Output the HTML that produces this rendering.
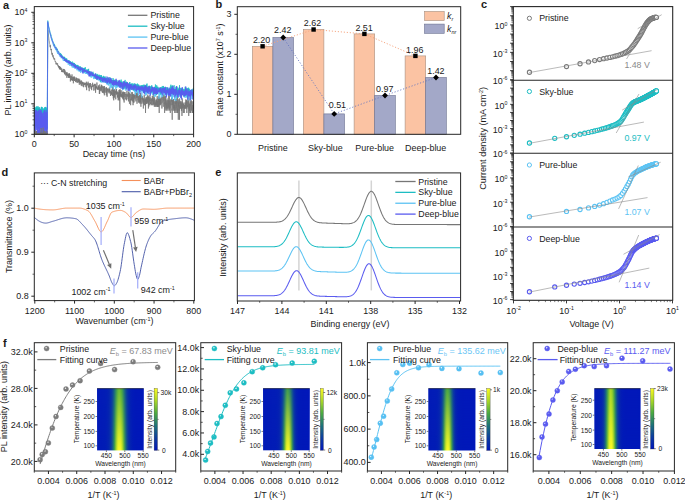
<!DOCTYPE html>
<html><head><meta charset="utf-8"><style>html,body{margin:0;padding:0;background:#fff;width:685px;height:500px;overflow:hidden}svg{display:block}</style></head>
<body><svg width="685" height="500" viewBox="0 0 685 500" font-family='"Liberation Sans", sans-serif'><defs><linearGradient id="hm0_b" gradientUnits="userSpaceOnUse" x1="97.10" y1="0" x2="143.70" y2="0"><stop offset="0.0000" stop-color="#011ab7"/><stop offset="0.0250" stop-color="#011bb7"/><stop offset="0.0500" stop-color="#021bb7"/><stop offset="0.0750" stop-color="#021bb7"/><stop offset="0.1000" stop-color="#021bb6"/><stop offset="0.1250" stop-color="#021cb6"/><stop offset="0.1500" stop-color="#021cb6"/><stop offset="0.1750" stop-color="#021db5"/><stop offset="0.2000" stop-color="#031fb4"/><stop offset="0.2250" stop-color="#0422b2"/><stop offset="0.2500" stop-color="#0527ae"/><stop offset="0.2750" stop-color="#0830a8"/><stop offset="0.3000" stop-color="#0c3d9f"/><stop offset="0.3250" stop-color="#15588c"/><stop offset="0.3500" stop-color="#257b70"/><stop offset="0.3750" stop-color="#46a447"/><stop offset="0.4000" stop-color="#8cc930"/><stop offset="0.4250" stop-color="#cbe526"/><stop offset="0.4500" stop-color="#f7f823"/><stop offset="0.4750" stop-color="#fafa23"/><stop offset="0.5000" stop-color="#fafa23"/><stop offset="0.5250" stop-color="#dded25"/><stop offset="0.5500" stop-color="#abd828"/><stop offset="0.5750" stop-color="#63b63b"/><stop offset="0.6000" stop-color="#348d5e"/><stop offset="0.6250" stop-color="#1a6681"/><stop offset="0.6500" stop-color="#104798"/><stop offset="0.6750" stop-color="#0933a6"/><stop offset="0.7000" stop-color="#0628ae"/><stop offset="0.7250" stop-color="#0321b3"/><stop offset="0.7500" stop-color="#021db5"/><stop offset="0.7750" stop-color="#011ab7"/><stop offset="0.8000" stop-color="#0119b8"/><stop offset="0.8250" stop-color="#0119b8"/><stop offset="0.8500" stop-color="#0118b8"/><stop offset="0.8750" stop-color="#0118b9"/><stop offset="0.9000" stop-color="#0118b9"/><stop offset="0.9250" stop-color="#0118b9"/><stop offset="0.9500" stop-color="#0118b9"/><stop offset="0.9750" stop-color="#0118b9"/><stop offset="1.0000" stop-color="#0118b9"/></linearGradient><linearGradient id="hm0_t" gradientUnits="userSpaceOnUse" x1="97.10" y1="0" x2="143.70" y2="0"><stop offset="0.0000" stop-color="#011ab7"/><stop offset="0.0250" stop-color="#011bb7"/><stop offset="0.0500" stop-color="#021bb7"/><stop offset="0.0750" stop-color="#021bb7"/><stop offset="0.1000" stop-color="#021bb6"/><stop offset="0.1250" stop-color="#021cb6"/><stop offset="0.1500" stop-color="#021cb6"/><stop offset="0.1750" stop-color="#021db5"/><stop offset="0.2000" stop-color="#021eb5"/><stop offset="0.2250" stop-color="#0320b3"/><stop offset="0.2500" stop-color="#0423b1"/><stop offset="0.2750" stop-color="#0629ad"/><stop offset="0.3000" stop-color="#0831a8"/><stop offset="0.3250" stop-color="#0c3da0"/><stop offset="0.3500" stop-color="#135290"/><stop offset="0.3750" stop-color="#1c6c7d"/><stop offset="0.4000" stop-color="#2e8764"/><stop offset="0.4250" stop-color="#43a04b"/><stop offset="0.4500" stop-color="#5bb13d"/><stop offset="0.4750" stop-color="#6bb939"/><stop offset="0.5000" stop-color="#59b13d"/><stop offset="0.5250" stop-color="#47a546"/><stop offset="0.5500" stop-color="#36905b"/><stop offset="0.5750" stop-color="#207675"/><stop offset="0.6000" stop-color="#165b89"/><stop offset="0.6250" stop-color="#0e439b"/><stop offset="0.6500" stop-color="#0933a6"/><stop offset="0.6750" stop-color="#0629ad"/><stop offset="0.7000" stop-color="#0422b2"/><stop offset="0.7250" stop-color="#021eb5"/><stop offset="0.7500" stop-color="#021bb7"/><stop offset="0.7750" stop-color="#011ab8"/><stop offset="0.8000" stop-color="#0119b8"/><stop offset="0.8250" stop-color="#0118b8"/><stop offset="0.8500" stop-color="#0118b8"/><stop offset="0.8750" stop-color="#0118b9"/><stop offset="0.9000" stop-color="#0118b9"/><stop offset="0.9250" stop-color="#0118b9"/><stop offset="0.9500" stop-color="#0118b9"/><stop offset="0.9750" stop-color="#0118b9"/><stop offset="1.0000" stop-color="#0118b9"/></linearGradient><linearGradient id="hm0_v" x1="0" y1="0" x2="0" y2="1"><stop offset="0" stop-color="#fff"/><stop offset="1" stop-color="#000"/></linearGradient><mask id="hm0_m" maskUnits="userSpaceOnUse" x="96.10" y="387.40" width="48.60" height="64.00"><rect x="97.10" y="388.40" width="46.60" height="62.00" fill="url(#hm0_v)"/></mask><linearGradient id="cb0" x1="0" y1="0" x2="0" y2="1"><stop offset="0.000" stop-color="#fafa23"/><stop offset="0.050" stop-color="#e6f124"/><stop offset="0.100" stop-color="#d2e826"/><stop offset="0.150" stop-color="#bee027"/><stop offset="0.200" stop-color="#aad728"/><stop offset="0.250" stop-color="#92cc2e"/><stop offset="0.300" stop-color="#7ac035"/><stop offset="0.350" stop-color="#63b53b"/><stop offset="0.400" stop-color="#4baa41"/><stop offset="0.450" stop-color="#409c4f"/><stop offset="0.500" stop-color="#348e5c"/><stop offset="0.550" stop-color="#29816a"/><stop offset="0.600" stop-color="#1e7378"/><stop offset="0.650" stop-color="#196582"/><stop offset="0.700" stop-color="#15588c"/><stop offset="0.750" stop-color="#104a96"/><stop offset="0.800" stop-color="#0c3ca0"/><stop offset="0.850" stop-color="#0932a6"/><stop offset="0.900" stop-color="#0629ad"/><stop offset="0.950" stop-color="#0320b4"/><stop offset="1.000" stop-color="#0016ba"/></linearGradient><radialGradient id="sg0" cx="0.4" cy="0.35" r="0.65"><stop offset="0" stop-color="#ffffff" stop-opacity="0.85"/><stop offset="0.35" stop-color="#7c7c7c" stop-opacity="1"/><stop offset="1" stop-color="#7c7c7c"/></radialGradient><linearGradient id="hm1_b" gradientUnits="userSpaceOnUse" x1="263.10" y1="0" x2="309.70" y2="0"><stop offset="0.0000" stop-color="#011ab7"/><stop offset="0.0250" stop-color="#011ab7"/><stop offset="0.0500" stop-color="#011ab7"/><stop offset="0.0750" stop-color="#011bb7"/><stop offset="0.1000" stop-color="#021bb7"/><stop offset="0.1250" stop-color="#021bb7"/><stop offset="0.1500" stop-color="#021bb6"/><stop offset="0.1750" stop-color="#021bb6"/><stop offset="0.2000" stop-color="#021cb6"/><stop offset="0.2250" stop-color="#021cb6"/><stop offset="0.2500" stop-color="#021cb6"/><stop offset="0.2750" stop-color="#021db5"/><stop offset="0.3000" stop-color="#031eb4"/><stop offset="0.3250" stop-color="#0421b2"/><stop offset="0.3500" stop-color="#0627ae"/><stop offset="0.3750" stop-color="#0933a6"/><stop offset="0.4000" stop-color="#114a96"/><stop offset="0.4250" stop-color="#1e7279"/><stop offset="0.4500" stop-color="#46a447"/><stop offset="0.4750" stop-color="#9ed12b"/><stop offset="0.5000" stop-color="#e3f024"/><stop offset="0.5250" stop-color="#fafa23"/><stop offset="0.5500" stop-color="#fafa23"/><stop offset="0.5750" stop-color="#d3e925"/><stop offset="0.6000" stop-color="#89c831"/><stop offset="0.6250" stop-color="#3d9853"/><stop offset="0.6500" stop-color="#1a6781"/><stop offset="0.6750" stop-color="#0d419d"/><stop offset="0.7000" stop-color="#072daa"/><stop offset="0.7250" stop-color="#0423b1"/><stop offset="0.7500" stop-color="#021db5"/><stop offset="0.7750" stop-color="#011ab7"/><stop offset="0.8000" stop-color="#0119b8"/><stop offset="0.8250" stop-color="#0119b8"/><stop offset="0.8500" stop-color="#0118b8"/><stop offset="0.8750" stop-color="#0118b8"/><stop offset="0.9000" stop-color="#0118b9"/><stop offset="0.9250" stop-color="#0118b9"/><stop offset="0.9500" stop-color="#0118b9"/><stop offset="0.9750" stop-color="#0118b9"/><stop offset="1.0000" stop-color="#0118b9"/></linearGradient><linearGradient id="hm1_t" gradientUnits="userSpaceOnUse" x1="263.10" y1="0" x2="309.70" y2="0"><stop offset="0.0000" stop-color="#011ab7"/><stop offset="0.0250" stop-color="#011ab7"/><stop offset="0.0500" stop-color="#011ab7"/><stop offset="0.0750" stop-color="#011bb7"/><stop offset="0.1000" stop-color="#021bb7"/><stop offset="0.1250" stop-color="#021bb7"/><stop offset="0.1500" stop-color="#021bb6"/><stop offset="0.1750" stop-color="#021bb6"/><stop offset="0.2000" stop-color="#021cb6"/><stop offset="0.2250" stop-color="#021cb6"/><stop offset="0.2500" stop-color="#021cb6"/><stop offset="0.2750" stop-color="#021db5"/><stop offset="0.3000" stop-color="#021db5"/><stop offset="0.3250" stop-color="#031fb4"/><stop offset="0.3500" stop-color="#0422b2"/><stop offset="0.3750" stop-color="#0628ae"/><stop offset="0.4000" stop-color="#0932a7"/><stop offset="0.4250" stop-color="#0e419c"/><stop offset="0.4500" stop-color="#165b8a"/><stop offset="0.4750" stop-color="#207675"/><stop offset="0.5000" stop-color="#338d5e"/><stop offset="0.5250" stop-color="#3e9a51"/><stop offset="0.5500" stop-color="#379259"/><stop offset="0.5750" stop-color="#2c8467"/><stop offset="0.6000" stop-color="#1c6c7d"/><stop offset="0.6250" stop-color="#135191"/><stop offset="0.6500" stop-color="#0b39a2"/><stop offset="0.6750" stop-color="#072cab"/><stop offset="0.7000" stop-color="#0423b1"/><stop offset="0.7250" stop-color="#021eb5"/><stop offset="0.7500" stop-color="#021bb7"/><stop offset="0.7750" stop-color="#0119b8"/><stop offset="0.8000" stop-color="#0119b8"/><stop offset="0.8250" stop-color="#0119b8"/><stop offset="0.8500" stop-color="#0118b8"/><stop offset="0.8750" stop-color="#0118b8"/><stop offset="0.9000" stop-color="#0118b9"/><stop offset="0.9250" stop-color="#0118b9"/><stop offset="0.9500" stop-color="#0118b9"/><stop offset="0.9750" stop-color="#0118b9"/><stop offset="1.0000" stop-color="#0118b9"/></linearGradient><linearGradient id="hm1_v" x1="0" y1="0" x2="0" y2="1"><stop offset="0" stop-color="#fff"/><stop offset="1" stop-color="#000"/></linearGradient><mask id="hm1_m" maskUnits="userSpaceOnUse" x="262.10" y="387.40" width="48.60" height="63.90"><rect x="263.10" y="388.40" width="46.60" height="61.90" fill="url(#hm1_v)"/></mask><linearGradient id="cb1" x1="0" y1="0" x2="0" y2="1"><stop offset="0.000" stop-color="#fafa23"/><stop offset="0.050" stop-color="#e6f124"/><stop offset="0.100" stop-color="#d2e826"/><stop offset="0.150" stop-color="#bee027"/><stop offset="0.200" stop-color="#aad728"/><stop offset="0.250" stop-color="#92cc2e"/><stop offset="0.300" stop-color="#7ac035"/><stop offset="0.350" stop-color="#63b53b"/><stop offset="0.400" stop-color="#4baa41"/><stop offset="0.450" stop-color="#409c4f"/><stop offset="0.500" stop-color="#348e5c"/><stop offset="0.550" stop-color="#29816a"/><stop offset="0.600" stop-color="#1e7378"/><stop offset="0.650" stop-color="#196582"/><stop offset="0.700" stop-color="#15588c"/><stop offset="0.750" stop-color="#104a96"/><stop offset="0.800" stop-color="#0c3ca0"/><stop offset="0.850" stop-color="#0932a6"/><stop offset="0.900" stop-color="#0629ad"/><stop offset="0.950" stop-color="#0320b4"/><stop offset="1.000" stop-color="#0016ba"/></linearGradient><radialGradient id="sg1" cx="0.4" cy="0.35" r="0.65"><stop offset="0" stop-color="#ffffff" stop-opacity="0.85"/><stop offset="0.35" stop-color="#1dbdc3" stop-opacity="1"/><stop offset="1" stop-color="#1dbdc3"/></radialGradient><linearGradient id="hm2_b" gradientUnits="userSpaceOnUse" x1="428.40" y1="0" x2="475.40" y2="0"><stop offset="0.0000" stop-color="#021bb7"/><stop offset="0.0250" stop-color="#021bb6"/><stop offset="0.0500" stop-color="#021bb6"/><stop offset="0.0750" stop-color="#021cb6"/><stop offset="0.1000" stop-color="#021cb6"/><stop offset="0.1250" stop-color="#021cb6"/><stop offset="0.1500" stop-color="#021db5"/><stop offset="0.1750" stop-color="#031eb4"/><stop offset="0.2000" stop-color="#0321b3"/><stop offset="0.2250" stop-color="#0526af"/><stop offset="0.2500" stop-color="#0931a7"/><stop offset="0.2750" stop-color="#0f4798"/><stop offset="0.3000" stop-color="#1c6e7c"/><stop offset="0.3250" stop-color="#43a04b"/><stop offset="0.3500" stop-color="#97ce2d"/><stop offset="0.3750" stop-color="#dfee25"/><stop offset="0.4000" stop-color="#fafa23"/><stop offset="0.4250" stop-color="#fafa23"/><stop offset="0.4500" stop-color="#d5ea25"/><stop offset="0.4750" stop-color="#8cc930"/><stop offset="0.5000" stop-color="#3e9a51"/><stop offset="0.5250" stop-color="#1a6880"/><stop offset="0.5500" stop-color="#0e419d"/><stop offset="0.5750" stop-color="#072daa"/><stop offset="0.6000" stop-color="#0422b2"/><stop offset="0.6250" stop-color="#021db5"/><stop offset="0.6500" stop-color="#011ab7"/><stop offset="0.6750" stop-color="#0119b8"/><stop offset="0.7000" stop-color="#0119b8"/><stop offset="0.7250" stop-color="#0118b8"/><stop offset="0.7500" stop-color="#0118b8"/><stop offset="0.7750" stop-color="#0118b9"/><stop offset="0.8000" stop-color="#0118b9"/><stop offset="0.8250" stop-color="#0118b9"/><stop offset="0.8500" stop-color="#0118b9"/><stop offset="0.8750" stop-color="#0118b9"/><stop offset="0.9000" stop-color="#0118b9"/><stop offset="0.9250" stop-color="#0118b9"/><stop offset="0.9500" stop-color="#0118b9"/><stop offset="0.9750" stop-color="#0018b9"/><stop offset="1.0000" stop-color="#0018b9"/></linearGradient><linearGradient id="hm2_t" gradientUnits="userSpaceOnUse" x1="428.40" y1="0" x2="475.40" y2="0"><stop offset="0.0000" stop-color="#021bb7"/><stop offset="0.0250" stop-color="#021bb6"/><stop offset="0.0500" stop-color="#021bb6"/><stop offset="0.0750" stop-color="#021cb6"/><stop offset="0.1000" stop-color="#021cb6"/><stop offset="0.1250" stop-color="#021cb6"/><stop offset="0.1500" stop-color="#021db5"/><stop offset="0.1750" stop-color="#021db5"/><stop offset="0.2000" stop-color="#031fb4"/><stop offset="0.2250" stop-color="#0422b2"/><stop offset="0.2500" stop-color="#0628ad"/><stop offset="0.2750" stop-color="#0932a7"/><stop offset="0.3000" stop-color="#0f449a"/><stop offset="0.3250" stop-color="#185f86"/><stop offset="0.3500" stop-color="#277e6d"/><stop offset="0.3750" stop-color="#3c9853"/><stop offset="0.4000" stop-color="#49a843"/><stop offset="0.4250" stop-color="#43a04b"/><stop offset="0.4500" stop-color="#36915a"/><stop offset="0.4750" stop-color="#217774"/><stop offset="0.5000" stop-color="#15598b"/><stop offset="0.5250" stop-color="#0c3d9f"/><stop offset="0.5500" stop-color="#082eaa"/><stop offset="0.5750" stop-color="#0424b0"/><stop offset="0.6000" stop-color="#031eb4"/><stop offset="0.6250" stop-color="#021bb7"/><stop offset="0.6500" stop-color="#0119b8"/><stop offset="0.6750" stop-color="#0119b8"/><stop offset="0.7000" stop-color="#0119b8"/><stop offset="0.7250" stop-color="#0118b8"/><stop offset="0.7500" stop-color="#0118b8"/><stop offset="0.7750" stop-color="#0118b9"/><stop offset="0.8000" stop-color="#0118b9"/><stop offset="0.8250" stop-color="#0118b9"/><stop offset="0.8500" stop-color="#0118b9"/><stop offset="0.8750" stop-color="#0118b9"/><stop offset="0.9000" stop-color="#0118b9"/><stop offset="0.9250" stop-color="#0118b9"/><stop offset="0.9500" stop-color="#0118b9"/><stop offset="0.9750" stop-color="#0018b9"/><stop offset="1.0000" stop-color="#0018b9"/></linearGradient><linearGradient id="hm2_v" x1="0" y1="0" x2="0" y2="1"><stop offset="0" stop-color="#fff"/><stop offset="1" stop-color="#000"/></linearGradient><mask id="hm2_m" maskUnits="userSpaceOnUse" x="427.40" y="387.40" width="49.00" height="64.10"><rect x="428.40" y="388.40" width="47.00" height="62.10" fill="url(#hm2_v)"/></mask><linearGradient id="cb2" x1="0" y1="0" x2="0" y2="1"><stop offset="0.000" stop-color="#fafa23"/><stop offset="0.050" stop-color="#e6f124"/><stop offset="0.100" stop-color="#d2e826"/><stop offset="0.150" stop-color="#bee027"/><stop offset="0.200" stop-color="#aad728"/><stop offset="0.250" stop-color="#92cc2e"/><stop offset="0.300" stop-color="#7ac035"/><stop offset="0.350" stop-color="#63b53b"/><stop offset="0.400" stop-color="#4baa41"/><stop offset="0.450" stop-color="#409c4f"/><stop offset="0.500" stop-color="#348e5c"/><stop offset="0.550" stop-color="#29816a"/><stop offset="0.600" stop-color="#1e7378"/><stop offset="0.650" stop-color="#196582"/><stop offset="0.700" stop-color="#15588c"/><stop offset="0.750" stop-color="#104a96"/><stop offset="0.800" stop-color="#0c3ca0"/><stop offset="0.850" stop-color="#0932a6"/><stop offset="0.900" stop-color="#0629ad"/><stop offset="0.950" stop-color="#0320b4"/><stop offset="1.000" stop-color="#0016ba"/></linearGradient><radialGradient id="sg2" cx="0.4" cy="0.35" r="0.65"><stop offset="0" stop-color="#ffffff" stop-opacity="0.85"/><stop offset="0.35" stop-color="#56bff2" stop-opacity="1"/><stop offset="1" stop-color="#56bff2"/></radialGradient><linearGradient id="hm3_b" gradientUnits="userSpaceOnUse" x1="594.40" y1="0" x2="640.50" y2="0"><stop offset="0.0000" stop-color="#021bb6"/><stop offset="0.0250" stop-color="#021cb6"/><stop offset="0.0500" stop-color="#021cb6"/><stop offset="0.0750" stop-color="#021db5"/><stop offset="0.1000" stop-color="#031eb4"/><stop offset="0.1250" stop-color="#0321b3"/><stop offset="0.1500" stop-color="#0526af"/><stop offset="0.1750" stop-color="#082fa9"/><stop offset="0.2000" stop-color="#0d3e9f"/><stop offset="0.2250" stop-color="#175d88"/><stop offset="0.2500" stop-color="#2e8764"/><stop offset="0.2750" stop-color="#61b53b"/><stop offset="0.3000" stop-color="#b3db27"/><stop offset="0.3250" stop-color="#ecf424"/><stop offset="0.3500" stop-color="#fafa23"/><stop offset="0.3750" stop-color="#fafa23"/><stop offset="0.4000" stop-color="#d7eb25"/><stop offset="0.4250" stop-color="#98cf2d"/><stop offset="0.4500" stop-color="#48a645"/><stop offset="0.4750" stop-color="#217774"/><stop offset="0.5000" stop-color="#124f92"/><stop offset="0.5250" stop-color="#0a35a5"/><stop offset="0.5500" stop-color="#0628ae"/><stop offset="0.5750" stop-color="#0320b3"/><stop offset="0.6000" stop-color="#021cb6"/><stop offset="0.6250" stop-color="#011ab7"/><stop offset="0.6500" stop-color="#0119b8"/><stop offset="0.6750" stop-color="#0119b8"/><stop offset="0.7000" stop-color="#0118b8"/><stop offset="0.7250" stop-color="#0118b9"/><stop offset="0.7500" stop-color="#0118b9"/><stop offset="0.7750" stop-color="#0118b9"/><stop offset="0.8000" stop-color="#0118b9"/><stop offset="0.8250" stop-color="#0118b9"/><stop offset="0.8500" stop-color="#0118b9"/><stop offset="0.8750" stop-color="#0118b9"/><stop offset="0.9000" stop-color="#0118b9"/><stop offset="0.9250" stop-color="#0118b9"/><stop offset="0.9500" stop-color="#0018b9"/><stop offset="0.9750" stop-color="#0017b9"/><stop offset="1.0000" stop-color="#0017b9"/></linearGradient><linearGradient id="hm3_t" gradientUnits="userSpaceOnUse" x1="594.40" y1="0" x2="640.50" y2="0"><stop offset="0.0000" stop-color="#021bb6"/><stop offset="0.0250" stop-color="#021cb6"/><stop offset="0.0500" stop-color="#021cb6"/><stop offset="0.0750" stop-color="#021db5"/><stop offset="0.1000" stop-color="#021eb5"/><stop offset="0.1250" stop-color="#0320b3"/><stop offset="0.1500" stop-color="#0423b1"/><stop offset="0.1750" stop-color="#062aac"/><stop offset="0.2000" stop-color="#0a35a5"/><stop offset="0.2250" stop-color="#114a96"/><stop offset="0.2500" stop-color="#1b697f"/><stop offset="0.2750" stop-color="#348d5e"/><stop offset="0.3000" stop-color="#58b03d"/><stop offset="0.3250" stop-color="#8bc930"/><stop offset="0.3500" stop-color="#a7d629"/><stop offset="0.3750" stop-color="#96ce2d"/><stop offset="0.4000" stop-color="#76be36"/><stop offset="0.4250" stop-color="#46a447"/><stop offset="0.4500" stop-color="#287f6c"/><stop offset="0.4750" stop-color="#165c89"/><stop offset="0.5000" stop-color="#0d3e9f"/><stop offset="0.5250" stop-color="#082ea9"/><stop offset="0.5500" stop-color="#0524b0"/><stop offset="0.5750" stop-color="#031eb4"/><stop offset="0.6000" stop-color="#021bb6"/><stop offset="0.6250" stop-color="#011ab8"/><stop offset="0.6500" stop-color="#0119b8"/><stop offset="0.6750" stop-color="#0118b8"/><stop offset="0.7000" stop-color="#0118b8"/><stop offset="0.7250" stop-color="#0118b9"/><stop offset="0.7500" stop-color="#0118b9"/><stop offset="0.7750" stop-color="#0118b9"/><stop offset="0.8000" stop-color="#0118b9"/><stop offset="0.8250" stop-color="#0118b9"/><stop offset="0.8500" stop-color="#0118b9"/><stop offset="0.8750" stop-color="#0118b9"/><stop offset="0.9000" stop-color="#0118b9"/><stop offset="0.9250" stop-color="#0118b9"/><stop offset="0.9500" stop-color="#0018b9"/><stop offset="0.9750" stop-color="#0017b9"/><stop offset="1.0000" stop-color="#0017b9"/></linearGradient><linearGradient id="hm3_v" x1="0" y1="0" x2="0" y2="1"><stop offset="0" stop-color="#fff"/><stop offset="1" stop-color="#000"/></linearGradient><mask id="hm3_m" maskUnits="userSpaceOnUse" x="593.40" y="387.40" width="48.10" height="62.60"><rect x="594.40" y="388.40" width="46.10" height="60.60" fill="url(#hm3_v)"/></mask><linearGradient id="cb3" x1="0" y1="0" x2="0" y2="1"><stop offset="0.000" stop-color="#fafa23"/><stop offset="0.050" stop-color="#e6f124"/><stop offset="0.100" stop-color="#d2e826"/><stop offset="0.150" stop-color="#bee027"/><stop offset="0.200" stop-color="#aad728"/><stop offset="0.250" stop-color="#92cc2e"/><stop offset="0.300" stop-color="#7ac035"/><stop offset="0.350" stop-color="#63b53b"/><stop offset="0.400" stop-color="#4baa41"/><stop offset="0.450" stop-color="#409c4f"/><stop offset="0.500" stop-color="#348e5c"/><stop offset="0.550" stop-color="#29816a"/><stop offset="0.600" stop-color="#1e7378"/><stop offset="0.650" stop-color="#196582"/><stop offset="0.700" stop-color="#15588c"/><stop offset="0.750" stop-color="#104a96"/><stop offset="0.800" stop-color="#0c3ca0"/><stop offset="0.850" stop-color="#0932a6"/><stop offset="0.900" stop-color="#0629ad"/><stop offset="0.950" stop-color="#0320b4"/><stop offset="1.000" stop-color="#0016ba"/></linearGradient><radialGradient id="sg3" cx="0.4" cy="0.35" r="0.65"><stop offset="0" stop-color="#ffffff" stop-opacity="0.85"/><stop offset="0.35" stop-color="#5a5bef" stop-opacity="1"/><stop offset="1" stop-color="#5a5bef"/></radialGradient></defs><rect width="685" height="500" fill="#fff"/><text x="2.90" y="8.60" font-size="11" text-anchor="start" fill="#1a1a1a" font-weight="bold">a</text>
<path d="M34.34,134.29 L34.41,133.73 L34.48,133.30 L34.55,134.30 L34.63,134.29 L34.70,130.64 L34.77,134.30 L34.84,134.29 L34.91,130.40 L34.98,133.20 L35.06,134.07 L35.13,133.69 L35.20,132.97 L35.27,134.20 L35.34,134.29 L35.42,132.06 L35.49,132.92 L35.56,133.68 L35.63,131.81 L35.70,133.54 L35.77,129.98 L35.85,134.26 L35.92,133.52 L35.99,133.78 L36.06,134.10 L36.13,133.35 L36.20,134.24 L36.28,131.94 L36.35,131.31 L36.42,134.29 L36.49,133.83 L36.56,134.20 L36.63,134.30 L36.71,131.01 L36.78,133.94 L36.85,134.29 L36.92,132.90 L36.99,134.26 L37.06,130.95 L37.14,134.25 L37.21,134.30 L37.28,134.26 L37.35,134.11 L37.42,133.83 L37.49,130.90 L37.57,132.75 L37.64,134.12 L37.71,134.30 L37.78,134.28 L37.85,129.77 L37.92,133.86 L38.00,132.79 L38.07,134.30 L38.14,134.30 L38.21,131.53 L38.28,133.37 L38.35,134.17 L38.43,134.15 L38.50,134.30 L38.57,134.28 L38.64,134.30 L38.71,131.60 L38.78,133.84 L38.86,134.29 L38.93,132.45 L39.00,134.27 L39.07,134.30 L39.14,133.32 L39.21,131.01 L39.29,134.30 L39.36,131.91 L39.43,134.27 L39.50,134.30 L39.57,134.30 L39.64,134.18 L39.72,132.54 L39.79,133.75 L39.86,131.46 L39.93,134.25 L40.00,134.16 L40.07,134.22 L40.15,130.02 L40.22,130.49 L40.29,134.12 L40.36,133.92 L40.43,134.16 L40.50,132.40 L40.58,134.30 L40.65,134.30 L40.72,134.00 L40.79,134.23 L40.86,131.54 L40.93,132.43 L41.01,133.56 L41.08,132.98 L41.15,132.78 L41.22,132.12 L41.29,130.65 L41.36,134.28 L41.44,133.18 L41.51,134.29 L41.58,133.90 L41.65,132.08 L41.72,131.02 L41.80,132.30 L41.87,134.30 L41.94,134.09 L42.01,134.28 L42.08,129.74 L42.15,134.29 L42.23,134.23 L42.30,134.09 L42.37,134.30 L42.44,131.28 L42.51,133.12 L42.58,134.28 L42.66,133.73 L42.73,134.30 L42.80,133.26 L42.87,134.24 L42.94,134.30 L43.01,134.29 L43.09,133.52 L43.16,133.12 L43.23,134.14 L43.30,133.08 L43.37,134.10 L43.44,134.29 L43.52,134.16 L43.59,134.02 L43.66,130.82 L43.73,134.29 L43.80,134.30 L43.87,133.49 L43.95,130.21 L44.02,130.88 L44.09,132.73 L44.16,134.30 L44.23,131.90 L44.30,132.84 L44.38,134.29 L44.45,133.84 L44.52,134.30 L44.59,131.94 L44.66,132.60 L44.73,131.92 L44.81,132.29 L44.88,134.21 L44.95,132.05 L45.02,134.23 L45.09,134.29 L45.16,134.03 L45.24,133.74 L45.31,134.19 L45.38,133.28 L45.45,133.30 L45.52,134.24 L45.59,133.20 L45.67,134.09 L45.74,132.49 L45.81,134.19 L45.88,131.97 L45.95,133.97 L46.02,133.53 L46.10,132.90 L46.17,133.66 L46.24,134.22 L46.31,130.00 L46.38,134.30 L46.45,134.14 L46.53,133.54 L46.60,134.30 L46.67,134.28 L46.74,131.96 L46.81,132.10 L46.88,133.12 L46.96,130.94 L47.03,132.33 L47.10,134.18 L47.17,133.07 L47.24,134.12 L47.31,132.37 L47.36,112.95 L47.50,89.19 L47.63,65.42 L47.77,41.66 L47.90,29.87 L48.04,30.90 L48.18,32.47 L48.31,33.77 L48.45,35.26 L48.58,36.47 L48.72,37.41 L48.85,38.63 L48.99,40.13 L49.12,40.62 L49.26,41.20 L49.39,42.23 L49.53,43.45 L49.66,43.75 L49.80,44.33 L49.94,44.97 L50.07,46.13 L50.21,47.15 L50.34,45.20 L50.48,48.10 L50.61,48.45 L50.75,48.47 L50.88,49.48 L51.02,49.17 L51.15,50.29 L51.29,48.98 L51.42,51.85 L51.56,51.64 L51.70,53.50 L51.83,52.80 L51.97,52.86 L52.10,55.10 L52.24,54.17 L52.37,53.20 L52.51,54.26 L52.64,55.93 L52.78,56.67 L52.91,55.97 L53.05,55.17 L53.19,56.19 L53.32,57.65 L53.46,56.74 L53.59,57.09 L53.73,57.93 L53.86,58.97 L54.00,58.49 L54.13,59.61 L54.27,59.29 L54.40,59.15 L54.54,58.49 L54.67,58.44 L54.81,60.24 L54.95,60.69 L55.08,61.38 L55.22,61.06 L55.35,61.43 L55.49,61.11 L55.62,61.70 L55.76,62.27 L55.89,62.04 L56.03,64.32 L56.16,63.10 L56.30,62.86 L56.43,63.60 L56.57,63.28 L56.71,63.99 L56.84,64.25 L56.98,63.99 L57.11,64.80 L57.25,64.73 L57.38,63.47 L57.52,63.10 L57.65,63.66 L57.79,65.66 L57.92,65.74 L58.06,65.01 L58.20,65.44 L58.33,66.99 L58.47,65.81 L58.60,67.16 L58.74,67.41 L58.87,67.75 L59.01,66.04 L59.14,67.84 L59.28,68.02 L59.41,69.23 L59.55,66.12 L59.68,68.66 L59.82,66.59 L59.96,68.56 L60.09,67.33 L60.23,69.72 L60.36,67.75 L60.50,67.24 L60.63,69.23 L60.77,67.58 L60.90,68.94 L61.04,69.72 L61.17,69.23 L61.31,68.38 L61.44,70.24 L61.58,70.24 L61.72,72.04 L61.85,70.13 L61.99,68.75 L62.12,70.03 L62.26,72.04 L62.39,70.45 L62.53,72.04 L62.66,71.56 L62.80,70.67 L62.93,71.80 L63.07,71.68 L63.20,71.45 L63.34,72.40 L63.48,68.94 L63.61,70.13 L63.75,69.42 L63.88,71.68 L64.02,71.22 L64.15,71.68 L64.29,72.28 L64.42,73.30 L64.56,69.32 L64.69,74.12 L64.83,73.17 L64.97,74.40 L65.10,70.56 L65.24,72.53 L65.37,72.16 L65.51,73.57 L65.64,75.45 L65.78,74.55 L65.91,74.12 L66.05,74.26 L66.18,72.28 L66.32,72.16 L66.45,74.99 L66.59,73.17 L66.73,75.14 L66.86,77.84 L67.00,73.84 L67.13,72.28 L67.27,76.09 L67.40,74.12 L67.54,73.84 L67.67,74.12 L67.81,74.70 L67.94,75.14 L68.08,75.77 L68.21,73.43 L68.35,77.65 L68.49,74.99 L68.62,74.55 L68.76,77.65 L68.89,75.61 L69.03,74.99 L69.16,73.84 L69.30,78.02 L69.43,73.30 L69.57,76.94 L69.70,76.59 L69.84,77.29 L69.98,75.93 L70.11,74.55 L70.25,77.11 L70.38,81.46 L70.52,77.65 L70.65,75.93 L70.79,76.26 L70.92,80.07 L71.06,78.41 L71.19,77.11 L71.33,76.76 L71.46,80.07 L71.60,78.02 L71.74,76.26 L71.87,77.47 L72.01,74.40 L72.14,80.52 L72.28,79.01 L72.41,80.75 L72.55,79.01 L72.68,77.11 L72.82,79.63 L72.95,79.01 L73.09,78.02 L73.22,77.11 L73.36,83.30 L73.50,78.41 L73.63,77.47 L73.77,79.63 L73.90,78.02 L74.04,76.26 L74.17,80.29 L74.31,77.29 L74.44,80.98 L74.58,79.85 L74.71,80.98 L74.85,77.11 L74.99,77.84 L75.12,79.42 L75.26,78.60 L75.39,80.52 L75.53,81.71 L75.66,81.96 L75.80,79.21 L75.93,80.29 L76.07,79.63 L76.20,82.22 L76.34,80.29 L76.47,77.65 L76.61,80.98 L76.75,80.52 L76.88,78.80 L77.02,78.02 L77.15,82.75 L77.29,80.29 L77.42,81.46 L77.56,81.46 L77.69,82.48 L77.83,81.22 L77.96,78.60 L78.10,80.07 L78.23,79.01 L78.37,80.07 L78.51,81.96 L78.64,79.42 L78.78,82.48 L78.91,78.60 L79.05,79.21 L79.18,82.75 L79.32,84.79 L79.45,79.85 L79.59,82.22 L79.72,83.02 L79.86,79.63 L80.00,80.07 L80.13,82.48 L80.27,81.96 L80.40,84.17 L80.54,83.88 L80.67,80.98 L80.81,81.22 L80.94,85.11 L81.08,85.44 L81.21,85.44 L81.35,85.11 L81.48,80.52 L81.62,80.75 L81.76,83.30 L81.89,86.12 L82.03,81.71 L82.16,81.96 L82.30,83.59 L82.43,82.22 L82.57,84.17 L82.70,82.22 L82.84,81.96 L82.97,83.59 L83.11,86.47 L83.24,83.02 L83.38,82.48 L83.52,85.77 L83.65,87.21 L83.79,86.83 L83.92,83.30 L84.06,84.79 L84.19,84.79 L84.33,84.17 L84.46,83.30 L84.60,82.75 L84.73,84.79 L84.87,85.11 L85.01,82.75 L85.14,84.79 L85.28,83.02 L85.41,83.59 L85.55,83.02 L85.68,84.48 L85.82,87.21 L85.95,84.17 L86.09,84.48 L86.22,83.59 L86.36,81.71 L86.49,84.79 L86.63,90.16 L86.77,84.79 L86.90,82.75 L87.04,84.79 L87.17,83.59 L87.31,85.44 L87.44,84.17 L87.58,85.11 L87.71,84.48 L87.85,84.48 L87.98,82.22 L88.12,81.71 L88.25,83.59 L88.39,87.21 L88.53,85.77 L88.66,87.59 L88.80,83.02 L88.93,86.12 L89.07,86.47 L89.20,91.14 L89.34,84.79 L89.47,84.79 L89.61,83.59 L89.74,87.21 L89.88,84.79 L90.02,83.59 L90.15,84.17 L90.29,86.47 L90.42,83.02 L90.56,84.48 L90.69,86.47 L90.83,86.47 L90.96,86.47 L91.10,88.81 L91.23,86.12 L91.37,87.59 L91.50,86.83 L91.64,90.16 L91.78,86.47 L91.91,85.77 L92.05,84.17 L92.18,87.21 L92.32,86.47 L92.45,86.83 L92.59,82.75 L92.72,84.79 L92.86,85.11 L92.99,85.77 L93.13,85.77 L93.26,86.47 L93.40,86.47 L93.54,85.11 L93.67,84.79 L93.81,90.64 L93.94,87.59 L94.08,87.59 L94.21,84.79 L94.35,83.88 L94.48,85.44 L94.62,84.48 L94.75,85.77 L94.89,85.11 L95.03,85.44 L95.16,90.16 L95.30,83.88 L95.43,84.79 L95.57,92.77 L95.70,86.83 L95.84,89.25 L95.97,87.99 L96.11,86.12 L96.24,87.99 L96.38,87.59 L96.51,87.99 L96.65,86.47 L96.79,87.21 L96.92,82.48 L97.06,89.25 L97.19,88.39 L97.33,88.81 L97.46,89.25 L97.60,88.39 L97.73,87.59 L97.87,89.70 L98.00,87.21 L98.14,89.70 L98.27,89.70 L98.41,85.77 L98.55,89.25 L98.68,85.44 L98.82,86.47 L98.95,88.81 L99.09,87.21 L99.22,87.99 L99.36,93.97 L99.49,89.25 L99.63,93.97 L99.76,84.48 L99.90,90.16 L100.04,87.59 L100.17,87.99 L100.31,87.99 L100.44,87.59 L100.58,91.14 L100.71,90.64 L100.85,90.64 L100.98,86.83 L101.12,86.12 L101.25,89.70 L101.39,88.39 L101.52,84.79 L101.66,87.21 L101.80,91.14 L101.93,85.44 L102.07,89.25 L102.20,92.20 L102.34,91.14 L102.47,92.77 L102.61,90.64 L102.74,87.59 L102.88,86.47 L103.01,87.99 L103.15,86.12 L103.28,92.77 L103.42,90.64 L103.56,87.21 L103.69,88.39 L103.83,93.36 L103.96,90.64 L104.10,88.81 L104.23,88.81 L104.37,95.30 L104.50,86.12 L104.64,91.66 L104.77,88.81 L104.91,87.99 L105.05,88.81 L105.18,89.25 L105.32,88.81 L105.45,89.25 L105.59,89.70 L105.72,92.20 L105.86,92.77 L105.99,92.20 L106.13,87.21 L106.26,94.62 L106.40,95.30 L106.53,87.59 L106.67,90.64 L106.81,92.20 L106.94,90.16 L107.08,96.77 L107.21,93.97 L107.35,88.81 L107.48,90.16 L107.62,88.81 L107.75,89.70 L107.89,90.64 L108.02,88.39 L108.16,88.81 L108.29,91.66 L108.43,92.20 L108.57,91.66 L108.70,92.20 L108.84,91.66 L108.97,89.25 L109.11,93.36 L109.24,87.59 L109.38,87.59 L109.51,91.66 L109.65,91.14 L109.78,88.81 L109.92,89.70 L110.06,91.66 L110.19,93.36 L110.33,91.14 L110.46,96.01 L110.60,94.62 L110.73,94.62 L110.87,91.66 L111.00,92.20 L111.14,91.66 L111.27,90.16 L111.41,93.97 L111.54,92.20 L111.68,94.62 L111.82,92.77 L111.95,95.30 L112.09,89.25 L112.22,91.14 L112.36,85.44 L112.49,88.81 L112.63,96.01 L112.76,96.01 L112.90,91.14 L113.03,90.16 L113.17,86.47 L113.30,98.43 L113.44,94.62 L113.58,88.81 L113.71,100.32 L113.85,92.20 L113.98,90.64 L114.12,95.30 L114.25,95.30 L114.39,89.25 L114.52,97.57 L114.66,93.36 L114.79,95.30 L114.93,93.36 L115.07,91.66 L115.20,93.36 L115.34,90.64 L115.47,93.36 L115.61,93.97 L115.74,99.34 L115.88,95.30 L116.01,93.97 L116.15,88.81 L116.28,94.62 L116.42,91.14 L116.55,89.25 L116.69,93.97 L116.83,93.97 L116.96,91.66 L117.10,93.97 L117.23,91.66 L117.37,94.62 L117.50,97.57 L117.64,96.01 L117.77,92.77 L117.91,96.77 L118.04,95.30 L118.18,100.32 L118.31,92.20 L118.45,92.77 L118.59,96.77 L118.72,94.62 L118.86,99.34 L118.99,90.16 L119.13,100.32 L119.26,96.01 L119.40,89.70 L119.53,100.32 L119.67,90.16 L119.80,110.57 L119.94,96.77 L120.08,89.25 L120.21,91.66 L120.35,96.77 L120.48,96.77 L120.62,91.66 L120.75,94.62 L120.89,96.01 L121.02,90.64 L121.16,90.16 L121.29,93.97 L121.43,96.77 L121.56,93.97 L121.70,95.30 L121.84,97.57 L121.97,94.62 L122.11,95.30 L122.24,96.77 L122.38,91.66 L122.51,92.77 L122.65,98.43 L122.78,92.77 L122.92,93.97 L123.05,99.34 L123.19,96.77 L123.32,94.62 L123.46,91.66 L123.60,93.36 L123.73,100.32 L123.87,92.20 L124.00,100.32 L124.14,102.54 L124.27,93.36 L124.41,92.20 L124.54,95.30 L124.68,96.77 L124.81,96.01 L124.95,93.97 L125.09,92.20 L125.22,94.62 L125.36,93.97 L125.49,95.30 L125.63,99.34 L125.76,97.57 L125.90,94.62 L126.03,95.30 L126.17,93.97 L126.30,94.62 L126.44,100.32 L126.57,97.57 L126.71,96.01 L126.85,92.77 L126.98,90.64 L127.12,96.01 L127.25,96.77 L127.39,94.62 L127.52,95.30 L127.66,94.62 L127.79,96.01 L127.93,96.77 L128.06,99.34 L128.20,93.36 L128.33,99.34 L128.47,101.38 L128.61,91.66 L128.74,93.36 L128.88,91.66 L129.01,96.77 L129.15,94.62 L129.28,93.36 L129.42,103.80 L129.55,103.80 L129.69,93.36 L129.82,97.57 L129.96,97.57 L130.10,96.01 L130.23,93.97 L130.37,94.62 L130.50,98.43 L130.64,105.20 L130.77,98.43 L130.91,100.32 L131.04,97.57 L131.18,96.77 L131.31,92.20 L131.45,94.62 L131.58,100.32 L131.72,97.57 L131.86,98.43 L131.99,97.57 L132.13,94.62 L132.26,94.62 L132.40,101.38 L132.53,92.20 L132.67,93.97 L132.80,96.01 L132.94,96.01 L133.07,105.20 L133.21,93.97 L133.34,99.34 L133.48,102.54 L133.62,100.32 L133.75,94.62 L133.89,98.43 L134.02,102.54 L134.16,95.30 L134.29,96.77 L134.43,96.77 L134.56,97.57 L134.70,94.62 L134.83,96.01 L134.97,99.34 L135.11,94.62 L135.24,92.77 L135.38,95.30 L135.51,95.30 L135.65,93.36 L135.78,98.43 L135.92,101.38 L136.05,94.62 L136.19,92.77 L136.32,95.30 L136.46,97.57 L136.59,93.36 L136.73,98.43 L136.87,98.43 L137.00,103.80 L137.14,96.01 L137.27,91.66 L137.41,97.57 L137.54,93.97 L137.68,93.97 L137.81,95.30 L137.95,100.32 L138.08,100.32 L138.22,96.77 L138.35,102.54 L138.49,97.57 L138.63,96.01 L138.76,96.01 L138.90,97.57 L139.03,99.34 L139.17,102.54 L139.30,95.30 L139.44,99.34 L139.57,102.54 L139.71,99.34 L139.84,94.62 L139.98,103.80 L140.12,103.80 L140.25,100.32 L140.39,96.01 L140.52,102.54 L140.66,92.77 L140.79,101.38 L140.93,106.76 L141.06,97.57 L141.20,97.57 L141.33,95.30 L141.47,96.01 L141.60,97.57 L141.74,99.34 L141.88,103.80 L142.01,98.43 L142.15,99.34 L142.28,96.77 L142.42,100.32 L142.55,96.01 L142.69,98.43 L142.82,99.34 L142.96,102.54 L143.09,98.43 L143.23,98.43 L143.36,108.52 L143.50,99.34 L143.64,103.80 L143.77,100.32 L143.91,98.43 L144.04,101.38 L144.18,95.30 L144.31,94.62 L144.45,105.20 L144.58,105.20 L144.72,100.32 L144.85,101.38 L144.99,99.34 L145.13,99.34 L145.26,105.20 L145.40,99.34 L145.53,112.98 L145.67,101.38 L145.80,97.57 L145.94,100.32 L146.07,99.34 L146.21,103.80 L146.34,97.57 L146.48,98.43 L146.61,103.80 L146.75,96.77 L146.89,97.57 L147.02,102.54 L147.16,99.34 L147.29,96.77 L147.43,102.54 L147.56,97.57 L147.70,96.77 L147.83,94.62 L147.97,103.80 L148.10,96.01 L148.24,100.32 L148.37,108.52 L148.51,106.76 L148.65,96.77 L148.78,106.76 L148.92,100.32 L149.05,98.43 L149.19,97.57 L149.32,101.38 L149.46,99.34 L149.59,100.32 L149.73,105.20 L149.86,95.30 L150.00,101.38 L150.13,99.34 L150.27,97.57 L150.41,101.38 L150.54,103.80 L150.68,102.54 L150.81,103.80 L150.95,103.80 L151.08,99.34 L151.22,105.20 L151.35,103.80 L151.49,98.43 L151.62,99.34 L151.76,100.32 L151.90,100.32 L152.03,102.54 L152.17,105.20 L152.30,96.01 L152.44,101.38 L152.57,98.43 L152.71,99.34 L152.84,98.43 L152.98,105.20 L153.11,101.38 L153.25,92.20 L153.38,103.80 L153.52,101.38 L153.66,99.34 L153.79,103.80 L153.93,102.54 L154.06,105.20 L154.20,96.77 L154.33,106.76 L154.47,102.54 L154.60,102.54 L154.74,98.43 L154.87,100.32 L155.01,101.38 L155.14,105.20 L155.28,106.76 L155.42,102.54 L155.55,105.20 L155.69,101.38 L155.82,100.32 L155.96,103.80 L156.09,106.76 L156.23,101.38 L156.36,99.34 L156.50,105.20 L156.63,100.32 L156.77,102.54 L156.91,101.38 L157.04,106.76 L157.18,96.01 L157.31,106.76 L157.45,103.80 L157.58,101.38 L157.72,106.76 L157.85,100.32 L157.99,99.34 L158.12,98.43 L158.26,106.76 L158.39,98.43 L158.53,96.77 L158.67,106.76 L158.80,103.80 L158.94,96.01 L159.07,97.57 L159.21,112.98 L159.34,98.43 L159.48,105.20 L159.61,100.32 L159.75,102.54 L159.88,97.57 L160.02,103.80 L160.15,102.54 L160.29,100.32 L160.43,99.34 L160.56,105.20 L160.70,101.38 L160.83,98.43 L160.97,103.80 L161.10,102.54 L161.24,101.38 L161.37,96.77 L161.51,99.34 L161.64,101.38 L161.78,105.20 L161.92,108.52 L162.05,102.54 L162.19,101.38 L162.32,102.54 L162.46,101.38 L162.59,94.62 L162.73,100.32 L162.86,100.32 L163.00,100.32 L163.13,102.54 L163.27,106.76 L163.40,100.32 L163.54,96.77 L163.68,94.62 L163.81,101.38 L163.95,98.43 L164.08,96.77 L164.22,103.80 L164.35,102.54 L164.49,106.76 L164.62,112.98 L164.76,94.62 L164.89,96.77 L165.03,108.52 L165.16,102.54 L165.30,99.34 L165.44,105.20 L165.57,96.01 L165.71,99.34 L165.84,110.57 L165.98,103.80 L166.11,102.54 L166.25,100.32 L166.38,108.52 L166.52,103.80 L166.65,102.54 L166.79,110.57 L166.93,100.32 L167.06,98.43 L167.20,101.38 L167.33,102.54 L167.47,108.52 L167.60,102.54 L167.74,100.32 L167.87,101.38 L168.01,110.57 L168.14,100.32 L168.28,105.20 L168.41,106.76 L168.55,100.32 L168.69,108.52 L168.82,96.01 L168.96,106.76 L169.09,102.54 L169.23,96.01 L169.36,110.57 L169.50,106.76 L169.63,100.32 L169.77,102.54 L169.90,108.52 L170.04,101.38 L170.17,108.52 L170.31,112.98 L170.45,102.54 L170.58,101.38 L170.72,99.34 L170.85,102.54 L170.99,105.20 L171.12,105.20 L171.26,100.32 L171.39,101.38 L171.53,97.57 L171.66,108.52 L171.80,108.52 L171.94,110.57 L172.07,108.52 L172.21,119.75 L172.34,100.32 L172.48,105.20 L172.61,100.32 L172.75,99.34 L172.88,108.52 L173.02,99.34 L173.15,102.54 L173.29,101.38 L173.42,108.52 L173.56,99.34 L173.70,110.57 L173.83,108.52 L173.97,106.76 L174.10,101.38 L174.24,110.57 L174.37,108.52 L174.51,105.20 L174.64,106.76 L174.78,112.98 L174.91,101.38 L175.05,106.76 L175.18,110.57 L175.32,99.34 L175.46,101.38 L175.59,103.80 L175.73,102.54 L175.86,103.80 L176.00,112.98 L176.13,99.34 L176.27,108.52 L176.40,106.76 L176.54,98.43 L176.67,103.80 L176.81,101.38 L176.95,110.57 L177.08,108.52 L177.22,112.98 L177.35,103.80 L177.49,101.38 L177.62,96.77 L177.76,112.98 L177.89,110.57 L178.03,105.20 L178.16,101.38 L178.30,119.75 L178.43,102.54 L178.57,106.76 L178.71,99.34 L178.84,105.20 L178.98,103.80 L179.11,110.57 L179.25,106.76 L179.38,105.20 L179.52,119.75 L179.65,98.43 L179.79,103.80 L179.92,102.54 L180.06,101.38 L180.19,108.52 L180.33,101.38 L180.47,102.54 L180.60,102.54 L180.74,108.52 L180.87,108.52 L181.01,102.54 L181.14,108.52 L181.28,105.20 L181.41,110.57 L181.55,103.80 L181.68,110.57 L181.82,101.38 L181.96,115.94 L182.09,102.54 L182.23,98.43 L182.36,99.34 L182.50,108.52 L182.63,102.54 L182.77,102.54 L182.90,106.76 L183.04,103.80 L183.17,108.52 L183.31,112.98 L183.44,108.52 L183.58,103.80 L183.72,106.76 L183.85,108.52 L183.99,103.80 L184.12,102.54 L184.26,112.98 L184.39,105.20 L184.53,108.52 L184.66,106.76 L184.80,105.20 L184.93,108.52 L185.07,106.76 L185.20,108.52 L185.34,105.20 L185.48,106.76 L185.61,102.54 L185.75,108.52 L185.88,99.34 L186.02,105.20 L186.15,103.80 L186.29,100.32 L186.42,108.52 L186.56,100.32 L186.69,110.57 L186.83,112.98 L186.97,110.57 L187.10,105.20 L187.24,101.38 L187.37,106.76 L187.51,105.20 L187.64,106.76 L187.78,106.76 L187.91,96.01 L188.05,108.52 L188.18,103.80 L188.32,96.01 L188.45,100.32 L188.59,103.80 L188.73,115.94 L188.86,102.54 L189.00,106.76 L189.13,108.52 L189.27,110.57 L189.40,103.80 L189.54,110.57 L189.67,106.76 L189.81,112.98 L189.94,105.20 L190.08,97.57 L190.21,106.76 L190.35,103.80 L190.49,112.98 L190.62,110.57 L190.76,106.76 L190.89,101.38 L191.03,103.80 L191.16,102.54 L191.30,100.32 L191.43,102.54 L191.57,110.57 L191.70,106.76 L191.84,106.76 L191.98,101.38 L192.11,112.98 L192.25,106.76 L192.38,105.20 L192.52,112.98 L192.65,108.52 L192.79,112.98 L192.92,106.76 L193.06,101.38 L193.19,105.20 L193.33,108.52 L193.46,108.52" fill="none" stroke="#767676" stroke-width="0.75" stroke-linejoin="round" />
<path d="M34.34,114.11 L34.41,130.57 L34.48,132.84 L34.55,108.90 L34.63,112.51 L34.70,123.06 L34.77,112.46 L34.84,109.06 L34.91,110.30 L34.98,113.29 L35.06,115.29 L35.13,113.60 L35.20,123.10 L35.27,116.78 L35.34,109.75 L35.42,118.50 L35.49,120.73 L35.56,115.37 L35.63,110.65 L35.70,109.67 L35.77,108.09 L35.85,108.54 L35.92,125.68 L35.99,116.59 L36.06,114.81 L36.13,112.70 L36.20,125.55 L36.28,118.47 L36.35,118.21 L36.42,113.86 L36.49,118.36 L36.56,119.57 L36.63,122.98 L36.71,112.94 L36.78,119.72 L36.85,122.43 L36.92,109.26 L36.99,118.03 L37.06,120.27 L37.14,126.41 L37.21,115.39 L37.28,118.98 L37.35,114.24 L37.42,119.67 L37.49,116.33 L37.57,124.91 L37.64,127.76 L37.71,108.96 L37.78,111.82 L37.85,117.31 L37.92,122.59 L38.00,112.94 L38.07,113.93 L38.14,113.63 L38.21,108.36 L38.28,118.72 L38.35,109.03 L38.43,117.03 L38.50,108.40 L38.57,108.43 L38.64,117.40 L38.71,115.77 L38.78,109.49 L38.86,109.52 L38.93,126.20 L39.00,115.66 L39.07,126.08 L39.14,110.17 L39.21,120.67 L39.29,119.25 L39.36,119.47 L39.43,112.06 L39.50,119.38 L39.57,116.88 L39.64,109.78 L39.72,116.90 L39.79,109.17 L39.86,109.18 L39.93,116.62 L40.00,121.67 L40.07,108.89 L40.15,114.71 L40.22,118.67 L40.29,127.91 L40.36,116.43 L40.43,129.43 L40.50,113.53 L40.58,117.82 L40.65,120.14 L40.72,122.01 L40.79,111.48 L40.86,109.43 L40.93,131.86 L41.01,115.21 L41.08,126.97 L41.15,129.37 L41.22,108.29 L41.29,119.62 L41.36,115.14 L41.44,109.38 L41.51,113.28 L41.58,118.80 L41.65,112.32 L41.72,111.09 L41.80,113.22 L41.87,117.99 L41.94,111.50 L42.01,118.27 L42.08,118.52 L42.15,120.39 L42.23,108.41 L42.30,125.23 L42.37,128.27 L42.44,120.12 L42.51,125.08 L42.58,118.42 L42.66,108.89 L42.73,108.76 L42.80,121.77 L42.87,120.04 L42.94,117.67 L43.01,108.74 L43.09,120.80 L43.16,111.39 L43.23,113.33 L43.30,109.70 L43.37,120.50 L43.44,109.03 L43.52,108.12 L43.59,117.79 L43.66,108.93 L43.73,111.86 L43.80,121.84 L43.87,116.87 L43.95,121.16 L44.02,109.38 L44.09,121.73 L44.16,109.73 L44.23,120.50 L44.30,109.53 L44.38,110.94 L44.45,111.85 L44.52,120.70 L44.59,112.09 L44.66,113.53 L44.73,118.84 L44.81,108.25 L44.88,108.64 L44.95,113.10 L45.02,109.31 L45.09,119.13 L45.16,123.49 L45.24,119.12 L45.31,114.52 L45.38,109.39 L45.45,110.28 L45.52,121.43 L45.59,110.57 L45.67,109.63 L45.74,114.26 L45.81,115.84 L45.88,116.32 L45.95,122.65 L46.02,120.98 L46.10,115.63 L46.17,115.53 L46.24,115.19 L46.31,116.77 L46.38,110.12 L46.45,123.57 L46.53,123.23 L46.60,108.98 L46.67,114.23 L46.74,113.68 L46.81,116.28 L46.88,117.14 L46.96,118.77 L47.03,115.14 L47.10,110.45 L47.17,128.79 L47.24,108.84 L47.31,122.87 L47.36,112.95 L47.50,73.93 L47.63,34.92 L47.77,22.95 L47.90,24.07 L48.04,24.66 L48.18,25.35 L48.31,26.55 L48.45,26.70 L48.58,27.77 L48.72,28.44 L48.85,29.12 L48.99,29.61 L49.12,30.18 L49.26,31.27 L49.39,31.51 L49.53,31.49 L49.66,32.84 L49.80,33.35 L49.94,33.97 L50.07,34.13 L50.21,35.07 L50.34,35.27 L50.48,35.90 L50.61,36.47 L50.75,37.12 L50.88,37.03 L51.02,37.70 L51.15,38.36 L51.29,38.97 L51.42,39.05 L51.56,39.63 L51.70,40.42 L51.83,40.84 L51.97,40.96 L52.10,41.35 L52.24,41.79 L52.37,41.76 L52.51,42.64 L52.64,43.19 L52.78,43.43 L52.91,44.07 L53.05,44.36 L53.19,44.64 L53.32,45.18 L53.46,45.38 L53.59,44.86 L53.73,45.68 L53.86,45.82 L54.00,46.56 L54.13,46.22 L54.27,46.73 L54.40,46.64 L54.54,46.97 L54.67,48.09 L54.81,47.64 L54.95,47.67 L55.08,47.80 L55.22,48.35 L55.35,49.08 L55.49,48.52 L55.62,49.91 L55.76,49.13 L55.89,48.90 L56.03,49.82 L56.16,49.48 L56.30,50.70 L56.43,50.32 L56.57,50.37 L56.71,50.72 L56.84,51.08 L56.98,52.06 L57.11,52.25 L57.25,51.04 L57.38,53.04 L57.52,52.74 L57.65,53.91 L57.79,53.20 L57.92,52.29 L58.06,53.86 L58.20,53.06 L58.33,53.81 L58.47,53.63 L58.60,53.84 L58.74,54.34 L58.87,54.61 L59.01,54.61 L59.14,54.39 L59.28,54.79 L59.41,55.62 L59.55,56.16 L59.68,56.16 L59.82,56.50 L59.96,55.89 L60.09,55.25 L60.23,55.32 L60.36,56.50 L60.50,56.45 L60.63,56.71 L60.77,55.97 L60.90,56.88 L61.04,58.18 L61.17,57.61 L61.31,57.64 L61.44,57.61 L61.58,57.30 L61.72,58.09 L61.85,56.74 L61.99,56.59 L62.12,58.15 L62.26,57.64 L62.39,58.65 L62.53,58.38 L62.66,58.88 L62.80,58.92 L62.93,58.95 L63.07,60.37 L63.20,59.30 L63.34,59.99 L63.48,60.60 L63.61,59.55 L63.75,59.84 L63.88,60.60 L64.02,60.22 L64.15,61.12 L64.29,59.66 L64.42,60.57 L64.56,60.11 L64.69,59.99 L64.83,60.72 L64.97,60.07 L65.10,60.80 L65.24,60.30 L65.37,60.49 L65.51,59.84 L65.64,61.75 L65.78,61.53 L65.91,60.68 L66.05,61.16 L66.18,61.79 L66.32,62.09 L66.45,62.58 L66.59,61.49 L66.73,62.36 L66.86,61.87 L67.00,62.90 L67.13,62.86 L67.27,61.83 L67.40,62.09 L67.54,61.96 L67.67,62.05 L67.81,62.49 L67.94,62.27 L68.08,62.54 L68.21,64.80 L68.35,62.76 L68.49,63.52 L68.62,63.04 L68.76,63.38 L68.89,64.32 L69.03,63.57 L69.16,63.38 L69.30,63.87 L69.43,63.09 L69.57,63.97 L69.70,63.72 L69.84,65.74 L69.98,63.28 L70.11,65.63 L70.25,64.27 L70.38,64.02 L70.52,63.82 L70.65,63.82 L70.79,65.40 L70.92,63.72 L71.06,65.12 L71.19,64.85 L71.33,64.64 L71.46,65.29 L71.60,64.22 L71.74,65.01 L71.87,65.92 L72.01,66.33 L72.14,67.40 L72.28,66.21 L72.41,65.23 L72.55,65.46 L72.68,66.88 L72.82,67.33 L72.95,66.33 L73.09,67.40 L73.22,67.14 L73.36,64.74 L73.50,65.57 L73.63,67.73 L73.77,66.70 L73.90,67.46 L74.04,66.15 L74.17,66.33 L74.31,67.01 L74.44,66.70 L74.58,68.48 L74.71,67.46 L74.85,67.73 L74.99,66.88 L75.12,66.39 L75.26,67.86 L75.39,65.97 L75.53,65.86 L75.66,67.73 L75.80,67.73 L75.93,68.27 L76.07,67.86 L76.20,68.07 L76.34,67.53 L76.47,67.93 L76.61,69.59 L76.75,69.21 L76.88,67.20 L77.02,66.70 L77.15,70.39 L77.29,69.59 L77.42,66.45 L77.56,67.73 L77.69,68.48 L77.83,68.63 L77.96,68.70 L78.10,68.41 L78.23,68.70 L78.37,71.32 L78.51,68.56 L78.64,68.56 L78.78,69.51 L78.91,70.72 L79.05,68.07 L79.18,69.14 L79.32,71.32 L79.45,70.47 L79.59,69.90 L79.72,70.47 L79.86,71.23 L80.00,71.95 L80.13,68.77 L80.27,71.32 L80.40,70.47 L80.54,67.27 L80.67,72.90 L80.81,70.06 L80.94,71.67 L81.08,70.47 L81.21,68.84 L81.35,69.51 L81.48,70.80 L81.62,70.30 L81.76,71.67 L81.89,70.97 L82.03,71.49 L82.16,70.97 L82.30,69.98 L82.43,71.76 L82.57,70.55 L82.70,70.80 L82.84,72.13 L82.97,73.00 L83.11,71.40 L83.24,73.20 L83.38,72.70 L83.52,70.72 L83.65,71.85 L83.79,70.14 L83.92,71.23 L84.06,71.76 L84.19,70.63 L84.33,71.32 L84.46,72.61 L84.60,71.85 L84.73,73.20 L84.87,71.49 L85.01,72.61 L85.14,70.47 L85.28,72.22 L85.41,73.82 L85.55,73.20 L85.68,73.40 L85.82,72.32 L85.95,73.40 L86.09,72.90 L86.22,73.00 L86.36,72.32 L86.49,72.32 L86.63,73.93 L86.77,73.10 L86.90,73.93 L87.04,72.51 L87.17,72.32 L87.31,72.80 L87.44,73.20 L87.58,73.10 L87.71,74.70 L87.85,73.93 L87.98,72.80 L88.12,72.90 L88.25,74.03 L88.39,72.04 L88.53,73.40 L88.66,75.27 L88.80,73.61 L88.93,74.25 L89.07,75.16 L89.20,71.40 L89.34,74.14 L89.47,72.70 L89.61,74.58 L89.74,73.30 L89.88,73.51 L90.02,74.25 L90.15,74.03 L90.29,75.04 L90.42,76.64 L90.56,74.70 L90.69,76.51 L90.83,72.61 L90.96,77.18 L91.10,76.51 L91.23,77.59 L91.37,75.04 L91.50,76.78 L91.64,77.04 L91.78,77.32 L91.91,73.20 L92.05,74.92 L92.18,74.36 L92.32,75.88 L92.45,74.92 L92.59,76.64 L92.72,76.13 L92.86,76.51 L92.99,76.26 L93.13,76.51 L93.26,77.18 L93.40,77.59 L93.54,76.51 L93.67,79.08 L93.81,76.78 L93.94,75.16 L94.08,76.64 L94.21,76.26 L94.35,76.00 L94.48,78.47 L94.62,77.45 L94.75,76.13 L94.89,78.77 L95.03,77.32 L95.16,76.64 L95.30,78.47 L95.43,77.45 L95.57,77.88 L95.70,76.51 L95.84,78.02 L95.97,76.91 L96.11,78.47 L96.24,78.93 L96.38,78.62 L96.51,78.93 L96.65,78.47 L96.79,79.08 L96.92,76.26 L97.06,76.78 L97.19,79.24 L97.33,78.32 L97.46,78.47 L97.60,75.88 L97.73,77.45 L97.87,77.45 L98.00,79.57 L98.14,80.07 L98.27,80.41 L98.41,79.08 L98.55,77.45 L98.68,79.57 L98.82,78.77 L98.95,80.24 L99.09,77.45 L99.22,75.76 L99.36,80.24 L99.49,77.18 L99.63,77.59 L99.76,77.59 L99.90,77.32 L100.04,81.50 L100.17,80.07 L100.31,80.24 L100.44,80.07 L100.58,81.50 L100.71,77.74 L100.85,79.73 L100.98,78.93 L101.12,82.69 L101.25,77.45 L101.39,78.02 L101.52,80.41 L101.66,82.08 L101.80,79.24 L101.93,79.24 L102.07,82.08 L102.20,81.13 L102.34,81.88 L102.47,80.41 L102.61,78.02 L102.74,80.59 L102.88,81.13 L103.01,82.90 L103.15,80.24 L103.28,80.59 L103.42,81.69 L103.56,79.40 L103.69,80.41 L103.83,80.94 L103.96,81.13 L104.10,81.69 L104.23,82.28 L104.37,80.94 L104.50,80.24 L104.64,80.24 L104.77,82.08 L104.91,81.50 L105.05,82.69 L105.18,81.13 L105.32,82.69 L105.45,82.08 L105.59,82.69 L105.72,80.24 L105.86,81.13 L105.99,79.40 L106.13,78.47 L106.26,79.57 L106.40,82.69 L106.53,83.54 L106.67,83.11 L106.81,84.46 L106.94,81.88 L107.08,79.24 L107.21,83.54 L107.35,81.88 L107.48,83.54 L107.62,83.54 L107.75,84.22 L107.89,84.69 L108.02,82.08 L108.16,85.18 L108.29,81.88 L108.43,81.50 L108.57,85.44 L108.70,83.54 L108.84,82.08 L108.97,80.59 L109.11,82.08 L109.24,81.50 L109.38,80.24 L109.51,79.90 L109.65,83.32 L109.78,80.07 L109.92,82.69 L110.06,88.59 L110.19,82.48 L110.33,85.18 L110.46,81.88 L110.60,83.54 L110.73,84.46 L110.87,83.99 L111.00,87.35 L111.14,84.22 L111.27,87.95 L111.41,80.24 L111.54,83.99 L111.68,85.96 L111.82,82.69 L111.95,83.11 L112.09,86.22 L112.22,83.54 L112.36,83.54 L112.49,86.50 L112.63,81.31 L112.76,82.28 L112.90,84.46 L113.03,87.35 L113.17,84.22 L113.30,89.59 L113.44,80.94 L113.58,85.96 L113.71,82.48 L113.85,82.90 L113.98,84.69 L114.12,84.22 L114.25,87.06 L114.39,84.46 L114.52,82.69 L114.66,83.54 L114.79,83.54 L114.93,83.32 L115.07,82.69 L115.20,81.88 L115.34,83.32 L115.47,84.69 L115.61,79.40 L115.74,89.25 L115.88,85.69 L116.01,83.99 L116.15,86.22 L116.28,87.65 L116.42,85.44 L116.55,85.96 L116.69,82.90 L116.83,87.95 L116.96,83.32 L117.10,84.69 L117.23,83.99 L117.37,82.90 L117.50,83.99 L117.64,87.06 L117.77,80.24 L117.91,84.46 L118.04,83.11 L118.18,83.11 L118.31,87.06 L118.45,85.44 L118.59,86.50 L118.72,83.76 L118.86,84.46 L118.99,85.18 L119.13,83.99 L119.26,87.65 L119.40,83.54 L119.53,85.96 L119.67,87.06 L119.80,85.69 L119.94,87.35 L120.08,85.18 L120.21,85.69 L120.35,87.65 L120.48,85.44 L120.62,84.22 L120.75,85.96 L120.89,87.95 L121.02,84.46 L121.16,82.90 L121.29,86.78 L121.43,83.99 L121.56,82.28 L121.70,86.50 L121.84,85.44 L121.97,87.35 L122.11,88.91 L122.24,85.96 L122.38,88.59 L122.51,90.31 L122.65,87.35 L122.78,87.65 L122.92,86.78 L123.05,84.22 L123.19,86.22 L123.32,86.78 L123.46,88.27 L123.60,89.59 L123.73,85.18 L123.87,84.94 L124.00,85.69 L124.14,85.69 L124.27,88.91 L124.41,86.22 L124.54,87.35 L124.68,85.96 L124.81,87.95 L124.95,89.25 L125.09,87.65 L125.22,84.46 L125.36,87.35 L125.49,86.78 L125.63,83.99 L125.76,90.68 L125.90,87.65 L126.03,88.91 L126.17,87.95 L126.30,88.91 L126.44,87.65 L126.57,87.65 L126.71,84.94 L126.85,89.25 L126.98,90.31 L127.12,87.65 L127.25,86.50 L127.39,85.69 L127.52,88.59 L127.66,88.59 L127.79,88.91 L127.93,85.96 L128.06,85.96 L128.20,87.95 L128.33,88.27 L128.47,86.22 L128.61,87.06 L128.74,86.78 L128.88,86.78 L129.01,87.35 L129.15,87.35 L129.28,85.69 L129.42,86.78 L129.55,87.35 L129.69,90.68 L129.82,89.25 L129.96,88.91 L130.10,92.29 L130.23,87.95 L130.37,86.78 L130.50,87.06 L130.64,86.22 L130.77,86.50 L130.91,88.27 L131.04,85.96 L131.18,83.76 L131.31,87.95 L131.45,89.95 L131.58,89.25 L131.72,88.91 L131.86,86.22 L131.99,89.59 L132.13,84.94 L132.26,85.44 L132.40,86.50 L132.53,83.76 L132.67,84.94 L132.80,87.06 L132.94,88.91 L133.07,87.06 L133.21,90.68 L133.34,91.07 L133.48,87.35 L133.62,87.65 L133.75,87.65 L133.89,87.65 L134.02,87.95 L134.16,90.31 L134.29,84.46 L134.43,92.29 L134.56,89.59 L134.70,88.27 L134.83,84.69 L134.97,86.22 L135.11,85.96 L135.24,89.59 L135.38,95.14 L135.51,88.59 L135.65,93.17 L135.78,91.46 L135.92,88.91 L136.05,88.91 L136.19,87.06 L136.32,86.22 L136.46,88.27 L136.59,92.72 L136.73,85.96 L136.87,90.68 L137.00,90.68 L137.14,92.72 L137.27,88.91 L137.41,87.06 L137.54,87.65 L137.68,90.68 L137.81,88.27 L137.95,87.95 L138.08,88.59 L138.22,88.91 L138.35,95.68 L138.49,93.17 L138.63,86.78 L138.76,92.72 L138.90,90.68 L139.03,89.25 L139.17,90.31 L139.30,89.95 L139.44,89.95 L139.57,86.78 L139.71,90.68 L139.84,91.46 L139.98,92.29 L140.12,88.91 L140.25,87.65 L140.39,91.46 L140.52,90.31 L140.66,91.87 L140.79,91.07 L140.93,87.35 L141.06,88.91 L141.20,89.25 L141.33,91.07 L141.47,90.31 L141.60,89.59 L141.74,88.91 L141.88,97.45 L142.01,90.68 L142.15,90.68 L142.28,88.27 L142.42,91.46 L142.55,90.68 L142.69,91.46 L142.82,90.31 L142.96,89.25 L143.09,90.68 L143.23,87.95 L143.36,93.17 L143.50,88.91 L143.64,88.27 L143.77,92.29 L143.91,90.68 L144.04,91.46 L144.18,89.25 L144.31,92.29 L144.45,86.78 L144.58,92.29 L144.72,89.59 L144.85,90.68 L144.99,90.68 L145.13,94.12 L145.26,94.12 L145.40,92.29 L145.53,88.27 L145.67,95.68 L145.80,91.07 L145.94,88.59 L146.07,85.96 L146.21,87.35 L146.34,95.14 L146.48,89.25 L146.61,88.59 L146.75,92.29 L146.89,91.07 L147.02,92.29 L147.16,93.17 L147.29,91.07 L147.43,89.95 L147.56,91.07 L147.70,92.72 L147.83,91.46 L147.97,89.25 L148.10,91.46 L148.24,93.64 L148.37,89.95 L148.51,94.12 L148.65,92.72 L148.78,93.64 L148.92,87.06 L149.05,89.95 L149.19,88.27 L149.32,91.07 L149.46,86.78 L149.59,87.95 L149.73,91.46 L149.86,92.29 L150.00,91.87 L150.13,89.95 L150.27,88.91 L150.41,91.46 L150.54,95.14 L150.68,89.25 L150.81,94.12 L150.95,91.87 L151.08,90.31 L151.22,92.72 L151.35,89.95 L151.49,92.72 L151.62,88.91 L151.76,91.07 L151.90,93.17 L152.03,91.46 L152.17,88.27 L152.30,92.29 L152.44,88.91 L152.57,95.14 L152.71,89.95 L152.84,92.72 L152.98,89.25 L153.11,88.27 L153.25,91.87 L153.38,92.72 L153.52,93.17 L153.66,88.59 L153.79,89.25 L153.93,93.17 L154.06,89.59 L154.20,89.59 L154.33,96.83 L154.47,91.46 L154.60,92.72 L154.74,92.29 L154.87,91.07 L155.01,91.46 L155.14,96.83 L155.28,93.64 L155.42,91.46 L155.55,95.68 L155.69,93.17 L155.82,91.07 L155.96,88.91 L156.09,92.29 L156.23,91.07 L156.36,92.29 L156.50,90.31 L156.63,90.31 L156.77,91.07 L156.91,93.17 L157.04,91.87 L157.18,93.17 L157.31,90.31 L157.45,94.12 L157.58,87.65 L157.72,93.64 L157.85,86.78 L157.99,91.87 L158.12,93.17 L158.26,88.91 L158.39,91.46 L158.53,88.27 L158.67,91.46 L158.80,89.95 L158.94,98.77 L159.07,91.07 L159.21,90.68 L159.34,89.95 L159.48,89.59 L159.61,96.24 L159.75,92.29 L159.88,91.46 L160.02,91.46 L160.15,91.07 L160.29,89.95 L160.43,93.64 L160.56,91.87 L160.70,92.72 L160.83,92.72 L160.97,91.07 L161.10,89.95 L161.24,97.45 L161.37,92.29 L161.51,95.14 L161.64,91.07 L161.78,91.07 L161.92,94.12 L162.05,94.12 L162.19,91.87 L162.32,91.07 L162.46,91.46 L162.59,96.83 L162.73,95.68 L162.86,95.68 L163.00,90.31 L163.13,88.91 L163.27,93.64 L163.40,92.72 L163.54,91.87 L163.68,93.17 L163.81,93.64 L163.95,92.29 L164.08,90.31 L164.22,91.07 L164.35,92.29 L164.49,92.72 L164.62,95.68 L164.76,90.31 L164.89,93.64 L165.03,93.17 L165.16,95.14 L165.30,93.17 L165.44,89.95 L165.57,91.07 L165.71,90.68 L165.84,88.27 L165.98,88.59 L166.11,92.29 L166.25,96.24 L166.38,93.64 L166.52,93.17 L166.65,92.29 L166.79,90.31 L166.93,91.87 L167.06,91.87 L167.20,92.29 L167.33,90.68 L167.47,94.12 L167.60,91.87 L167.74,95.14 L167.87,94.12 L168.01,93.17 L168.14,93.64 L168.28,94.12 L168.41,87.65 L168.55,91.87 L168.69,91.46 L168.82,89.25 L168.96,94.12 L169.09,95.14 L169.23,91.46 L169.36,94.62 L169.50,92.72 L169.63,90.31 L169.77,89.25 L169.90,92.72 L170.04,92.72 L170.17,92.72 L170.31,89.95 L170.45,96.83 L170.58,95.68 L170.72,93.17 L170.85,93.17 L170.99,92.72 L171.12,92.72 L171.26,92.29 L171.39,89.95 L171.53,90.68 L171.66,91.46 L171.80,98.09 L171.94,94.12 L172.07,99.49 L172.21,98.09 L172.34,91.46 L172.48,99.49 L172.61,96.83 L172.75,94.12 L172.88,91.07 L173.02,94.12 L173.15,93.17 L173.29,92.72 L173.42,91.46 L173.56,94.62 L173.70,88.91 L173.83,96.83 L173.97,91.87 L174.10,94.12 L174.24,96.83 L174.37,95.68 L174.51,100.25 L174.64,96.83 L174.78,92.29 L174.91,90.31 L175.05,92.29 L175.18,87.06 L175.32,95.68 L175.46,94.62 L175.59,91.07 L175.73,88.27 L175.86,101.05 L176.00,95.14 L176.13,93.64 L176.27,96.24 L176.40,97.45 L176.54,92.72 L176.67,93.64 L176.81,92.72 L176.95,90.68 L177.08,91.07 L177.22,89.95 L177.35,93.17 L177.49,93.17 L177.62,94.62 L177.76,92.72 L177.89,91.46 L178.03,90.68 L178.16,92.29 L178.30,91.87 L178.43,94.62 L178.57,92.72 L178.71,93.17 L178.84,93.17 L178.98,93.17 L179.11,91.46 L179.25,96.24 L179.38,92.29 L179.52,93.64 L179.65,92.29 L179.79,91.07 L179.92,96.83 L180.06,89.95 L180.19,92.72 L180.33,94.62 L180.47,98.09 L180.60,95.14 L180.74,92.72 L180.87,90.31 L181.01,90.31 L181.14,92.29 L181.28,96.24 L181.41,93.17 L181.55,95.68 L181.68,95.14 L181.82,90.68 L181.96,90.68 L182.09,90.68 L182.23,92.72 L182.36,92.29 L182.50,92.29 L182.63,95.14 L182.77,91.07 L182.90,92.29 L183.04,92.29 L183.17,94.12 L183.31,93.64 L183.44,91.07 L183.58,91.07 L183.72,96.83 L183.85,90.68 L183.99,91.46 L184.12,96.83 L184.26,97.45 L184.39,96.83 L184.53,94.12 L184.66,94.12 L184.80,94.62 L184.93,88.91 L185.07,97.45 L185.20,91.87 L185.34,94.12 L185.48,94.12 L185.61,94.62 L185.75,94.62 L185.88,94.12 L186.02,98.09 L186.15,96.24 L186.29,96.24 L186.42,90.68 L186.56,92.29 L186.69,93.17 L186.83,92.29 L186.97,92.29 L187.10,93.17 L187.24,96.24 L187.37,96.24 L187.51,93.17 L187.64,96.24 L187.78,97.45 L187.91,90.68 L188.05,89.59 L188.18,100.25 L188.32,100.25 L188.45,95.68 L188.59,94.62 L188.73,96.24 L188.86,92.29 L189.00,96.83 L189.13,97.45 L189.27,96.83 L189.40,94.62 L189.54,91.07 L189.67,89.25 L189.81,94.62 L189.94,94.12 L190.08,98.09 L190.21,93.64 L190.35,93.17 L190.49,100.25 L190.62,96.24 L190.76,91.07 L190.89,95.14 L191.03,91.87 L191.16,99.49 L191.30,94.12 L191.43,92.72 L191.57,94.62 L191.70,92.72 L191.84,91.87 L191.98,96.83 L192.11,98.77 L192.25,91.87 L192.38,94.12 L192.52,95.14 L192.65,92.72 L192.79,95.14 L192.92,95.14 L193.06,93.17 L193.19,95.14 L193.33,94.62 L193.46,91.46" fill="none" stroke="#5cc3f3" stroke-width="0.75" stroke-linejoin="round" />
<path d="M34.34,107.04 L34.41,109.39 L34.48,111.87 L34.55,127.68 L34.63,126.71 L34.70,108.60 L34.77,123.91 L34.84,124.33 L34.91,107.48 L34.98,116.23 L35.06,125.93 L35.13,120.95 L35.20,120.61 L35.27,114.61 L35.34,126.46 L35.42,114.21 L35.49,118.44 L35.56,126.22 L35.63,115.69 L35.70,112.76 L35.77,118.76 L35.85,118.15 L35.92,118.05 L35.99,106.88 L36.06,108.18 L36.13,118.30 L36.20,110.18 L36.28,108.47 L36.35,111.26 L36.42,110.83 L36.49,126.33 L36.56,109.08 L36.63,127.60 L36.71,106.43 L36.78,121.62 L36.85,121.04 L36.92,115.15 L36.99,116.88 L37.06,124.50 L37.14,122.90 L37.21,106.70 L37.28,121.58 L37.35,129.18 L37.42,118.48 L37.49,114.97 L37.57,126.88 L37.64,111.12 L37.71,115.01 L37.78,108.75 L37.85,120.44 L37.92,128.17 L38.00,113.45 L38.07,106.27 L38.14,128.89 L38.21,110.09 L38.28,115.66 L38.35,110.68 L38.43,117.56 L38.50,108.68 L38.57,113.34 L38.64,118.38 L38.71,118.10 L38.78,111.64 L38.86,119.36 L38.93,118.55 L39.00,107.12 L39.07,121.08 L39.14,111.01 L39.21,123.11 L39.29,121.83 L39.36,110.97 L39.43,117.00 L39.50,115.41 L39.57,120.83 L39.64,107.45 L39.72,110.53 L39.79,120.33 L39.86,117.48 L39.93,119.78 L40.00,109.36 L40.07,112.21 L40.15,118.35 L40.22,113.72 L40.29,109.62 L40.36,120.41 L40.43,116.70 L40.50,116.42 L40.58,113.36 L40.65,128.40 L40.72,118.15 L40.79,121.51 L40.86,123.91 L40.93,117.82 L41.01,120.81 L41.08,111.51 L41.15,125.27 L41.22,108.75 L41.29,108.16 L41.36,106.95 L41.44,124.94 L41.51,126.88 L41.58,106.88 L41.65,125.74 L41.72,124.36 L41.80,121.77 L41.87,112.39 L41.94,109.27 L42.01,127.04 L42.08,117.56 L42.15,117.02 L42.23,107.03 L42.30,112.28 L42.37,115.26 L42.44,117.07 L42.51,117.57 L42.58,120.15 L42.66,110.69 L42.73,123.10 L42.80,113.55 L42.87,109.58 L42.94,114.29 L43.01,115.68 L43.09,111.97 L43.16,127.13 L43.23,126.21 L43.30,125.67 L43.37,119.18 L43.44,116.44 L43.52,118.57 L43.59,117.81 L43.66,110.94 L43.73,109.24 L43.80,110.35 L43.87,110.75 L43.95,128.28 L44.02,118.08 L44.09,116.54 L44.16,112.16 L44.23,115.85 L44.30,112.68 L44.38,109.38 L44.45,113.03 L44.52,120.74 L44.59,107.55 L44.66,108.39 L44.73,114.91 L44.81,110.08 L44.88,126.98 L44.95,112.54 L45.02,112.66 L45.09,107.17 L45.16,110.49 L45.24,130.57 L45.31,114.60 L45.38,106.92 L45.45,123.98 L45.52,111.51 L45.59,117.46 L45.67,116.28 L45.74,107.49 L45.81,108.73 L45.88,117.65 L45.95,111.29 L46.02,119.66 L46.10,113.43 L46.17,122.27 L46.24,109.48 L46.31,123.86 L46.38,126.90 L46.45,130.46 L46.53,108.78 L46.60,111.03 L46.67,111.47 L46.74,107.49 L46.81,110.77 L46.88,128.67 L46.96,126.84 L47.03,127.87 L47.10,125.13 L47.17,125.01 L47.24,120.08 L47.31,118.48 L47.36,112.95 L47.50,73.93 L47.63,34.92 L47.77,20.64 L47.90,21.43 L48.04,22.53 L48.18,23.63 L48.31,24.02 L48.45,24.95 L48.58,25.98 L48.72,26.55 L48.85,27.04 L48.99,27.68 L49.12,28.21 L49.26,29.18 L49.39,29.38 L49.53,29.74 L49.66,30.24 L49.80,30.70 L49.94,31.46 L50.07,31.68 L50.21,32.66 L50.34,32.94 L50.48,33.54 L50.61,34.37 L50.75,33.90 L50.88,35.28 L51.02,35.99 L51.15,35.56 L51.29,36.42 L51.42,36.62 L51.56,37.24 L51.70,37.85 L51.83,38.70 L51.97,38.41 L52.10,39.77 L52.24,39.72 L52.37,39.47 L52.51,40.35 L52.64,40.58 L52.78,40.99 L52.91,41.93 L53.05,41.75 L53.19,42.01 L53.32,42.41 L53.46,43.20 L53.59,42.97 L53.73,42.92 L53.86,43.76 L54.00,44.48 L54.13,45.44 L54.27,44.36 L54.40,44.85 L54.54,44.54 L54.67,45.50 L54.81,45.24 L54.95,45.37 L55.08,46.56 L55.22,46.90 L55.35,47.14 L55.49,47.34 L55.62,47.27 L55.76,46.86 L55.89,46.77 L56.03,47.61 L56.16,47.85 L56.30,47.74 L56.43,47.73 L56.57,48.60 L56.71,48.29 L56.84,49.33 L56.98,48.68 L57.11,50.46 L57.25,49.84 L57.38,49.96 L57.52,49.45 L57.65,50.09 L57.79,50.72 L57.92,50.72 L58.06,50.85 L58.20,51.23 L58.33,50.94 L58.47,51.00 L58.60,51.80 L58.74,51.60 L58.87,52.21 L59.01,52.42 L59.14,52.54 L59.28,52.89 L59.41,52.87 L59.55,52.65 L59.68,52.78 L59.82,53.91 L59.96,54.61 L60.09,54.59 L60.23,54.76 L60.36,53.67 L60.50,54.24 L60.63,53.22 L60.77,55.35 L60.90,55.22 L61.04,55.51 L61.17,54.22 L61.31,56.00 L61.44,54.68 L61.58,54.56 L61.72,55.43 L61.85,55.56 L61.99,56.65 L62.12,55.54 L62.26,55.94 L62.39,56.05 L62.53,56.39 L62.66,57.39 L62.80,56.74 L62.93,56.28 L63.07,56.59 L63.20,57.12 L63.34,57.27 L63.48,56.97 L63.61,58.35 L63.75,57.86 L63.88,57.36 L64.02,57.18 L64.15,59.02 L64.29,56.76 L64.42,58.61 L64.56,57.36 L64.69,58.75 L64.83,58.68 L64.97,59.81 L65.10,59.16 L65.24,57.77 L65.37,59.52 L65.51,59.63 L65.64,58.88 L65.78,60.18 L65.91,59.77 L66.05,60.37 L66.18,60.80 L66.32,58.51 L66.45,60.26 L66.59,59.66 L66.73,58.55 L66.86,59.84 L67.00,59.48 L67.13,60.07 L67.27,60.41 L67.40,60.45 L67.54,60.49 L67.67,61.45 L67.81,60.68 L67.94,60.64 L68.08,61.33 L68.21,61.37 L68.35,60.18 L68.49,61.70 L68.62,61.45 L68.76,60.96 L68.89,61.79 L69.03,62.05 L69.16,61.87 L69.30,61.04 L69.43,60.41 L69.57,60.72 L69.70,61.62 L69.84,62.67 L69.98,62.00 L70.11,61.20 L70.25,62.49 L70.38,61.66 L70.52,61.58 L70.65,62.14 L70.79,62.76 L70.92,63.67 L71.06,62.27 L71.19,63.67 L71.33,62.31 L71.46,63.33 L71.60,62.86 L71.74,63.42 L71.87,63.47 L72.01,62.58 L72.14,63.62 L72.28,61.58 L72.41,62.36 L72.55,62.86 L72.68,63.87 L72.82,63.18 L72.95,63.04 L73.09,63.42 L73.22,64.96 L73.36,63.77 L73.50,64.69 L73.63,62.76 L73.77,64.27 L73.90,63.04 L74.04,63.00 L74.17,66.27 L74.31,65.07 L74.44,63.14 L74.58,64.07 L74.71,63.87 L74.85,66.21 L74.99,64.38 L75.12,64.69 L75.26,64.43 L75.39,65.69 L75.53,66.21 L75.66,64.59 L75.80,67.07 L75.93,64.85 L76.07,66.70 L76.20,66.64 L76.34,66.33 L76.47,65.51 L76.61,65.86 L76.75,65.69 L76.88,65.18 L77.02,65.74 L77.15,65.29 L77.29,65.86 L77.42,66.15 L77.56,64.91 L77.69,67.40 L77.83,66.33 L77.96,66.09 L78.10,66.39 L78.23,65.40 L78.37,67.73 L78.51,68.27 L78.64,66.45 L78.78,66.76 L78.91,67.53 L79.05,66.95 L79.18,67.20 L79.32,68.48 L79.45,68.00 L79.59,67.40 L79.72,68.27 L79.86,66.76 L80.00,67.27 L80.13,66.27 L80.27,68.20 L80.40,68.63 L80.54,67.93 L80.67,66.88 L80.81,67.93 L80.94,67.86 L81.08,70.22 L81.21,68.56 L81.35,67.79 L81.48,68.56 L81.62,68.41 L81.76,68.63 L81.89,69.06 L82.03,68.13 L82.16,70.14 L82.30,69.75 L82.43,69.75 L82.57,67.59 L82.70,68.70 L82.84,70.22 L82.97,70.06 L83.11,68.77 L83.24,68.48 L83.38,69.44 L83.52,70.22 L83.65,70.06 L83.79,68.00 L83.92,69.36 L84.06,70.47 L84.19,67.86 L84.33,68.34 L84.46,68.63 L84.60,72.13 L84.73,70.97 L84.87,68.13 L85.01,69.44 L85.14,68.92 L85.28,67.20 L85.41,70.72 L85.55,70.80 L85.68,70.72 L85.82,71.32 L85.95,71.49 L86.09,70.30 L86.22,70.30 L86.36,70.47 L86.49,71.49 L86.63,71.58 L86.77,70.63 L86.90,69.21 L87.04,71.49 L87.17,70.88 L87.31,71.32 L87.44,70.30 L87.58,71.32 L87.71,73.00 L87.85,72.70 L87.98,71.58 L88.12,69.29 L88.25,72.51 L88.39,72.13 L88.53,69.29 L88.66,68.84 L88.80,71.40 L88.93,71.14 L89.07,73.61 L89.20,71.67 L89.34,71.76 L89.47,72.04 L89.61,71.49 L89.74,73.61 L89.88,71.95 L90.02,73.00 L90.15,73.20 L90.29,72.70 L90.42,71.49 L90.56,71.85 L90.69,72.51 L90.83,74.03 L90.96,72.04 L91.10,73.10 L91.23,74.81 L91.37,74.25 L91.50,73.10 L91.64,72.70 L91.78,73.93 L91.91,74.25 L92.05,74.58 L92.18,74.58 L92.32,72.70 L92.45,74.36 L92.59,74.36 L92.72,74.14 L92.86,72.61 L92.99,71.76 L93.13,73.00 L93.26,73.40 L93.40,73.82 L93.54,74.03 L93.67,73.30 L93.81,74.81 L93.94,74.58 L94.08,74.25 L94.21,74.47 L94.35,76.78 L94.48,75.16 L94.62,76.78 L94.75,75.88 L94.89,75.04 L95.03,77.45 L95.16,76.64 L95.30,77.74 L95.43,73.82 L95.57,73.82 L95.70,78.62 L95.84,73.61 L95.97,76.00 L96.11,74.36 L96.24,78.17 L96.38,77.18 L96.51,75.16 L96.65,76.26 L96.79,77.59 L96.92,76.64 L97.06,74.92 L97.19,79.90 L97.33,78.17 L97.46,75.76 L97.60,76.91 L97.73,73.93 L97.87,76.64 L98.00,75.04 L98.14,75.88 L98.27,75.27 L98.41,77.32 L98.55,77.04 L98.68,76.13 L98.82,77.88 L98.95,77.45 L99.09,77.45 L99.22,77.59 L99.36,77.88 L99.49,74.81 L99.63,77.18 L99.76,78.17 L99.90,76.26 L100.04,76.38 L100.17,77.74 L100.31,77.18 L100.44,77.04 L100.58,81.69 L100.71,75.04 L100.85,75.39 L100.98,76.91 L101.12,78.93 L101.25,75.04 L101.39,77.45 L101.52,76.51 L101.66,78.62 L101.80,78.93 L101.93,76.26 L102.07,77.74 L102.20,79.57 L102.34,79.73 L102.47,77.59 L102.61,78.47 L102.74,77.04 L102.88,80.41 L103.01,79.90 L103.15,79.40 L103.28,77.18 L103.42,77.74 L103.56,75.88 L103.69,76.64 L103.83,79.40 L103.96,76.51 L104.10,78.77 L104.23,78.32 L104.37,77.45 L104.50,77.32 L104.64,79.73 L104.77,77.45 L104.91,78.17 L105.05,80.41 L105.18,76.51 L105.32,77.18 L105.45,80.59 L105.59,82.08 L105.72,80.24 L105.86,78.93 L105.99,78.93 L106.13,78.32 L106.26,80.41 L106.40,78.93 L106.53,79.40 L106.67,79.90 L106.81,79.57 L106.94,78.47 L107.08,79.24 L107.21,78.02 L107.35,79.90 L107.48,78.77 L107.62,77.88 L107.75,77.32 L107.89,79.24 L108.02,79.90 L108.16,81.69 L108.29,80.07 L108.43,81.13 L108.57,82.08 L108.70,80.41 L108.84,81.50 L108.97,79.40 L109.11,80.94 L109.24,79.90 L109.38,80.07 L109.51,82.08 L109.65,83.11 L109.78,80.94 L109.92,77.04 L110.06,80.94 L110.19,82.08 L110.33,83.54 L110.46,80.07 L110.60,79.57 L110.73,78.93 L110.87,78.02 L111.00,80.07 L111.14,80.24 L111.27,79.73 L111.41,80.07 L111.54,82.90 L111.68,82.08 L111.82,81.31 L111.95,81.69 L112.09,80.41 L112.22,82.90 L112.36,83.32 L112.49,80.24 L112.63,81.50 L112.76,82.90 L112.90,83.11 L113.03,78.02 L113.17,81.13 L113.30,82.48 L113.44,83.11 L113.58,79.73 L113.71,81.69 L113.85,82.28 L113.98,82.08 L114.12,80.59 L114.25,79.73 L114.39,81.13 L114.52,80.24 L114.66,80.94 L114.79,83.11 L114.93,80.24 L115.07,82.48 L115.20,83.11 L115.34,80.24 L115.47,82.69 L115.61,83.54 L115.74,83.32 L115.88,82.69 L116.01,82.08 L116.15,83.76 L116.28,85.69 L116.42,80.59 L116.55,80.07 L116.69,81.88 L116.83,83.11 L116.96,82.69 L117.10,83.54 L117.23,83.99 L117.37,84.94 L117.50,82.48 L117.64,82.90 L117.77,85.18 L117.91,83.11 L118.04,81.69 L118.18,82.28 L118.31,85.44 L118.45,81.31 L118.59,82.08 L118.72,81.69 L118.86,83.54 L118.99,82.90 L119.13,81.69 L119.26,82.48 L119.40,81.88 L119.53,81.31 L119.67,81.50 L119.80,81.69 L119.94,83.32 L120.08,85.18 L120.21,80.59 L120.35,82.28 L120.48,87.06 L120.62,86.78 L120.75,83.32 L120.89,81.69 L121.02,84.22 L121.16,79.57 L121.29,82.08 L121.43,85.18 L121.56,83.11 L121.70,85.69 L121.84,81.69 L121.97,83.32 L122.11,83.32 L122.24,83.99 L122.38,83.76 L122.51,86.50 L122.65,81.69 L122.78,83.32 L122.92,84.46 L123.05,86.22 L123.19,82.90 L123.32,88.91 L123.46,82.48 L123.60,85.96 L123.73,82.90 L123.87,86.22 L124.00,85.96 L124.14,82.28 L124.27,86.22 L124.41,85.18 L124.54,81.31 L124.68,87.06 L124.81,84.46 L124.95,88.27 L125.09,79.90 L125.22,85.18 L125.36,83.32 L125.49,83.76 L125.63,82.28 L125.76,84.46 L125.90,87.65 L126.03,83.76 L126.17,84.69 L126.30,85.44 L126.44,81.69 L126.57,86.22 L126.71,82.28 L126.85,85.69 L126.98,82.90 L127.12,86.78 L127.25,84.46 L127.39,86.50 L127.52,85.69 L127.66,84.22 L127.79,83.54 L127.93,87.06 L128.06,83.54 L128.20,87.35 L128.33,86.50 L128.47,87.06 L128.61,85.96 L128.74,84.22 L128.88,87.65 L129.01,89.25 L129.15,87.06 L129.28,85.44 L129.42,83.54 L129.55,82.48 L129.69,87.35 L129.82,82.08 L129.96,84.22 L130.10,84.69 L130.23,84.94 L130.37,89.25 L130.50,83.99 L130.64,86.22 L130.77,87.65 L130.91,84.22 L131.04,85.18 L131.18,83.76 L131.31,87.35 L131.45,87.65 L131.58,84.22 L131.72,85.18 L131.86,86.22 L131.99,86.78 L132.13,83.32 L132.26,89.25 L132.40,86.50 L132.53,85.96 L132.67,85.44 L132.80,84.94 L132.94,85.44 L133.07,86.50 L133.21,84.69 L133.34,84.22 L133.48,85.44 L133.62,90.31 L133.75,84.69 L133.89,87.95 L134.02,86.78 L134.16,83.11 L134.29,86.22 L134.43,90.31 L134.56,86.50 L134.70,85.69 L134.83,84.94 L134.97,85.44 L135.11,85.69 L135.24,87.95 L135.38,86.22 L135.51,83.76 L135.65,83.99 L135.78,85.96 L135.92,88.27 L136.05,85.96 L136.19,88.27 L136.32,89.59 L136.46,88.59 L136.59,84.22 L136.73,84.22 L136.87,86.22 L137.00,84.94 L137.14,86.50 L137.27,87.95 L137.41,83.54 L137.54,85.18 L137.68,88.59 L137.81,86.78 L137.95,84.69 L138.08,86.78 L138.22,84.69 L138.35,87.35 L138.49,86.22 L138.63,86.50 L138.76,84.69 L138.90,90.31 L139.03,88.91 L139.17,85.44 L139.30,85.69 L139.44,90.31 L139.57,88.59 L139.71,86.78 L139.84,86.78 L139.98,86.78 L140.12,87.95 L140.25,85.96 L140.39,87.65 L140.52,89.25 L140.66,89.95 L140.79,85.96 L140.93,86.22 L141.06,85.18 L141.20,87.35 L141.33,85.44 L141.47,86.22 L141.60,86.50 L141.74,88.27 L141.88,88.27 L142.01,87.65 L142.15,85.69 L142.28,85.18 L142.42,85.69 L142.55,86.78 L142.69,86.50 L142.82,85.44 L142.96,88.27 L143.09,85.44 L143.23,90.68 L143.36,84.69 L143.50,88.91 L143.64,89.95 L143.77,92.72 L143.91,90.31 L144.04,85.96 L144.18,89.95 L144.31,88.91 L144.45,92.72 L144.58,91.07 L144.72,84.69 L144.85,87.65 L144.99,86.50 L145.13,88.59 L145.26,90.31 L145.40,85.18 L145.53,85.18 L145.67,87.06 L145.80,87.06 L145.94,86.78 L146.07,89.25 L146.21,89.59 L146.34,91.87 L146.48,84.46 L146.61,87.95 L146.75,86.78 L146.89,86.50 L147.02,83.54 L147.16,86.78 L147.29,92.29 L147.43,89.25 L147.56,89.25 L147.70,86.78 L147.83,87.35 L147.97,88.91 L148.10,86.78 L148.24,87.35 L148.37,90.68 L148.51,91.46 L148.65,90.31 L148.78,86.22 L148.92,87.35 L149.05,91.07 L149.19,85.69 L149.32,87.06 L149.46,87.35 L149.59,87.06 L149.73,89.59 L149.86,87.65 L150.00,89.59 L150.13,89.95 L150.27,91.87 L150.41,87.65 L150.54,86.78 L150.68,93.64 L150.81,87.65 L150.95,85.96 L151.08,89.59 L151.22,87.35 L151.35,89.59 L151.49,89.95 L151.62,87.35 L151.76,85.18 L151.90,91.87 L152.03,86.78 L152.17,87.06 L152.30,89.25 L152.44,87.65 L152.57,87.06 L152.71,90.31 L152.84,89.25 L152.98,87.35 L153.11,92.72 L153.25,90.31 L153.38,88.27 L153.52,88.59 L153.66,88.59 L153.79,89.59 L153.93,89.25 L154.06,88.59 L154.20,93.64 L154.33,86.78 L154.47,87.95 L154.60,90.68 L154.74,91.46 L154.87,89.59 L155.01,91.46 L155.14,91.87 L155.28,91.46 L155.42,84.46 L155.55,86.22 L155.69,89.25 L155.82,88.91 L155.96,86.22 L156.09,89.95 L156.23,87.35 L156.36,89.25 L156.50,95.14 L156.63,85.69 L156.77,85.18 L156.91,90.31 L157.04,88.59 L157.18,91.07 L157.31,87.95 L157.45,87.06 L157.58,86.78 L157.72,87.65 L157.85,87.65 L157.99,88.91 L158.12,89.59 L158.26,91.87 L158.39,87.65 L158.53,91.87 L158.67,88.59 L158.80,89.59 L158.94,89.95 L159.07,90.31 L159.21,88.27 L159.34,89.25 L159.48,88.59 L159.61,90.68 L159.75,88.27 L159.88,91.07 L160.02,89.95 L160.15,90.31 L160.29,87.06 L160.43,90.31 L160.56,89.25 L160.70,94.62 L160.83,88.91 L160.97,88.59 L161.10,87.65 L161.24,87.95 L161.37,91.46 L161.51,89.59 L161.64,89.95 L161.78,87.06 L161.92,92.72 L162.05,91.87 L162.19,89.59 L162.32,85.96 L162.46,91.87 L162.59,91.46 L162.73,89.95 L162.86,91.46 L163.00,88.91 L163.13,90.31 L163.27,90.68 L163.40,92.29 L163.54,85.96 L163.68,91.07 L163.81,88.27 L163.95,87.06 L164.08,87.65 L164.22,87.06 L164.35,91.46 L164.49,91.46 L164.62,89.95 L164.76,91.07 L164.89,89.25 L165.03,92.29 L165.16,88.27 L165.30,88.91 L165.44,92.29 L165.57,87.65 L165.71,93.64 L165.84,87.06 L165.98,89.25 L166.11,94.62 L166.25,88.59 L166.38,88.91 L166.52,93.64 L166.65,87.35 L166.79,91.46 L166.93,92.72 L167.06,90.68 L167.20,88.59 L167.33,91.46 L167.47,91.07 L167.60,88.59 L167.74,91.46 L167.87,93.17 L168.01,88.91 L168.14,90.68 L168.28,89.95 L168.41,90.68 L168.55,88.91 L168.69,95.14 L168.82,91.07 L168.96,91.87 L169.09,89.59 L169.23,92.29 L169.36,92.29 L169.50,90.31 L169.63,91.07 L169.77,90.68 L169.90,91.46 L170.04,90.68 L170.17,86.78 L170.31,88.59 L170.45,88.91 L170.58,90.31 L170.72,87.35 L170.85,84.69 L170.99,89.59 L171.12,86.78 L171.26,85.69 L171.39,90.68 L171.53,94.12 L171.66,94.12 L171.80,93.17 L171.94,88.27 L172.07,89.25 L172.21,85.96 L172.34,89.59 L172.48,85.44 L172.61,89.25 L172.75,92.72 L172.88,91.46 L173.02,89.95 L173.15,92.29 L173.29,90.68 L173.42,91.46 L173.56,90.68 L173.70,93.17 L173.83,91.07 L173.97,87.06 L174.10,85.18 L174.24,91.46 L174.37,90.68 L174.51,89.95 L174.64,90.31 L174.78,92.72 L174.91,90.31 L175.05,88.91 L175.18,91.87 L175.32,89.59 L175.46,93.17 L175.59,91.46 L175.73,90.68 L175.86,89.25 L176.00,91.46 L176.13,91.46 L176.27,86.78 L176.40,90.68 L176.54,88.59 L176.67,93.17 L176.81,86.22 L176.95,94.62 L177.08,95.14 L177.22,98.09 L177.35,91.87 L177.49,94.12 L177.62,91.87 L177.76,87.35 L177.89,92.72 L178.03,89.25 L178.16,89.95 L178.30,95.14 L178.43,94.12 L178.57,88.59 L178.71,89.25 L178.84,90.68 L178.98,88.59 L179.11,91.46 L179.25,90.31 L179.38,89.25 L179.52,85.18 L179.65,94.12 L179.79,92.29 L179.92,89.95 L180.06,91.46 L180.19,96.24 L180.33,88.59 L180.47,89.25 L180.60,88.27 L180.74,88.27 L180.87,96.83 L181.01,92.72 L181.14,91.07 L181.28,90.68 L181.41,88.27 L181.55,93.17 L181.68,89.95 L181.82,95.14 L181.96,91.46 L182.09,90.31 L182.23,87.95 L182.36,89.95 L182.50,93.64 L182.63,88.59 L182.77,92.72 L182.90,92.72 L183.04,91.46 L183.17,94.62 L183.31,88.91 L183.44,94.12 L183.58,91.46 L183.72,89.95 L183.85,90.68 L183.99,93.17 L184.12,90.68 L184.26,96.24 L184.39,91.87 L184.53,91.87 L184.66,92.29 L184.80,95.68 L184.93,88.91 L185.07,93.64 L185.20,86.78 L185.34,94.62 L185.48,89.25 L185.61,90.68 L185.75,95.14 L185.88,94.12 L186.02,87.65 L186.15,91.46 L186.29,90.31 L186.42,91.87 L186.56,94.12 L186.69,88.91 L186.83,89.59 L186.97,96.24 L187.10,96.83 L187.24,92.29 L187.37,87.95 L187.51,91.87 L187.64,89.59 L187.78,90.68 L187.91,92.29 L188.05,89.59 L188.18,90.68 L188.32,91.46 L188.45,91.46 L188.59,87.65 L188.73,94.62 L188.86,90.31 L189.00,93.17 L189.13,88.59 L189.27,90.68 L189.40,91.87 L189.54,91.07 L189.67,91.07 L189.81,93.17 L189.94,92.29 L190.08,94.62 L190.21,89.95 L190.35,90.68 L190.49,95.68 L190.62,90.68 L190.76,90.31 L190.89,91.87 L191.03,92.29 L191.16,92.72 L191.30,92.29 L191.43,89.95 L191.57,95.14 L191.70,94.62 L191.84,92.29 L191.98,89.25 L192.11,95.14 L192.25,90.31 L192.38,92.29 L192.52,91.07 L192.65,89.95 L192.79,92.29 L192.92,91.07 L193.06,94.62 L193.19,88.59 L193.33,91.87 L193.46,87.65" fill="none" stroke="#1dbdc3" stroke-width="0.75" stroke-linejoin="round" />
<path d="M34.34,132.94 L34.41,129.22 L34.48,109.91 L34.55,122.81 L34.63,112.74 L34.70,129.46 L34.77,125.11 L34.84,112.52 L34.91,120.90 L34.98,129.12 L35.06,114.13 L35.13,113.18 L35.20,114.69 L35.27,124.26 L35.34,111.77 L35.42,131.11 L35.49,114.47 L35.56,116.52 L35.63,120.03 L35.70,120.41 L35.77,116.13 L35.85,112.69 L35.92,115.89 L35.99,110.06 L36.06,111.85 L36.13,112.84 L36.20,110.26 L36.28,129.97 L36.35,114.04 L36.42,118.38 L36.49,110.29 L36.56,124.40 L36.63,115.25 L36.71,117.36 L36.78,122.52 L36.85,113.51 L36.92,112.54 L36.99,114.38 L37.06,115.87 L37.14,130.20 L37.21,120.13 L37.28,115.34 L37.35,114.05 L37.42,111.10 L37.49,133.91 L37.57,121.91 L37.64,111.98 L37.71,119.91 L37.78,128.53 L37.85,131.46 L37.92,116.14 L38.00,128.06 L38.07,120.68 L38.14,121.14 L38.21,122.17 L38.28,121.11 L38.35,117.29 L38.43,114.35 L38.50,111.68 L38.57,119.32 L38.64,110.39 L38.71,132.19 L38.78,129.83 L38.86,133.01 L38.93,125.33 L39.00,119.15 L39.07,109.84 L39.14,124.27 L39.21,129.65 L39.29,127.02 L39.36,130.26 L39.43,127.15 L39.50,126.13 L39.57,126.27 L39.64,120.43 L39.72,132.05 L39.79,126.50 L39.86,133.87 L39.93,115.28 L40.00,114.11 L40.07,109.42 L40.15,112.39 L40.22,112.58 L40.29,125.26 L40.36,112.05 L40.43,123.96 L40.50,115.65 L40.58,121.00 L40.65,118.49 L40.72,112.35 L40.79,128.02 L40.86,111.05 L40.93,117.20 L41.01,129.37 L41.08,119.72 L41.15,110.13 L41.22,129.17 L41.29,132.88 L41.36,131.59 L41.44,113.27 L41.51,125.08 L41.58,121.39 L41.65,119.14 L41.72,123.31 L41.80,126.85 L41.87,119.24 L41.94,116.52 L42.01,124.67 L42.08,112.76 L42.15,118.69 L42.23,129.15 L42.30,115.92 L42.37,122.57 L42.44,116.77 L42.51,113.45 L42.58,132.38 L42.66,121.36 L42.73,121.30 L42.80,126.32 L42.87,126.53 L42.94,124.05 L43.01,128.27 L43.09,131.00 L43.16,124.87 L43.23,124.54 L43.30,116.03 L43.37,116.59 L43.44,122.45 L43.52,116.66 L43.59,125.29 L43.66,120.38 L43.73,123.28 L43.80,130.64 L43.87,123.18 L43.95,112.29 L44.02,115.17 L44.09,127.22 L44.16,111.24 L44.23,115.04 L44.30,109.98 L44.38,126.84 L44.45,117.72 L44.52,115.58 L44.59,133.07 L44.66,121.38 L44.73,113.18 L44.81,112.18 L44.88,130.18 L44.95,124.40 L45.02,127.20 L45.09,117.42 L45.16,127.92 L45.24,112.58 L45.31,116.56 L45.38,127.35 L45.45,113.83 L45.52,129.00 L45.59,112.75 L45.67,126.33 L45.74,119.37 L45.81,132.66 L45.88,123.99 L45.95,125.51 L46.02,109.96 L46.10,114.91 L46.17,112.48 L46.24,113.85 L46.31,130.39 L46.38,118.07 L46.45,123.49 L46.53,122.46 L46.60,129.17 L46.67,114.33 L46.74,124.11 L46.81,127.15 L46.88,132.80 L46.96,114.31 L47.03,111.71 L47.10,129.58 L47.17,125.23 L47.24,118.92 L47.31,114.97 L47.36,112.95 L47.50,73.93 L47.63,34.92 L47.77,21.73 L47.90,22.46 L48.04,23.38 L48.18,24.59 L48.31,25.26 L48.45,25.63 L48.58,26.91 L48.72,27.18 L48.85,28.07 L48.99,28.33 L49.12,29.24 L49.26,30.13 L49.39,30.27 L49.53,30.78 L49.66,31.95 L49.80,32.20 L49.94,32.80 L50.07,33.04 L50.21,33.76 L50.34,33.92 L50.48,34.67 L50.61,35.74 L50.75,35.73 L50.88,35.69 L51.02,36.68 L51.15,37.42 L51.29,37.27 L51.42,37.96 L51.56,38.56 L51.70,39.64 L51.83,39.61 L51.97,40.12 L52.10,40.51 L52.24,40.83 L52.37,40.62 L52.51,41.89 L52.64,41.69 L52.78,42.02 L52.91,42.57 L53.05,42.90 L53.19,42.65 L53.32,43.75 L53.46,44.04 L53.59,43.92 L53.73,44.82 L53.86,45.11 L54.00,45.52 L54.13,45.74 L54.27,46.14 L54.40,45.38 L54.54,45.87 L54.67,46.52 L54.81,46.68 L54.95,47.08 L55.08,47.58 L55.22,48.10 L55.35,48.04 L55.49,47.61 L55.62,48.18 L55.76,47.42 L55.89,48.14 L56.03,47.94 L56.16,48.70 L56.30,49.20 L56.43,49.41 L56.57,49.52 L56.71,49.95 L56.84,49.69 L56.98,49.31 L57.11,50.25 L57.25,50.48 L57.38,50.92 L57.52,51.02 L57.65,51.23 L57.79,51.60 L57.92,51.86 L58.06,51.44 L58.20,52.40 L58.33,53.09 L58.47,52.56 L58.60,52.65 L58.74,52.91 L58.87,53.67 L59.01,53.79 L59.14,53.61 L59.28,54.54 L59.41,54.19 L59.55,54.89 L59.68,54.36 L59.82,53.70 L59.96,54.36 L60.09,55.59 L60.23,56.00 L60.36,56.08 L60.50,55.67 L60.63,55.07 L60.77,55.46 L60.90,54.99 L61.04,56.62 L61.17,56.05 L61.31,56.68 L61.44,56.85 L61.58,56.79 L61.72,55.81 L61.85,57.89 L61.99,56.53 L62.12,56.76 L62.26,57.09 L62.39,56.97 L62.53,56.88 L62.66,57.67 L62.80,57.92 L62.93,58.18 L63.07,58.92 L63.20,58.45 L63.34,57.12 L63.48,58.68 L63.61,58.82 L63.75,58.58 L63.88,58.45 L64.02,57.73 L64.15,58.15 L64.29,59.09 L64.42,58.82 L64.56,60.64 L64.69,59.45 L64.83,60.49 L64.97,59.63 L65.10,59.84 L65.24,59.27 L65.37,59.96 L65.51,59.27 L65.64,59.13 L65.78,61.53 L65.91,61.58 L66.05,60.80 L66.18,60.60 L66.32,59.59 L66.45,61.83 L66.59,59.96 L66.73,60.07 L66.86,60.57 L67.00,61.66 L67.13,61.12 L67.27,62.00 L67.40,61.45 L67.54,61.08 L67.67,62.58 L67.81,60.53 L67.94,61.04 L68.08,62.40 L68.21,62.40 L68.35,60.68 L68.49,62.86 L68.62,61.83 L68.76,61.62 L68.89,63.18 L69.03,61.96 L69.16,62.90 L69.30,62.58 L69.43,61.83 L69.57,63.87 L69.70,61.29 L69.84,63.42 L69.98,62.72 L70.11,62.67 L70.25,64.12 L70.38,62.18 L70.52,62.81 L70.65,63.18 L70.79,63.28 L70.92,63.33 L71.06,62.81 L71.19,63.04 L71.33,64.22 L71.46,62.81 L71.60,63.62 L71.74,63.72 L71.87,66.09 L72.01,63.18 L72.14,64.32 L72.28,63.97 L72.41,64.64 L72.55,64.43 L72.68,64.53 L72.82,65.40 L72.95,64.02 L73.09,63.04 L73.22,63.77 L73.36,65.07 L73.50,65.18 L73.63,64.85 L73.77,66.39 L73.90,65.92 L74.04,66.09 L74.17,65.74 L74.31,65.51 L74.44,65.01 L74.58,64.64 L74.71,67.33 L74.85,66.57 L74.99,64.64 L75.12,65.74 L75.26,65.07 L75.39,68.48 L75.53,67.86 L75.66,65.80 L75.80,65.69 L75.93,66.27 L76.07,65.97 L76.20,66.64 L76.34,66.27 L76.47,67.59 L76.61,65.92 L76.75,66.51 L76.88,66.21 L77.02,67.27 L77.15,68.34 L77.29,68.07 L77.42,68.92 L77.56,67.66 L77.69,66.88 L77.83,67.01 L77.96,69.29 L78.10,69.44 L78.23,67.07 L78.37,67.66 L78.51,66.88 L78.64,68.84 L78.78,69.82 L78.91,69.06 L79.05,66.57 L79.18,67.66 L79.32,68.48 L79.45,69.82 L79.59,68.92 L79.72,69.21 L79.86,70.72 L80.00,69.06 L80.13,69.59 L80.27,69.36 L80.40,70.55 L80.54,67.66 L80.67,68.27 L80.81,69.21 L80.94,68.77 L81.08,69.06 L81.21,68.07 L81.35,67.46 L81.48,69.51 L81.62,68.70 L81.76,69.44 L81.89,69.51 L82.03,69.90 L82.16,68.70 L82.30,72.32 L82.43,71.58 L82.57,68.20 L82.70,68.99 L82.84,69.67 L82.97,73.51 L83.11,71.06 L83.24,70.97 L83.38,71.23 L83.52,71.32 L83.65,69.67 L83.79,71.49 L83.92,71.85 L84.06,68.92 L84.19,70.72 L84.33,70.97 L84.46,69.14 L84.60,70.22 L84.73,70.97 L84.87,71.23 L85.01,71.14 L85.14,70.39 L85.28,70.63 L85.41,71.58 L85.55,70.55 L85.68,71.49 L85.82,70.22 L85.95,71.23 L86.09,71.76 L86.22,71.76 L86.36,71.49 L86.49,71.40 L86.63,72.04 L86.77,73.00 L86.90,73.20 L87.04,71.85 L87.17,70.14 L87.31,72.90 L87.44,72.51 L87.58,73.20 L87.71,73.30 L87.85,72.70 L87.98,71.85 L88.12,71.49 L88.25,71.06 L88.39,73.20 L88.53,71.76 L88.66,74.03 L88.80,73.82 L88.93,74.03 L89.07,76.38 L89.20,74.36 L89.34,73.00 L89.47,71.32 L89.61,76.26 L89.74,72.80 L89.88,74.36 L90.02,73.30 L90.15,75.51 L90.29,74.14 L90.42,74.03 L90.56,72.70 L90.69,74.81 L90.83,75.63 L90.96,74.36 L91.10,74.36 L91.23,71.49 L91.37,73.10 L91.50,74.14 L91.64,74.14 L91.78,75.16 L91.91,75.51 L92.05,75.27 L92.18,75.76 L92.32,76.00 L92.45,72.61 L92.59,73.00 L92.72,75.63 L92.86,73.71 L92.99,75.88 L93.13,75.51 L93.26,75.88 L93.40,74.58 L93.54,75.76 L93.67,75.39 L93.81,76.13 L93.94,74.25 L94.08,76.26 L94.21,75.39 L94.35,76.00 L94.48,75.63 L94.62,75.88 L94.75,75.16 L94.89,74.92 L95.03,75.04 L95.16,77.59 L95.30,73.61 L95.43,76.00 L95.57,76.26 L95.70,73.93 L95.84,75.39 L95.97,78.17 L96.11,78.47 L96.24,76.91 L96.38,76.91 L96.51,75.51 L96.65,76.51 L96.79,79.73 L96.92,77.59 L97.06,77.88 L97.19,77.59 L97.33,75.76 L97.46,78.77 L97.60,77.88 L97.73,76.26 L97.87,78.32 L98.00,77.74 L98.14,76.91 L98.27,77.45 L98.41,76.26 L98.55,76.78 L98.68,78.17 L98.82,78.47 L98.95,78.93 L99.09,77.59 L99.22,78.93 L99.36,79.90 L99.49,78.02 L99.63,76.91 L99.76,80.07 L99.90,78.77 L100.04,77.88 L100.17,76.78 L100.31,79.24 L100.44,78.93 L100.58,77.45 L100.71,77.88 L100.85,79.40 L100.98,77.88 L101.12,77.18 L101.25,79.57 L101.39,80.94 L101.52,79.73 L101.66,79.40 L101.80,77.59 L101.93,77.59 L102.07,77.74 L102.20,77.88 L102.34,80.24 L102.47,81.69 L102.61,79.40 L102.74,79.73 L102.88,81.50 L103.01,81.88 L103.15,77.88 L103.28,80.07 L103.42,78.17 L103.56,79.90 L103.69,78.02 L103.83,80.07 L103.96,78.77 L104.10,82.28 L104.23,77.59 L104.37,80.76 L104.50,80.41 L104.64,79.40 L104.77,78.32 L104.91,79.90 L105.05,78.93 L105.18,80.24 L105.32,78.77 L105.45,79.73 L105.59,81.31 L105.72,80.76 L105.86,78.17 L105.99,81.31 L106.13,83.11 L106.26,81.13 L106.40,79.73 L106.53,80.76 L106.67,82.08 L106.81,80.41 L106.94,76.51 L107.08,80.07 L107.21,82.28 L107.35,79.90 L107.48,83.32 L107.62,81.13 L107.75,83.11 L107.89,80.94 L108.02,80.94 L108.16,82.08 L108.29,81.50 L108.43,80.59 L108.57,78.02 L108.70,81.69 L108.84,77.32 L108.97,81.88 L109.11,79.73 L109.24,79.40 L109.38,82.28 L109.51,82.48 L109.65,83.54 L109.78,82.28 L109.92,83.11 L110.06,78.32 L110.19,82.08 L110.33,80.94 L110.46,81.50 L110.60,82.90 L110.73,81.31 L110.87,78.02 L111.00,82.08 L111.14,82.69 L111.27,81.69 L111.41,79.57 L111.54,79.73 L111.68,82.90 L111.82,83.54 L111.95,79.90 L112.09,81.88 L112.22,83.99 L112.36,84.94 L112.49,82.28 L112.63,84.94 L112.76,82.08 L112.90,82.08 L113.03,82.90 L113.17,82.28 L113.30,84.22 L113.44,83.76 L113.58,80.76 L113.71,85.69 L113.85,80.24 L113.98,82.08 L114.12,82.08 L114.25,82.28 L114.39,84.94 L114.52,81.69 L114.66,83.76 L114.79,82.08 L114.93,81.50 L115.07,85.18 L115.20,81.13 L115.34,83.99 L115.47,84.69 L115.61,81.31 L115.74,82.90 L115.88,81.69 L116.01,84.22 L116.15,78.77 L116.28,85.18 L116.42,81.31 L116.55,84.22 L116.69,84.69 L116.83,83.76 L116.96,82.28 L117.10,84.22 L117.23,83.54 L117.37,83.54 L117.50,82.90 L117.64,83.32 L117.77,81.88 L117.91,85.44 L118.04,86.22 L118.18,85.69 L118.31,83.99 L118.45,85.69 L118.59,84.69 L118.72,82.48 L118.86,80.76 L118.99,84.46 L119.13,82.08 L119.26,79.90 L119.40,86.78 L119.53,87.35 L119.67,85.44 L119.80,83.54 L119.94,83.76 L120.08,83.54 L120.21,86.78 L120.35,82.28 L120.48,83.99 L120.62,84.46 L120.75,82.08 L120.89,85.69 L121.02,88.59 L121.16,83.32 L121.29,82.90 L121.43,82.28 L121.56,85.18 L121.70,86.78 L121.84,84.46 L121.97,83.32 L122.11,84.94 L122.24,84.46 L122.38,86.78 L122.51,88.59 L122.65,85.69 L122.78,83.11 L122.92,89.25 L123.05,86.78 L123.19,83.32 L123.32,83.54 L123.46,85.69 L123.60,81.31 L123.73,84.94 L123.87,84.22 L124.00,84.94 L124.14,87.65 L124.27,81.50 L124.41,84.94 L124.54,85.44 L124.68,84.46 L124.81,86.50 L124.95,86.22 L125.09,86.22 L125.22,84.22 L125.36,82.48 L125.49,84.94 L125.63,84.22 L125.76,85.96 L125.90,84.94 L126.03,83.11 L126.17,85.69 L126.30,89.25 L126.44,84.22 L126.57,84.94 L126.71,86.22 L126.85,82.90 L126.98,87.95 L127.12,83.54 L127.25,85.69 L127.39,82.08 L127.52,83.76 L127.66,84.46 L127.79,87.35 L127.93,87.65 L128.06,87.35 L128.20,90.68 L128.33,87.35 L128.47,90.68 L128.61,83.76 L128.74,83.32 L128.88,89.25 L129.01,84.46 L129.15,85.69 L129.28,87.65 L129.42,90.68 L129.55,84.46 L129.69,87.35 L129.82,86.50 L129.96,87.06 L130.10,86.50 L130.23,84.22 L130.37,88.27 L130.50,85.69 L130.64,87.35 L130.77,87.06 L130.91,88.59 L131.04,87.06 L131.18,89.95 L131.31,85.18 L131.45,84.94 L131.58,84.46 L131.72,86.78 L131.86,87.35 L131.99,85.96 L132.13,86.50 L132.26,86.22 L132.40,85.96 L132.53,88.27 L132.67,89.59 L132.80,87.65 L132.94,87.35 L133.07,88.59 L133.21,89.95 L133.34,85.69 L133.48,85.44 L133.62,87.65 L133.75,86.50 L133.89,87.35 L134.02,85.96 L134.16,84.69 L134.29,88.59 L134.43,89.25 L134.56,88.91 L134.70,86.50 L134.83,85.69 L134.97,87.95 L135.11,84.22 L135.24,85.96 L135.38,87.35 L135.51,86.22 L135.65,90.68 L135.78,89.25 L135.92,88.91 L136.05,88.59 L136.19,87.95 L136.32,86.50 L136.46,85.69 L136.59,91.46 L136.73,88.27 L136.87,89.59 L137.00,88.91 L137.14,87.95 L137.27,88.27 L137.41,89.25 L137.54,89.59 L137.68,89.95 L137.81,88.91 L137.95,85.69 L138.08,89.59 L138.22,88.91 L138.35,87.06 L138.49,87.65 L138.63,87.95 L138.76,89.59 L138.90,86.22 L139.03,89.59 L139.17,86.78 L139.30,88.27 L139.44,91.46 L139.57,87.95 L139.71,88.27 L139.84,94.12 L139.98,88.27 L140.12,88.91 L140.25,87.95 L140.39,88.27 L140.52,87.65 L140.66,89.59 L140.79,87.65 L140.93,86.22 L141.06,89.59 L141.20,87.35 L141.33,90.68 L141.47,87.06 L141.60,89.25 L141.74,86.50 L141.88,88.27 L142.01,87.95 L142.15,88.91 L142.28,88.91 L142.42,86.22 L142.55,89.95 L142.69,90.31 L142.82,91.07 L142.96,88.59 L143.09,89.95 L143.23,87.35 L143.36,90.31 L143.50,88.59 L143.64,92.72 L143.77,87.35 L143.91,91.87 L144.04,88.59 L144.18,90.68 L144.31,91.46 L144.45,94.12 L144.58,91.07 L144.72,85.44 L144.85,89.95 L144.99,87.06 L145.13,87.95 L145.26,92.29 L145.40,90.68 L145.53,89.59 L145.67,85.44 L145.80,87.65 L145.94,87.65 L146.07,88.91 L146.21,86.50 L146.34,91.07 L146.48,89.25 L146.61,88.59 L146.75,87.65 L146.89,92.29 L147.02,86.78 L147.16,88.91 L147.29,91.07 L147.43,92.72 L147.56,89.59 L147.70,90.68 L147.83,88.27 L147.97,93.64 L148.10,87.65 L148.24,87.65 L148.37,88.91 L148.51,90.68 L148.65,86.78 L148.78,92.29 L148.92,90.31 L149.05,90.31 L149.19,89.25 L149.32,85.96 L149.46,91.46 L149.59,86.78 L149.73,89.25 L149.86,93.64 L150.00,92.72 L150.13,95.68 L150.27,91.46 L150.41,89.95 L150.54,90.31 L150.68,90.31 L150.81,88.91 L150.95,92.72 L151.08,88.91 L151.22,91.87 L151.35,90.31 L151.49,90.31 L151.62,91.46 L151.76,90.68 L151.90,86.50 L152.03,87.65 L152.17,90.68 L152.30,88.59 L152.44,90.68 L152.57,87.35 L152.71,89.59 L152.84,91.07 L152.98,87.35 L153.11,92.29 L153.25,87.65 L153.38,88.59 L153.52,94.62 L153.66,91.07 L153.79,89.59 L153.93,89.59 L154.06,90.31 L154.20,93.64 L154.33,92.72 L154.47,91.46 L154.60,87.06 L154.74,93.64 L154.87,93.17 L155.01,88.91 L155.14,88.59 L155.28,90.68 L155.42,89.25 L155.55,88.27 L155.69,94.12 L155.82,88.91 L155.96,90.68 L156.09,93.17 L156.23,91.07 L156.36,92.29 L156.50,88.59 L156.63,93.64 L156.77,90.31 L156.91,87.95 L157.04,88.59 L157.18,93.64 L157.31,93.17 L157.45,91.46 L157.58,94.12 L157.72,90.68 L157.85,91.07 L157.99,90.68 L158.12,89.95 L158.26,91.07 L158.39,92.29 L158.53,90.68 L158.67,91.87 L158.80,91.07 L158.94,89.25 L159.07,89.25 L159.21,88.59 L159.34,90.31 L159.48,91.87 L159.61,91.46 L159.75,87.65 L159.88,88.59 L160.02,92.72 L160.15,91.46 L160.29,89.59 L160.43,87.95 L160.56,87.95 L160.70,91.07 L160.83,87.95 L160.97,91.46 L161.10,89.25 L161.24,91.87 L161.37,92.72 L161.51,89.25 L161.64,93.64 L161.78,89.59 L161.92,90.31 L162.05,90.68 L162.19,91.46 L162.32,91.07 L162.46,91.07 L162.59,87.95 L162.73,94.12 L162.86,95.14 L163.00,92.29 L163.13,89.95 L163.27,88.27 L163.40,87.95 L163.54,90.68 L163.68,90.68 L163.81,92.29 L163.95,92.72 L164.08,90.68 L164.22,87.95 L164.35,93.17 L164.49,89.59 L164.62,89.59 L164.76,90.68 L164.89,92.72 L165.03,88.27 L165.16,92.72 L165.30,86.78 L165.44,94.62 L165.57,90.31 L165.71,93.17 L165.84,91.87 L165.98,93.64 L166.11,91.07 L166.25,93.64 L166.38,90.31 L166.52,97.45 L166.65,94.12 L166.79,93.64 L166.93,91.07 L167.06,89.95 L167.20,93.17 L167.33,88.91 L167.47,87.35 L167.60,91.87 L167.74,91.46 L167.87,91.46 L168.01,91.46 L168.14,93.17 L168.28,90.68 L168.41,95.68 L168.55,95.68 L168.69,91.87 L168.82,95.68 L168.96,89.59 L169.09,93.64 L169.23,93.17 L169.36,87.95 L169.50,95.68 L169.63,91.87 L169.77,89.95 L169.90,91.07 L170.04,94.12 L170.17,95.68 L170.31,93.64 L170.45,89.25 L170.58,88.91 L170.72,96.24 L170.85,89.25 L170.99,93.17 L171.12,89.95 L171.26,93.64 L171.39,88.27 L171.53,91.07 L171.66,93.64 L171.80,91.07 L171.94,87.06 L172.07,87.95 L172.21,90.31 L172.34,93.64 L172.48,92.72 L172.61,92.72 L172.75,89.25 L172.88,93.64 L173.02,85.96 L173.15,95.14 L173.29,88.27 L173.42,91.87 L173.56,94.12 L173.70,93.64 L173.83,94.62 L173.97,93.64 L174.10,93.64 L174.24,89.59 L174.37,92.29 L174.51,89.59 L174.64,91.46 L174.78,89.95 L174.91,97.45 L175.05,88.91 L175.18,94.12 L175.32,91.87 L175.46,93.17 L175.59,95.68 L175.73,92.72 L175.86,94.62 L176.00,93.64 L176.13,89.95 L176.27,94.62 L176.40,86.22 L176.54,89.59 L176.67,90.68 L176.81,92.72 L176.95,91.87 L177.08,93.64 L177.22,93.17 L177.35,94.62 L177.49,96.83 L177.62,94.62 L177.76,93.17 L177.89,94.62 L178.03,89.95 L178.16,90.31 L178.30,97.45 L178.43,93.64 L178.57,91.07 L178.71,91.07 L178.84,91.07 L178.98,92.72 L179.11,89.95 L179.25,92.72 L179.38,94.62 L179.52,93.17 L179.65,87.35 L179.79,89.95 L179.92,92.72 L180.06,94.12 L180.19,92.29 L180.33,93.17 L180.47,94.12 L180.60,92.29 L180.74,96.24 L180.87,90.68 L181.01,98.09 L181.14,91.87 L181.28,91.46 L181.41,89.25 L181.55,99.49 L181.68,93.17 L181.82,90.31 L181.96,95.14 L182.09,93.64 L182.23,87.06 L182.36,92.72 L182.50,95.14 L182.63,94.12 L182.77,94.62 L182.90,91.07 L183.04,93.17 L183.17,92.72 L183.31,91.46 L183.44,91.87 L183.58,94.12 L183.72,91.87 L183.85,96.24 L183.99,90.68 L184.12,91.87 L184.26,92.29 L184.39,96.24 L184.53,96.24 L184.66,95.14 L184.80,92.72 L184.93,94.12 L185.07,92.72 L185.20,89.95 L185.34,94.62 L185.48,92.29 L185.61,95.68 L185.75,86.50 L185.88,95.14 L186.02,91.87 L186.15,92.29 L186.29,88.59 L186.42,94.12 L186.56,94.62 L186.69,91.87 L186.83,94.62 L186.97,91.07 L187.10,91.46 L187.24,91.07 L187.37,91.87 L187.51,91.87 L187.64,95.68 L187.78,99.49 L187.91,95.68 L188.05,89.25 L188.18,92.72 L188.32,92.72 L188.45,93.17 L188.59,93.64 L188.73,96.24 L188.86,91.87 L189.00,96.24 L189.13,95.68 L189.27,92.72 L189.40,95.14 L189.54,92.72 L189.67,91.07 L189.81,96.24 L189.94,91.87 L190.08,91.46 L190.21,100.25 L190.35,91.46 L190.49,96.24 L190.62,92.29 L190.76,89.95 L190.89,94.62 L191.03,92.72 L191.16,94.12 L191.30,93.17 L191.43,94.12 L191.57,92.72 L191.70,94.12 L191.84,91.07 L191.98,89.59 L192.11,94.12 L192.25,96.24 L192.38,94.62 L192.52,91.87 L192.65,96.24 L192.79,92.29 L192.92,99.49 L193.06,91.87 L193.19,93.64 L193.33,91.46 L193.46,89.59" fill="none" stroke="#5a5bef" stroke-width="0.75" stroke-linejoin="round" />
<path d="M34.34,133.56 L34.41,133.99 L34.48,133.95 L34.55,129.78 L34.63,133.60 L34.70,134.19 L34.77,133.58 L34.84,133.67 L34.91,134.13 L34.98,134.21 L35.06,133.71 L35.13,134.29 L35.20,133.67 L35.27,133.96 L35.34,134.20 L35.42,133.65 L35.49,133.40 L35.56,134.07 L35.63,133.80 L35.70,133.98 L35.77,133.99 L35.85,133.77 L35.92,134.09 L35.99,134.20 L36.06,133.42 L36.13,134.20 L36.20,134.27 L36.28,133.82 L36.35,133.65 L36.42,134.04 L36.49,134.02 L36.56,133.39 L36.63,133.74 L36.71,134.06 L36.78,133.89 L36.85,134.16 L36.92,134.26 L36.99,133.91 L37.06,133.56 L37.14,133.67 L37.21,133.66 L37.28,133.87 L37.35,134.17 L37.42,133.81 L37.49,133.52 L37.57,134.24 L37.64,134.09 L37.71,133.95 L37.78,134.28 L37.85,133.47 L37.92,133.82 L38.00,133.69 L38.07,133.68 L38.14,133.57 L38.21,134.00 L38.28,134.18 L38.35,133.86 L38.43,134.13 L38.50,133.85 L38.57,134.11 L38.64,134.25 L38.71,134.24 L38.78,133.95 L38.86,133.83 L38.93,133.75 L39.00,133.78 L39.07,133.75 L39.14,133.94 L39.21,134.00 L39.29,133.50 L39.36,133.86 L39.43,134.17 L39.50,133.97 L39.57,133.66 L39.64,134.16 L39.72,133.75 L39.79,134.16 L39.86,133.97 L39.93,133.56 L40.00,133.66 L40.07,133.74 L40.15,134.19 L40.22,134.11 L40.29,134.02 L40.36,133.48 L40.43,133.95 L40.50,133.57 L40.58,133.88 L40.65,133.75 L40.72,133.71 L40.79,134.05 L40.86,133.67 L40.93,134.00 L41.01,133.94 L41.08,128.03 L41.15,133.45 L41.22,133.86 L41.29,133.84 L41.36,134.23 L41.44,133.77 L41.51,133.41 L41.58,133.81 L41.65,134.24 L41.72,133.76 L41.80,133.93 L41.87,133.92 L41.94,133.97 L42.01,133.82 L42.08,134.27 L42.15,133.78 L42.23,133.52 L42.30,134.30 L42.37,133.75 L42.44,133.65 L42.51,133.64 L42.58,133.89 L42.66,133.78 L42.73,133.87 L42.80,133.40 L42.87,133.58 L42.94,133.43 L43.01,133.68 L43.09,134.10 L43.16,134.03 L43.23,127.62 L43.30,134.23 L43.37,134.03 L43.44,134.27 L43.52,133.40 L43.59,133.55 L43.66,133.90 L43.73,133.70 L43.80,133.88 L43.87,133.90 L43.95,130.96 L44.02,133.40 L44.09,133.72 L44.16,133.63 L44.23,131.45 L44.30,133.81 L44.38,134.26 L44.45,133.80 L44.52,133.87 L44.59,133.92 L44.66,133.44 L44.73,133.91 L44.81,133.64 L44.88,133.54 L44.95,133.98 L45.02,133.89 L45.09,133.69 L45.16,134.11 L45.24,134.20 L45.31,134.16 L45.38,134.16 L45.45,133.44 L45.52,134.01 L45.59,133.87 L45.67,133.62 L45.74,133.57 L45.81,131.20 L45.88,133.69 L45.95,133.43 L46.02,133.58 L46.10,134.20 L46.17,134.24 L46.24,133.61 L46.31,133.80 L46.38,134.09 L46.45,133.63 L46.53,133.43 L46.60,133.55 L46.67,134.11 L46.74,133.52 L46.81,133.84 L46.88,134.01 L46.96,133.89 L47.03,134.22 L47.10,133.54 L47.17,134.25 L47.24,133.43 L47.31,134.04" fill="none" stroke="#767676" stroke-width="0.75" stroke-linejoin="round" />
<rect x="34.30" y="6.60" width="159.30" height="127.70" fill="none" stroke="#262626" stroke-width="1"/>
<line x1="31.30" y1="134.30" x2="34.30" y2="134.30" stroke="#262626" stroke-width="1" />
<text x="27.30" y="137.40" font-size="8.95" text-anchor="end" fill="#1a1a1a" >10<tspan font-size="5.19" dy="-3.76">0</tspan></text>
<line x1="32.50" y1="125.12" x2="34.30" y2="125.12" stroke="#262626" stroke-width="0.7" />
<line x1="32.50" y1="119.75" x2="34.30" y2="119.75" stroke="#262626" stroke-width="0.7" />
<line x1="32.50" y1="115.94" x2="34.30" y2="115.94" stroke="#262626" stroke-width="0.7" />
<line x1="32.50" y1="112.98" x2="34.30" y2="112.98" stroke="#262626" stroke-width="0.7" />
<line x1="32.50" y1="110.57" x2="34.30" y2="110.57" stroke="#262626" stroke-width="0.7" />
<line x1="32.50" y1="108.52" x2="34.30" y2="108.52" stroke="#262626" stroke-width="0.7" />
<line x1="32.50" y1="106.76" x2="34.30" y2="106.76" stroke="#262626" stroke-width="0.7" />
<line x1="32.50" y1="105.20" x2="34.30" y2="105.20" stroke="#262626" stroke-width="0.7" />
<line x1="31.30" y1="103.80" x2="34.30" y2="103.80" stroke="#262626" stroke-width="1" />
<text x="27.30" y="106.90" font-size="8.95" text-anchor="end" fill="#1a1a1a" >10<tspan font-size="5.19" dy="-3.76">1</tspan></text>
<line x1="32.50" y1="94.62" x2="34.30" y2="94.62" stroke="#262626" stroke-width="0.7" />
<line x1="32.50" y1="89.25" x2="34.30" y2="89.25" stroke="#262626" stroke-width="0.7" />
<line x1="32.50" y1="85.44" x2="34.30" y2="85.44" stroke="#262626" stroke-width="0.7" />
<line x1="32.50" y1="82.48" x2="34.30" y2="82.48" stroke="#262626" stroke-width="0.7" />
<line x1="32.50" y1="80.07" x2="34.30" y2="80.07" stroke="#262626" stroke-width="0.7" />
<line x1="32.50" y1="78.02" x2="34.30" y2="78.02" stroke="#262626" stroke-width="0.7" />
<line x1="32.50" y1="76.26" x2="34.30" y2="76.26" stroke="#262626" stroke-width="0.7" />
<line x1="32.50" y1="74.70" x2="34.30" y2="74.70" stroke="#262626" stroke-width="0.7" />
<line x1="31.30" y1="73.30" x2="34.30" y2="73.30" stroke="#262626" stroke-width="1" />
<text x="27.30" y="76.40" font-size="8.95" text-anchor="end" fill="#1a1a1a" >10<tspan font-size="5.19" dy="-3.76">2</tspan></text>
<line x1="32.50" y1="64.12" x2="34.30" y2="64.12" stroke="#262626" stroke-width="0.7" />
<line x1="32.50" y1="58.75" x2="34.30" y2="58.75" stroke="#262626" stroke-width="0.7" />
<line x1="32.50" y1="54.94" x2="34.30" y2="54.94" stroke="#262626" stroke-width="0.7" />
<line x1="32.50" y1="51.98" x2="34.30" y2="51.98" stroke="#262626" stroke-width="0.7" />
<line x1="32.50" y1="49.57" x2="34.30" y2="49.57" stroke="#262626" stroke-width="0.7" />
<line x1="32.50" y1="47.52" x2="34.30" y2="47.52" stroke="#262626" stroke-width="0.7" />
<line x1="32.50" y1="45.76" x2="34.30" y2="45.76" stroke="#262626" stroke-width="0.7" />
<line x1="32.50" y1="44.20" x2="34.30" y2="44.20" stroke="#262626" stroke-width="0.7" />
<line x1="31.30" y1="42.80" x2="34.30" y2="42.80" stroke="#262626" stroke-width="1" />
<text x="27.30" y="45.90" font-size="8.95" text-anchor="end" fill="#1a1a1a" >10<tspan font-size="5.19" dy="-3.76">3</tspan></text>
<line x1="32.50" y1="33.62" x2="34.30" y2="33.62" stroke="#262626" stroke-width="0.7" />
<line x1="32.50" y1="28.25" x2="34.30" y2="28.25" stroke="#262626" stroke-width="0.7" />
<line x1="32.50" y1="24.44" x2="34.30" y2="24.44" stroke="#262626" stroke-width="0.7" />
<line x1="32.50" y1="21.48" x2="34.30" y2="21.48" stroke="#262626" stroke-width="0.7" />
<line x1="32.50" y1="19.07" x2="34.30" y2="19.07" stroke="#262626" stroke-width="0.7" />
<line x1="32.50" y1="17.02" x2="34.30" y2="17.02" stroke="#262626" stroke-width="0.7" />
<line x1="32.50" y1="15.26" x2="34.30" y2="15.26" stroke="#262626" stroke-width="0.7" />
<line x1="32.50" y1="13.70" x2="34.30" y2="13.70" stroke="#262626" stroke-width="0.7" />
<line x1="31.30" y1="12.30" x2="34.30" y2="12.30" stroke="#262626" stroke-width="1" />
<text x="27.30" y="15.40" font-size="8.95" text-anchor="end" fill="#1a1a1a" >10<tspan font-size="5.19" dy="-3.76">4</tspan></text>
<line x1="34.30" y1="134.30" x2="34.30" y2="137.30" stroke="#262626" stroke-width="1" />
<text x="34.30" y="147.30" font-size="8.95" text-anchor="middle" fill="#1a1a1a" >0</text>
<line x1="54.21" y1="134.30" x2="54.21" y2="136.10" stroke="#262626" stroke-width="0.7" />
<line x1="74.12" y1="134.30" x2="74.12" y2="137.30" stroke="#262626" stroke-width="1" />
<text x="74.12" y="147.30" font-size="8.95" text-anchor="middle" fill="#1a1a1a" >50</text>
<line x1="94.04" y1="134.30" x2="94.04" y2="136.10" stroke="#262626" stroke-width="0.7" />
<line x1="113.95" y1="134.30" x2="113.95" y2="137.30" stroke="#262626" stroke-width="1" />
<text x="113.95" y="147.30" font-size="8.95" text-anchor="middle" fill="#1a1a1a" >100</text>
<line x1="133.86" y1="134.30" x2="133.86" y2="136.10" stroke="#262626" stroke-width="0.7" />
<line x1="153.77" y1="134.30" x2="153.77" y2="137.30" stroke="#262626" stroke-width="1" />
<text x="153.77" y="147.30" font-size="8.95" text-anchor="middle" fill="#1a1a1a" >150</text>
<line x1="173.69" y1="134.30" x2="173.69" y2="136.10" stroke="#262626" stroke-width="0.7" />
<line x1="193.60" y1="134.30" x2="193.60" y2="137.30" stroke="#262626" stroke-width="1" />
<text x="193.60" y="147.30" font-size="8.95" text-anchor="middle" fill="#1a1a1a" >200</text>
<text x="113.95" y="156.50" font-size="8.95" text-anchor="middle" fill="#1a1a1a" >Decay time (ns)</text>
<text transform="translate(11.2,70) rotate(-90)" font-size="8.95" text-anchor="middle" fill="#1a1a1a">PL intensity (arb. units)</text>
<line x1="127.90" y1="15.30" x2="147.40" y2="15.30" stroke="#767676" stroke-width="1.3" />
<text x="150.50" y="18.40" font-size="8.8" text-anchor="start" fill="#1a1a1a" >Pristine</text>
<line x1="127.90" y1="26.20" x2="147.40" y2="26.20" stroke="#1dbdc3" stroke-width="1.3" />
<text x="150.50" y="29.30" font-size="8.8" text-anchor="start" fill="#1a1a1a" >Sky-blue</text>
<line x1="127.90" y1="37.10" x2="147.40" y2="37.10" stroke="#5cc3f3" stroke-width="1.3" />
<text x="150.50" y="40.20" font-size="8.8" text-anchor="start" fill="#1a1a1a" >Pure-blue</text>
<line x1="127.90" y1="48.00" x2="147.40" y2="48.00" stroke="#5a5bef" stroke-width="1.3" />
<text x="150.50" y="51.10" font-size="8.8" text-anchor="start" fill="#1a1a1a" >Deep-blue</text>
<text x="215.40" y="8.30" font-size="11" text-anchor="start" fill="#1a1a1a" font-weight="bold">b</text>
<rect x="252.30" y="46.30" width="20.60" height="88.00" fill="#fbc3a3" stroke="#a89080" stroke-width="0.6"/>
<rect x="272.90" y="37.50" width="20.60" height="96.80" fill="#a3a8c8" stroke="#6a7090" stroke-width="0.6"/>
<rect x="303.30" y="29.50" width="20.60" height="104.80" fill="#fbc3a3" stroke="#a89080" stroke-width="0.6"/>
<rect x="323.90" y="113.90" width="20.60" height="20.40" fill="#a3a8c8" stroke="#6a7090" stroke-width="0.6"/>
<rect x="354.10" y="33.90" width="20.60" height="100.40" fill="#fbc3a3" stroke="#a89080" stroke-width="0.6"/>
<rect x="374.70" y="95.50" width="20.60" height="38.80" fill="#a3a8c8" stroke="#6a7090" stroke-width="0.6"/>
<rect x="405.10" y="55.90" width="20.60" height="78.40" fill="#fbc3a3" stroke="#a89080" stroke-width="0.6"/>
<rect x="425.70" y="77.50" width="20.60" height="56.80" fill="#a3a8c8" stroke="#6a7090" stroke-width="0.6"/>
<path d="M262.60,46.30 L313.60,29.50 L364.40,33.90 L415.40,55.90" fill="none" stroke="#f5a27a" stroke-width="0.9" stroke-linejoin="round" stroke-dasharray="1.2,1.8"/>
<path d="M283.20,37.50 L334.20,113.90 L385.00,95.50 L436.00,77.50" fill="none" stroke="#6a78c0" stroke-width="0.9" stroke-linejoin="round" stroke-dasharray="1.2,1.8"/>
<rect x="260.40" y="44.10" width="4.4" height="4.4" fill="#000"/>
<rect x="311.40" y="27.30" width="4.4" height="4.4" fill="#000"/>
<rect x="362.20" y="31.70" width="4.4" height="4.4" fill="#000"/>
<rect x="413.20" y="53.70" width="4.4" height="4.4" fill="#000"/>
<path d="M283.20,34.60 L286.10,37.50 L283.20,40.40 L280.30,37.50 Z" fill="#000"/>
<path d="M334.20,111.00 L337.10,113.90 L334.20,116.80 L331.30,113.90 Z" fill="#000"/>
<path d="M385.00,92.60 L387.90,95.50 L385.00,98.40 L382.10,95.50 Z" fill="#000"/>
<path d="M436.00,74.60 L438.90,77.50 L436.00,80.40 L433.10,77.50 Z" fill="#000"/>
<text x="261.60" y="43.40" font-size="8.95" text-anchor="middle" fill="#1a1a1a" >2.20</text>
<text x="312.50" y="26.20" font-size="8.95" text-anchor="middle" fill="#1a1a1a" >2.62</text>
<text x="364.10" y="30.90" font-size="8.95" text-anchor="middle" fill="#1a1a1a" >2.51</text>
<text x="414.80" y="53.00" font-size="8.95" text-anchor="middle" fill="#1a1a1a" >1.96</text>
<text x="282.70" y="33.20" font-size="8.95" text-anchor="middle" fill="#1a1a1a" >2.42</text>
<text x="337.40" y="107.80" font-size="8.95" text-anchor="middle" fill="#1a1a1a" >0.51</text>
<text x="384.70" y="91.50" font-size="8.95" text-anchor="middle" fill="#1a1a1a" >0.97</text>
<text x="435.90" y="73.70" font-size="8.95" text-anchor="middle" fill="#1a1a1a" >1.42</text>
<rect x="237.30" y="6.70" width="223.40" height="127.60" fill="none" stroke="#262626" stroke-width="1"/>
<line x1="234.30" y1="134.30" x2="237.30" y2="134.30" stroke="#262626" stroke-width="1" />
<text x="231.60" y="137.40" font-size="8.95" text-anchor="end" fill="#1a1a1a" >0</text>
<line x1="235.50" y1="114.30" x2="237.30" y2="114.30" stroke="#262626" stroke-width="0.7" />
<line x1="234.30" y1="94.30" x2="237.30" y2="94.30" stroke="#262626" stroke-width="1" />
<text x="231.60" y="97.40" font-size="8.95" text-anchor="end" fill="#1a1a1a" >1</text>
<line x1="235.50" y1="74.30" x2="237.30" y2="74.30" stroke="#262626" stroke-width="0.7" />
<line x1="234.30" y1="54.30" x2="237.30" y2="54.30" stroke="#262626" stroke-width="1" />
<text x="231.60" y="57.40" font-size="8.95" text-anchor="end" fill="#1a1a1a" >2</text>
<line x1="235.50" y1="34.30" x2="237.30" y2="34.30" stroke="#262626" stroke-width="0.7" />
<line x1="234.30" y1="14.30" x2="237.30" y2="14.30" stroke="#262626" stroke-width="1" />
<text x="231.60" y="17.40" font-size="8.95" text-anchor="end" fill="#1a1a1a" >3</text>
<text x="272.90" y="151.20" font-size="8.95" text-anchor="middle" fill="#1a1a1a" >Pristine</text>
<text x="325.40" y="151.20" font-size="8.95" text-anchor="middle" fill="#1a1a1a" >Sky-blue</text>
<text x="374.70" y="151.20" font-size="8.95" text-anchor="middle" fill="#1a1a1a" >Pure-blue</text>
<text x="425.70" y="151.20" font-size="8.95" text-anchor="middle" fill="#1a1a1a" >Deep-blue</text>
<text transform="translate(222.8,69.8) rotate(-90)" font-size="8.95" text-anchor="middle" fill="#1a1a1a">Rate constant (x10<tspan font-size="5.4" dy="-3.3">7</tspan><tspan dy="3.3"> s</tspan><tspan font-size="5.4" dy="-3.3">-1</tspan><tspan dy="3.3">)</tspan></text>
<rect x="424.5" y="11.4" width="19.7" height="9.2" fill="#fbc3a3" stroke="#a89080" stroke-width="0.6"/>
<rect x="424.5" y="24.1" width="19.7" height="9.2" fill="#a3a8c8" stroke="#6a7090" stroke-width="0.6"/>
<text x="447" y="19.3" font-size="8.8" font-style="italic" fill="#1a1a1a">k<tspan font-size="5.5" dy="2">r</tspan></text>
<text x="447" y="32" font-size="8.8" font-style="italic" fill="#1a1a1a">k<tspan font-size="5.5" dy="2">nr</tspan></text>
<text x="481.00" y="8.40" font-size="11" text-anchor="start" fill="#1a1a1a" font-weight="bold">c</text>
<g fill="#fff" stroke="#7a7a7a" stroke-width="1.1"><circle cx="529.45" cy="72.27" r="2.1"/><circle cx="566.50" cy="66.55" r="2.1"/><circle cx="580.03" cy="63.77" r="2.1"/><circle cx="588.49" cy="61.94" r="2.1"/><circle cx="594.67" cy="60.62" r="2.1"/><circle cx="599.53" cy="59.57" r="2.1"/><circle cx="603.55" cy="58.70" r="2.1"/><circle cx="606.96" cy="57.98" r="2.1"/><circle cx="609.94" cy="57.38" r="2.1"/><circle cx="612.57" cy="56.80" r="2.1"/><circle cx="614.93" cy="56.22" r="2.1"/><circle cx="617.07" cy="55.63" r="2.1"/><circle cx="619.03" cy="55.04" r="2.1"/><circle cx="620.84" cy="54.43" r="2.1"/><circle cx="622.52" cy="53.80" r="2.1"/><circle cx="624.08" cy="53.15" r="2.1"/><circle cx="625.54" cy="52.45" r="2.1"/><circle cx="626.91" cy="51.67" r="2.1"/><circle cx="628.21" cy="50.81" r="2.1"/><circle cx="629.44" cy="49.80" r="2.1"/><circle cx="630.60" cy="48.57" r="2.1"/><circle cx="631.71" cy="47.26" r="2.1"/><circle cx="632.77" cy="45.96" r="2.1"/><circle cx="633.78" cy="44.64" r="2.1"/><circle cx="634.75" cy="43.30" r="2.1"/><circle cx="635.68" cy="41.95" r="2.1"/><circle cx="636.58" cy="40.60" r="2.1"/><circle cx="637.44" cy="39.27" r="2.1"/><circle cx="638.27" cy="37.96" r="2.1"/><circle cx="639.07" cy="36.69" r="2.1"/><circle cx="639.84" cy="35.45" r="2.1"/><circle cx="640.59" cy="34.22" r="2.1"/><circle cx="641.32" cy="32.94" r="2.1"/><circle cx="642.02" cy="31.63" r="2.1"/><circle cx="642.70" cy="30.32" r="2.1"/><circle cx="643.36" cy="29.05" r="2.1"/><circle cx="644.01" cy="27.82" r="2.1"/><circle cx="644.63" cy="26.65" r="2.1"/><circle cx="645.24" cy="25.57" r="2.1"/><circle cx="645.84" cy="24.56" r="2.1"/><circle cx="646.42" cy="23.66" r="2.1"/><circle cx="646.98" cy="22.85" r="2.1"/><circle cx="647.53" cy="22.16" r="2.1"/><circle cx="648.07" cy="21.53" r="2.1"/><circle cx="648.60" cy="20.93" r="2.1"/><circle cx="649.11" cy="20.37" r="2.1"/><circle cx="649.61" cy="19.88" r="2.1"/><circle cx="650.11" cy="19.46" r="2.1"/><circle cx="650.59" cy="19.12" r="2.1"/><circle cx="651.06" cy="18.87" r="2.1"/><circle cx="651.52" cy="18.67" r="2.1"/><circle cx="651.98" cy="18.48" r="2.1"/><circle cx="652.42" cy="18.30" r="2.1"/><circle cx="652.86" cy="18.13" r="2.1"/><circle cx="653.29" cy="17.97" r="2.1"/><circle cx="653.71" cy="17.84" r="2.1"/><circle cx="654.12" cy="17.71" r="2.1"/><circle cx="654.53" cy="17.60" r="2.1"/><circle cx="654.92" cy="17.51" r="2.1"/><circle cx="655.32" cy="17.43" r="2.1"/><circle cx="655.70" cy="17.38" r="2.1"/><circle cx="656.08" cy="17.33" r="2.1"/><circle cx="656.45" cy="17.31" r="2.1"/></g>
<line x1="529.20" y1="72.60" x2="651.60" y2="50.70" stroke="#8c8c8c" stroke-width="0.6" />
<line x1="626.50" y1="59.00" x2="654.20" y2="14.70" stroke="#8c8c8c" stroke-width="0.6" />
<line x1="637.70" y1="28.70" x2="661.70" y2="14.70" stroke="#8c8c8c" stroke-width="0.6" />
<circle cx="529.4" cy="18.30" r="2.1" fill="none" stroke="#7a7a7a" stroke-width="1"/>
<text x="539.20" y="21.40" font-size="8.8" text-anchor="start" fill="#1a1a1a" >Pristine</text>
<text x="624.40" y="68.10" font-size="8.8" text-anchor="start" fill="#8a8a8a" >1.48 V</text>
<line x1="510.10" y1="79.80" x2="513.30" y2="79.80" stroke="#262626" stroke-width="0.9" />
<text x="507.30" y="84.20" font-size="8.95" text-anchor="end" fill="#1a1a1a" >10<tspan font-size="5.19" dy="-3.76">-6</tspan></text>
<line x1="511.30" y1="77.05" x2="513.30" y2="77.05" stroke="#262626" stroke-width="0.6" />
<line x1="511.30" y1="75.43" x2="513.30" y2="75.43" stroke="#262626" stroke-width="0.6" />
<line x1="511.30" y1="74.29" x2="513.30" y2="74.29" stroke="#262626" stroke-width="0.6" />
<line x1="511.30" y1="73.40" x2="513.30" y2="73.40" stroke="#262626" stroke-width="0.6" />
<line x1="511.30" y1="72.68" x2="513.30" y2="72.68" stroke="#262626" stroke-width="0.6" />
<line x1="511.30" y1="72.07" x2="513.30" y2="72.07" stroke="#262626" stroke-width="0.6" />
<line x1="511.30" y1="71.54" x2="513.30" y2="71.54" stroke="#262626" stroke-width="0.6" />
<line x1="511.30" y1="71.07" x2="513.30" y2="71.07" stroke="#262626" stroke-width="0.6" />
<line x1="510.10" y1="70.65" x2="513.30" y2="70.65" stroke="#262626" stroke-width="0.9" />
<line x1="511.30" y1="67.90" x2="513.30" y2="67.90" stroke="#262626" stroke-width="0.6" />
<line x1="511.30" y1="66.28" x2="513.30" y2="66.28" stroke="#262626" stroke-width="0.6" />
<line x1="511.30" y1="65.14" x2="513.30" y2="65.14" stroke="#262626" stroke-width="0.6" />
<line x1="511.30" y1="64.25" x2="513.30" y2="64.25" stroke="#262626" stroke-width="0.6" />
<line x1="511.30" y1="63.53" x2="513.30" y2="63.53" stroke="#262626" stroke-width="0.6" />
<line x1="511.30" y1="62.92" x2="513.30" y2="62.92" stroke="#262626" stroke-width="0.6" />
<line x1="511.30" y1="62.39" x2="513.30" y2="62.39" stroke="#262626" stroke-width="0.6" />
<line x1="511.30" y1="61.92" x2="513.30" y2="61.92" stroke="#262626" stroke-width="0.6" />
<line x1="510.10" y1="61.50" x2="513.30" y2="61.50" stroke="#262626" stroke-width="0.9" />
<line x1="511.30" y1="58.75" x2="513.30" y2="58.75" stroke="#262626" stroke-width="0.6" />
<line x1="511.30" y1="57.13" x2="513.30" y2="57.13" stroke="#262626" stroke-width="0.6" />
<line x1="511.30" y1="55.99" x2="513.30" y2="55.99" stroke="#262626" stroke-width="0.6" />
<line x1="511.30" y1="55.10" x2="513.30" y2="55.10" stroke="#262626" stroke-width="0.6" />
<line x1="511.30" y1="54.38" x2="513.30" y2="54.38" stroke="#262626" stroke-width="0.6" />
<line x1="511.30" y1="53.77" x2="513.30" y2="53.77" stroke="#262626" stroke-width="0.6" />
<line x1="511.30" y1="53.24" x2="513.30" y2="53.24" stroke="#262626" stroke-width="0.6" />
<line x1="511.30" y1="52.77" x2="513.30" y2="52.77" stroke="#262626" stroke-width="0.6" />
<line x1="510.10" y1="52.35" x2="513.30" y2="52.35" stroke="#262626" stroke-width="0.9" />
<text x="507.30" y="56.75" font-size="8.95" text-anchor="end" fill="#1a1a1a" >10<tspan font-size="5.19" dy="-3.76">-3</tspan></text>
<line x1="511.30" y1="49.60" x2="513.30" y2="49.60" stroke="#262626" stroke-width="0.6" />
<line x1="511.30" y1="47.98" x2="513.30" y2="47.98" stroke="#262626" stroke-width="0.6" />
<line x1="511.30" y1="46.84" x2="513.30" y2="46.84" stroke="#262626" stroke-width="0.6" />
<line x1="511.30" y1="45.95" x2="513.30" y2="45.95" stroke="#262626" stroke-width="0.6" />
<line x1="511.30" y1="45.23" x2="513.30" y2="45.23" stroke="#262626" stroke-width="0.6" />
<line x1="511.30" y1="44.62" x2="513.30" y2="44.62" stroke="#262626" stroke-width="0.6" />
<line x1="511.30" y1="44.09" x2="513.30" y2="44.09" stroke="#262626" stroke-width="0.6" />
<line x1="511.30" y1="43.62" x2="513.30" y2="43.62" stroke="#262626" stroke-width="0.6" />
<line x1="510.10" y1="43.20" x2="513.30" y2="43.20" stroke="#262626" stroke-width="0.9" />
<line x1="511.30" y1="40.45" x2="513.30" y2="40.45" stroke="#262626" stroke-width="0.6" />
<line x1="511.30" y1="38.83" x2="513.30" y2="38.83" stroke="#262626" stroke-width="0.6" />
<line x1="511.30" y1="37.69" x2="513.30" y2="37.69" stroke="#262626" stroke-width="0.6" />
<line x1="511.30" y1="36.80" x2="513.30" y2="36.80" stroke="#262626" stroke-width="0.6" />
<line x1="511.30" y1="36.08" x2="513.30" y2="36.08" stroke="#262626" stroke-width="0.6" />
<line x1="511.30" y1="35.47" x2="513.30" y2="35.47" stroke="#262626" stroke-width="0.6" />
<line x1="511.30" y1="34.94" x2="513.30" y2="34.94" stroke="#262626" stroke-width="0.6" />
<line x1="511.30" y1="34.47" x2="513.30" y2="34.47" stroke="#262626" stroke-width="0.6" />
<line x1="510.10" y1="34.05" x2="513.30" y2="34.05" stroke="#262626" stroke-width="0.9" />
<line x1="511.30" y1="31.30" x2="513.30" y2="31.30" stroke="#262626" stroke-width="0.6" />
<line x1="511.30" y1="29.68" x2="513.30" y2="29.68" stroke="#262626" stroke-width="0.6" />
<line x1="511.30" y1="28.54" x2="513.30" y2="28.54" stroke="#262626" stroke-width="0.6" />
<line x1="511.30" y1="27.65" x2="513.30" y2="27.65" stroke="#262626" stroke-width="0.6" />
<line x1="511.30" y1="26.93" x2="513.30" y2="26.93" stroke="#262626" stroke-width="0.6" />
<line x1="511.30" y1="26.32" x2="513.30" y2="26.32" stroke="#262626" stroke-width="0.6" />
<line x1="511.30" y1="25.79" x2="513.30" y2="25.79" stroke="#262626" stroke-width="0.6" />
<line x1="511.30" y1="25.32" x2="513.30" y2="25.32" stroke="#262626" stroke-width="0.6" />
<line x1="510.10" y1="24.90" x2="513.30" y2="24.90" stroke="#262626" stroke-width="0.9" />
<text x="507.30" y="29.30" font-size="8.95" text-anchor="end" fill="#1a1a1a" >10<tspan font-size="5.19" dy="-3.76">0</tspan></text>
<line x1="511.30" y1="22.15" x2="513.30" y2="22.15" stroke="#262626" stroke-width="0.6" />
<line x1="511.30" y1="20.53" x2="513.30" y2="20.53" stroke="#262626" stroke-width="0.6" />
<line x1="511.30" y1="19.39" x2="513.30" y2="19.39" stroke="#262626" stroke-width="0.6" />
<line x1="511.30" y1="18.50" x2="513.30" y2="18.50" stroke="#262626" stroke-width="0.6" />
<line x1="511.30" y1="17.78" x2="513.30" y2="17.78" stroke="#262626" stroke-width="0.6" />
<line x1="511.30" y1="17.17" x2="513.30" y2="17.17" stroke="#262626" stroke-width="0.6" />
<line x1="511.30" y1="16.64" x2="513.30" y2="16.64" stroke="#262626" stroke-width="0.6" />
<line x1="511.30" y1="16.17" x2="513.30" y2="16.17" stroke="#262626" stroke-width="0.6" />
<line x1="510.10" y1="15.75" x2="513.30" y2="15.75" stroke="#262626" stroke-width="0.9" />
<line x1="511.30" y1="13.00" x2="513.30" y2="13.00" stroke="#262626" stroke-width="0.6" />
<line x1="511.30" y1="11.38" x2="513.30" y2="11.38" stroke="#262626" stroke-width="0.6" />
<line x1="511.30" y1="10.24" x2="513.30" y2="10.24" stroke="#262626" stroke-width="0.6" />
<line x1="511.30" y1="9.35" x2="513.30" y2="9.35" stroke="#262626" stroke-width="0.6" />
<line x1="511.30" y1="8.63" x2="513.30" y2="8.63" stroke="#262626" stroke-width="0.6" />
<line x1="511.30" y1="8.02" x2="513.30" y2="8.02" stroke="#262626" stroke-width="0.6" />
<line x1="511.30" y1="7.49" x2="513.30" y2="7.49" stroke="#262626" stroke-width="0.6" />
<line x1="511.30" y1="7.02" x2="513.30" y2="7.02" stroke="#262626" stroke-width="0.6" />
<line x1="510.10" y1="6.60" x2="513.30" y2="6.60" stroke="#262626" stroke-width="0.9" />
<g fill="#fff" stroke="#1dbdc3" stroke-width="1.1"><circle cx="529.45" cy="143.00" r="2.1"/><circle cx="554.74" cy="138.29" r="2.1"/><circle cx="566.50" cy="136.74" r="2.1"/><circle cx="574.24" cy="135.37" r="2.1"/><circle cx="580.03" cy="134.19" r="2.1"/><circle cx="584.65" cy="133.22" r="2.1"/><circle cx="588.49" cy="132.40" r="2.1"/><circle cx="591.79" cy="131.67" r="2.1"/><circle cx="594.67" cy="131.00" r="2.1"/><circle cx="597.23" cy="130.37" r="2.1"/><circle cx="599.53" cy="129.78" r="2.1"/><circle cx="601.63" cy="129.22" r="2.1"/><circle cx="603.55" cy="128.67" r="2.1"/><circle cx="605.32" cy="128.14" r="2.1"/><circle cx="606.96" cy="127.63" r="2.1"/><circle cx="608.50" cy="127.13" r="2.1"/><circle cx="609.94" cy="126.66" r="2.1"/><circle cx="611.29" cy="126.20" r="2.1"/><circle cx="612.57" cy="125.76" r="2.1"/><circle cx="613.78" cy="125.30" r="2.1"/><circle cx="614.93" cy="124.83" r="2.1"/><circle cx="616.03" cy="124.33" r="2.1"/><circle cx="617.07" cy="123.80" r="2.1"/><circle cx="618.08" cy="123.23" r="2.1"/><circle cx="619.03" cy="122.63" r="2.1"/><circle cx="619.96" cy="121.98" r="2.1"/><circle cx="620.84" cy="121.13" r="2.1"/><circle cx="621.69" cy="120.04" r="2.1"/><circle cx="622.52" cy="118.82" r="2.1"/><circle cx="623.31" cy="117.51" r="2.1"/><circle cx="624.08" cy="116.18" r="2.1"/><circle cx="624.82" cy="114.87" r="2.1"/><circle cx="625.54" cy="113.63" r="2.1"/><circle cx="626.24" cy="112.47" r="2.1"/><circle cx="626.91" cy="111.43" r="2.1"/><circle cx="627.57" cy="110.44" r="2.1"/><circle cx="628.21" cy="109.43" r="2.1"/><circle cx="628.83" cy="108.41" r="2.1"/><circle cx="629.44" cy="107.43" r="2.1"/><circle cx="630.03" cy="106.48" r="2.1"/><circle cx="630.60" cy="105.61" r="2.1"/><circle cx="631.17" cy="104.82" r="2.1"/><circle cx="631.71" cy="104.12" r="2.1"/><circle cx="632.25" cy="103.54" r="2.1"/><circle cx="632.77" cy="103.07" r="2.1"/><circle cx="633.28" cy="102.71" r="2.1"/><circle cx="633.78" cy="102.40" r="2.1"/><circle cx="634.27" cy="102.13" r="2.1"/><circle cx="634.75" cy="101.89" r="2.1"/><circle cx="635.22" cy="101.67" r="2.1"/><circle cx="635.68" cy="101.48" r="2.1"/><circle cx="636.13" cy="101.30" r="2.1"/><circle cx="636.58" cy="101.13" r="2.1"/><circle cx="637.01" cy="100.96" r="2.1"/><circle cx="637.44" cy="100.81" r="2.1"/><circle cx="637.86" cy="100.66" r="2.1"/><circle cx="638.27" cy="100.51" r="2.1"/><circle cx="638.67" cy="100.35" r="2.1"/><circle cx="639.07" cy="100.20" r="2.1"/><circle cx="639.46" cy="100.04" r="2.1"/><circle cx="639.84" cy="99.87" r="2.1"/><circle cx="640.22" cy="99.69" r="2.1"/><circle cx="640.59" cy="99.51" r="2.1"/><circle cx="640.96" cy="99.33" r="2.1"/><circle cx="641.32" cy="99.16" r="2.1"/><circle cx="641.67" cy="98.98" r="2.1"/><circle cx="642.02" cy="98.81" r="2.1"/><circle cx="642.36" cy="98.64" r="2.1"/><circle cx="642.70" cy="98.47" r="2.1"/><circle cx="643.03" cy="98.31" r="2.1"/><circle cx="643.36" cy="98.14" r="2.1"/><circle cx="643.69" cy="97.98" r="2.1"/><circle cx="644.01" cy="97.82" r="2.1"/><circle cx="644.32" cy="97.65" r="2.1"/><circle cx="644.63" cy="97.50" r="2.1"/><circle cx="644.94" cy="97.34" r="2.1"/><circle cx="645.24" cy="97.18" r="2.1"/><circle cx="645.54" cy="97.03" r="2.1"/><circle cx="645.84" cy="96.87" r="2.1"/><circle cx="646.13" cy="96.72" r="2.1"/><circle cx="646.42" cy="96.57" r="2.1"/><circle cx="646.70" cy="96.42" r="2.1"/><circle cx="646.98" cy="96.27" r="2.1"/><circle cx="647.26" cy="96.13" r="2.1"/><circle cx="647.53" cy="95.98" r="2.1"/><circle cx="647.80" cy="95.83" r="2.1"/><circle cx="648.07" cy="95.69" r="2.1"/><circle cx="648.34" cy="95.55" r="2.1"/><circle cx="648.60" cy="95.41" r="2.1"/><circle cx="648.86" cy="95.27" r="2.1"/><circle cx="649.11" cy="95.13" r="2.1"/><circle cx="649.36" cy="94.99" r="2.1"/><circle cx="649.61" cy="94.85" r="2.1"/><circle cx="649.86" cy="94.71" r="2.1"/><circle cx="650.11" cy="94.58" r="2.1"/><circle cx="650.35" cy="94.44" r="2.1"/><circle cx="650.59" cy="94.31" r="2.1"/><circle cx="650.83" cy="94.18" r="2.1"/><circle cx="651.06" cy="94.05" r="2.1"/><circle cx="651.29" cy="93.92" r="2.1"/><circle cx="651.52" cy="93.79" r="2.1"/><circle cx="651.75" cy="93.66" r="2.1"/><circle cx="651.98" cy="93.53" r="2.1"/><circle cx="652.20" cy="93.40" r="2.1"/><circle cx="652.42" cy="93.27" r="2.1"/><circle cx="652.64" cy="93.15" r="2.1"/><circle cx="652.86" cy="93.02" r="2.1"/><circle cx="653.07" cy="92.90" r="2.1"/><circle cx="653.29" cy="92.77" r="2.1"/><circle cx="653.50" cy="92.65" r="2.1"/><circle cx="653.71" cy="92.53" r="2.1"/><circle cx="653.91" cy="92.41" r="2.1"/><circle cx="654.12" cy="92.29" r="2.1"/><circle cx="654.32" cy="92.17" r="2.1"/><circle cx="654.53" cy="92.05" r="2.1"/><circle cx="654.73" cy="91.93" r="2.1"/><circle cx="654.92" cy="91.81" r="2.1"/><circle cx="655.12" cy="91.69" r="2.1"/><circle cx="655.32" cy="91.58" r="2.1"/><circle cx="655.51" cy="91.46" r="2.1"/><circle cx="655.70" cy="91.35" r="2.1"/><circle cx="655.89" cy="91.23" r="2.1"/><circle cx="656.08" cy="91.12" r="2.1"/><circle cx="656.27" cy="91.00" r="2.1"/><circle cx="656.45" cy="90.89" r="2.1"/></g>
<line x1="529.00" y1="143.40" x2="643.90" y2="122.10" stroke="#8c8c8c" stroke-width="0.6" />
<line x1="616.20" y1="133.00" x2="639.00" y2="94.00" stroke="#8c8c8c" stroke-width="0.6" />
<line x1="622.20" y1="110.10" x2="657.10" y2="89.60" stroke="#8c8c8c" stroke-width="0.6" />
<circle cx="529.4" cy="91.50" r="2.1" fill="none" stroke="#1dbdc3" stroke-width="1"/>
<text x="539.20" y="94.60" font-size="8.8" text-anchor="start" fill="#1a1a1a" >Sky-blue</text>
<text x="624.40" y="141.30" font-size="8.8" text-anchor="start" fill="#1dbdc3" >0.97 V</text>
<line x1="510.10" y1="152.90" x2="513.30" y2="152.90" stroke="#262626" stroke-width="0.9" />
<text x="507.30" y="157.30" font-size="8.95" text-anchor="end" fill="#1a1a1a" >10<tspan font-size="5.19" dy="-3.76">-6</tspan></text>
<line x1="511.30" y1="150.46" x2="513.30" y2="150.46" stroke="#262626" stroke-width="0.6" />
<line x1="511.30" y1="149.04" x2="513.30" y2="149.04" stroke="#262626" stroke-width="0.6" />
<line x1="511.30" y1="148.02" x2="513.30" y2="148.02" stroke="#262626" stroke-width="0.6" />
<line x1="511.30" y1="147.24" x2="513.30" y2="147.24" stroke="#262626" stroke-width="0.6" />
<line x1="511.30" y1="146.60" x2="513.30" y2="146.60" stroke="#262626" stroke-width="0.6" />
<line x1="511.30" y1="146.05" x2="513.30" y2="146.05" stroke="#262626" stroke-width="0.6" />
<line x1="511.30" y1="145.58" x2="513.30" y2="145.58" stroke="#262626" stroke-width="0.6" />
<line x1="511.30" y1="145.17" x2="513.30" y2="145.17" stroke="#262626" stroke-width="0.6" />
<line x1="510.10" y1="144.80" x2="513.30" y2="144.80" stroke="#262626" stroke-width="0.9" />
<line x1="511.30" y1="142.36" x2="513.30" y2="142.36" stroke="#262626" stroke-width="0.6" />
<line x1="511.30" y1="140.94" x2="513.30" y2="140.94" stroke="#262626" stroke-width="0.6" />
<line x1="511.30" y1="139.92" x2="513.30" y2="139.92" stroke="#262626" stroke-width="0.6" />
<line x1="511.30" y1="139.14" x2="513.30" y2="139.14" stroke="#262626" stroke-width="0.6" />
<line x1="511.30" y1="138.50" x2="513.30" y2="138.50" stroke="#262626" stroke-width="0.6" />
<line x1="511.30" y1="137.95" x2="513.30" y2="137.95" stroke="#262626" stroke-width="0.6" />
<line x1="511.30" y1="137.48" x2="513.30" y2="137.48" stroke="#262626" stroke-width="0.6" />
<line x1="511.30" y1="137.07" x2="513.30" y2="137.07" stroke="#262626" stroke-width="0.6" />
<line x1="510.10" y1="136.70" x2="513.30" y2="136.70" stroke="#262626" stroke-width="0.9" />
<line x1="511.30" y1="134.26" x2="513.30" y2="134.26" stroke="#262626" stroke-width="0.6" />
<line x1="511.30" y1="132.84" x2="513.30" y2="132.84" stroke="#262626" stroke-width="0.6" />
<line x1="511.30" y1="131.82" x2="513.30" y2="131.82" stroke="#262626" stroke-width="0.6" />
<line x1="511.30" y1="131.04" x2="513.30" y2="131.04" stroke="#262626" stroke-width="0.6" />
<line x1="511.30" y1="130.40" x2="513.30" y2="130.40" stroke="#262626" stroke-width="0.6" />
<line x1="511.30" y1="129.85" x2="513.30" y2="129.85" stroke="#262626" stroke-width="0.6" />
<line x1="511.30" y1="129.38" x2="513.30" y2="129.38" stroke="#262626" stroke-width="0.6" />
<line x1="511.30" y1="128.97" x2="513.30" y2="128.97" stroke="#262626" stroke-width="0.6" />
<line x1="510.10" y1="128.60" x2="513.30" y2="128.60" stroke="#262626" stroke-width="0.9" />
<text x="507.30" y="133.00" font-size="8.95" text-anchor="end" fill="#1a1a1a" >10<tspan font-size="5.19" dy="-3.76">-3</tspan></text>
<line x1="511.30" y1="126.16" x2="513.30" y2="126.16" stroke="#262626" stroke-width="0.6" />
<line x1="511.30" y1="124.74" x2="513.30" y2="124.74" stroke="#262626" stroke-width="0.6" />
<line x1="511.30" y1="123.72" x2="513.30" y2="123.72" stroke="#262626" stroke-width="0.6" />
<line x1="511.30" y1="122.94" x2="513.30" y2="122.94" stroke="#262626" stroke-width="0.6" />
<line x1="511.30" y1="122.30" x2="513.30" y2="122.30" stroke="#262626" stroke-width="0.6" />
<line x1="511.30" y1="121.75" x2="513.30" y2="121.75" stroke="#262626" stroke-width="0.6" />
<line x1="511.30" y1="121.28" x2="513.30" y2="121.28" stroke="#262626" stroke-width="0.6" />
<line x1="511.30" y1="120.87" x2="513.30" y2="120.87" stroke="#262626" stroke-width="0.6" />
<line x1="510.10" y1="120.50" x2="513.30" y2="120.50" stroke="#262626" stroke-width="0.9" />
<line x1="511.30" y1="118.06" x2="513.30" y2="118.06" stroke="#262626" stroke-width="0.6" />
<line x1="511.30" y1="116.64" x2="513.30" y2="116.64" stroke="#262626" stroke-width="0.6" />
<line x1="511.30" y1="115.62" x2="513.30" y2="115.62" stroke="#262626" stroke-width="0.6" />
<line x1="511.30" y1="114.84" x2="513.30" y2="114.84" stroke="#262626" stroke-width="0.6" />
<line x1="511.30" y1="114.20" x2="513.30" y2="114.20" stroke="#262626" stroke-width="0.6" />
<line x1="511.30" y1="113.65" x2="513.30" y2="113.65" stroke="#262626" stroke-width="0.6" />
<line x1="511.30" y1="113.18" x2="513.30" y2="113.18" stroke="#262626" stroke-width="0.6" />
<line x1="511.30" y1="112.77" x2="513.30" y2="112.77" stroke="#262626" stroke-width="0.6" />
<line x1="510.10" y1="112.40" x2="513.30" y2="112.40" stroke="#262626" stroke-width="0.9" />
<line x1="511.30" y1="109.96" x2="513.30" y2="109.96" stroke="#262626" stroke-width="0.6" />
<line x1="511.30" y1="108.54" x2="513.30" y2="108.54" stroke="#262626" stroke-width="0.6" />
<line x1="511.30" y1="107.52" x2="513.30" y2="107.52" stroke="#262626" stroke-width="0.6" />
<line x1="511.30" y1="106.74" x2="513.30" y2="106.74" stroke="#262626" stroke-width="0.6" />
<line x1="511.30" y1="106.10" x2="513.30" y2="106.10" stroke="#262626" stroke-width="0.6" />
<line x1="511.30" y1="105.55" x2="513.30" y2="105.55" stroke="#262626" stroke-width="0.6" />
<line x1="511.30" y1="105.08" x2="513.30" y2="105.08" stroke="#262626" stroke-width="0.6" />
<line x1="511.30" y1="104.67" x2="513.30" y2="104.67" stroke="#262626" stroke-width="0.6" />
<line x1="510.10" y1="104.30" x2="513.30" y2="104.30" stroke="#262626" stroke-width="0.9" />
<text x="507.30" y="108.70" font-size="8.95" text-anchor="end" fill="#1a1a1a" >10<tspan font-size="5.19" dy="-3.76">0</tspan></text>
<line x1="511.30" y1="101.86" x2="513.30" y2="101.86" stroke="#262626" stroke-width="0.6" />
<line x1="511.30" y1="100.44" x2="513.30" y2="100.44" stroke="#262626" stroke-width="0.6" />
<line x1="511.30" y1="99.42" x2="513.30" y2="99.42" stroke="#262626" stroke-width="0.6" />
<line x1="511.30" y1="98.64" x2="513.30" y2="98.64" stroke="#262626" stroke-width="0.6" />
<line x1="511.30" y1="98.00" x2="513.30" y2="98.00" stroke="#262626" stroke-width="0.6" />
<line x1="511.30" y1="97.45" x2="513.30" y2="97.45" stroke="#262626" stroke-width="0.6" />
<line x1="511.30" y1="96.98" x2="513.30" y2="96.98" stroke="#262626" stroke-width="0.6" />
<line x1="511.30" y1="96.57" x2="513.30" y2="96.57" stroke="#262626" stroke-width="0.6" />
<line x1="510.10" y1="96.20" x2="513.30" y2="96.20" stroke="#262626" stroke-width="0.9" />
<line x1="511.30" y1="93.76" x2="513.30" y2="93.76" stroke="#262626" stroke-width="0.6" />
<line x1="511.30" y1="92.34" x2="513.30" y2="92.34" stroke="#262626" stroke-width="0.6" />
<line x1="511.30" y1="91.32" x2="513.30" y2="91.32" stroke="#262626" stroke-width="0.6" />
<line x1="511.30" y1="90.54" x2="513.30" y2="90.54" stroke="#262626" stroke-width="0.6" />
<line x1="511.30" y1="89.90" x2="513.30" y2="89.90" stroke="#262626" stroke-width="0.6" />
<line x1="511.30" y1="89.35" x2="513.30" y2="89.35" stroke="#262626" stroke-width="0.6" />
<line x1="511.30" y1="88.88" x2="513.30" y2="88.88" stroke="#262626" stroke-width="0.6" />
<line x1="511.30" y1="88.47" x2="513.30" y2="88.47" stroke="#262626" stroke-width="0.6" />
<line x1="510.10" y1="88.10" x2="513.30" y2="88.10" stroke="#262626" stroke-width="0.9" />
<line x1="511.30" y1="85.66" x2="513.30" y2="85.66" stroke="#262626" stroke-width="0.6" />
<line x1="511.30" y1="84.24" x2="513.30" y2="84.24" stroke="#262626" stroke-width="0.6" />
<line x1="511.30" y1="83.22" x2="513.30" y2="83.22" stroke="#262626" stroke-width="0.6" />
<line x1="511.30" y1="82.44" x2="513.30" y2="82.44" stroke="#262626" stroke-width="0.6" />
<line x1="511.30" y1="81.80" x2="513.30" y2="81.80" stroke="#262626" stroke-width="0.6" />
<line x1="511.30" y1="81.25" x2="513.30" y2="81.25" stroke="#262626" stroke-width="0.6" />
<line x1="511.30" y1="80.78" x2="513.30" y2="80.78" stroke="#262626" stroke-width="0.6" />
<line x1="511.30" y1="80.37" x2="513.30" y2="80.37" stroke="#262626" stroke-width="0.6" />
<line x1="510.10" y1="80.00" x2="513.30" y2="80.00" stroke="#262626" stroke-width="0.9" />
<g fill="#fff" stroke="#5cc3f3" stroke-width="1.1"><circle cx="529.45" cy="216.73" r="2.1"/><circle cx="566.50" cy="211.44" r="2.1"/><circle cx="580.03" cy="209.51" r="2.1"/><circle cx="588.49" cy="207.90" r="2.1"/><circle cx="594.67" cy="206.45" r="2.1"/><circle cx="599.53" cy="205.08" r="2.1"/><circle cx="603.55" cy="203.71" r="2.1"/><circle cx="606.96" cy="202.35" r="2.1"/><circle cx="609.94" cy="201.09" r="2.1"/><circle cx="612.57" cy="199.97" r="2.1"/><circle cx="614.93" cy="199.03" r="2.1"/><circle cx="617.07" cy="198.05" r="2.1"/><circle cx="619.03" cy="196.93" r="2.1"/><circle cx="620.84" cy="195.46" r="2.1"/><circle cx="622.52" cy="193.36" r="2.1"/><circle cx="624.08" cy="191.08" r="2.1"/><circle cx="625.54" cy="188.84" r="2.1"/><circle cx="626.91" cy="186.49" r="2.1"/><circle cx="628.21" cy="184.13" r="2.1"/><circle cx="629.44" cy="181.83" r="2.1"/><circle cx="630.60" cy="179.31" r="2.1"/><circle cx="631.71" cy="176.81" r="2.1"/><circle cx="632.77" cy="174.97" r="2.1"/><circle cx="633.78" cy="173.92" r="2.1"/><circle cx="634.75" cy="173.08" r="2.1"/><circle cx="635.68" cy="172.39" r="2.1"/><circle cx="636.58" cy="171.81" r="2.1"/><circle cx="637.44" cy="171.31" r="2.1"/><circle cx="638.27" cy="170.86" r="2.1"/><circle cx="639.07" cy="170.46" r="2.1"/><circle cx="639.84" cy="170.08" r="2.1"/><circle cx="640.59" cy="169.71" r="2.1"/><circle cx="641.32" cy="169.35" r="2.1"/><circle cx="642.02" cy="169.01" r="2.1"/><circle cx="642.70" cy="168.68" r="2.1"/><circle cx="643.36" cy="168.37" r="2.1"/><circle cx="644.01" cy="168.07" r="2.1"/><circle cx="644.63" cy="167.78" r="2.1"/><circle cx="645.24" cy="167.50" r="2.1"/><circle cx="645.84" cy="167.24" r="2.1"/><circle cx="646.42" cy="166.99" r="2.1"/><circle cx="646.98" cy="166.75" r="2.1"/><circle cx="647.53" cy="166.52" r="2.1"/><circle cx="648.07" cy="166.31" r="2.1"/><circle cx="648.60" cy="166.10" r="2.1"/><circle cx="649.11" cy="165.90" r="2.1"/><circle cx="649.61" cy="165.72" r="2.1"/><circle cx="650.11" cy="165.54" r="2.1"/><circle cx="650.59" cy="165.37" r="2.1"/><circle cx="651.06" cy="165.21" r="2.1"/><circle cx="651.52" cy="165.06" r="2.1"/><circle cx="651.98" cy="164.92" r="2.1"/><circle cx="652.42" cy="164.78" r="2.1"/><circle cx="652.86" cy="164.65" r="2.1"/><circle cx="653.29" cy="164.53" r="2.1"/><circle cx="653.71" cy="164.42" r="2.1"/><circle cx="654.12" cy="164.32" r="2.1"/><circle cx="654.53" cy="164.22" r="2.1"/><circle cx="654.92" cy="164.13" r="2.1"/><circle cx="655.32" cy="164.04" r="2.1"/><circle cx="655.70" cy="163.96" r="2.1"/><circle cx="656.08" cy="163.89" r="2.1"/><circle cx="656.45" cy="163.82" r="2.1"/></g>
<line x1="529.00" y1="217.10" x2="647.50" y2="197.60" stroke="#8c8c8c" stroke-width="0.6" />
<line x1="618.60" y1="208.90" x2="638.30" y2="165.50" stroke="#8c8c8c" stroke-width="0.6" />
<line x1="628.20" y1="177.10" x2="660.70" y2="162.20" stroke="#8c8c8c" stroke-width="0.6" />
<circle cx="529.4" cy="165.00" r="2.1" fill="none" stroke="#5cc3f3" stroke-width="1"/>
<text x="539.20" y="168.10" font-size="8.8" text-anchor="start" fill="#1a1a1a" >Pure-blue</text>
<text x="624.40" y="214.80" font-size="8.8" text-anchor="start" fill="#5cc3f3" >1.07 V</text>
<line x1="510.10" y1="226.40" x2="513.30" y2="226.40" stroke="#262626" stroke-width="0.9" />
<text x="507.30" y="230.80" font-size="8.95" text-anchor="end" fill="#1a1a1a" >10<tspan font-size="5.19" dy="-3.76">-6</tspan></text>
<line x1="511.30" y1="223.97" x2="513.30" y2="223.97" stroke="#262626" stroke-width="0.6" />
<line x1="511.30" y1="222.54" x2="513.30" y2="222.54" stroke="#262626" stroke-width="0.6" />
<line x1="511.30" y1="221.54" x2="513.30" y2="221.54" stroke="#262626" stroke-width="0.6" />
<line x1="511.30" y1="220.75" x2="513.30" y2="220.75" stroke="#262626" stroke-width="0.6" />
<line x1="511.30" y1="220.11" x2="513.30" y2="220.11" stroke="#262626" stroke-width="0.6" />
<line x1="511.30" y1="219.57" x2="513.30" y2="219.57" stroke="#262626" stroke-width="0.6" />
<line x1="511.30" y1="219.10" x2="513.30" y2="219.10" stroke="#262626" stroke-width="0.6" />
<line x1="511.30" y1="218.69" x2="513.30" y2="218.69" stroke="#262626" stroke-width="0.6" />
<line x1="510.10" y1="218.32" x2="513.30" y2="218.32" stroke="#262626" stroke-width="0.9" />
<line x1="511.30" y1="215.89" x2="513.30" y2="215.89" stroke="#262626" stroke-width="0.6" />
<line x1="511.30" y1="214.46" x2="513.30" y2="214.46" stroke="#262626" stroke-width="0.6" />
<line x1="511.30" y1="213.46" x2="513.30" y2="213.46" stroke="#262626" stroke-width="0.6" />
<line x1="511.30" y1="212.67" x2="513.30" y2="212.67" stroke="#262626" stroke-width="0.6" />
<line x1="511.30" y1="212.03" x2="513.30" y2="212.03" stroke="#262626" stroke-width="0.6" />
<line x1="511.30" y1="211.49" x2="513.30" y2="211.49" stroke="#262626" stroke-width="0.6" />
<line x1="511.30" y1="211.02" x2="513.30" y2="211.02" stroke="#262626" stroke-width="0.6" />
<line x1="511.30" y1="210.61" x2="513.30" y2="210.61" stroke="#262626" stroke-width="0.6" />
<line x1="510.10" y1="210.24" x2="513.30" y2="210.24" stroke="#262626" stroke-width="0.9" />
<line x1="511.30" y1="207.81" x2="513.30" y2="207.81" stroke="#262626" stroke-width="0.6" />
<line x1="511.30" y1="206.38" x2="513.30" y2="206.38" stroke="#262626" stroke-width="0.6" />
<line x1="511.30" y1="205.38" x2="513.30" y2="205.38" stroke="#262626" stroke-width="0.6" />
<line x1="511.30" y1="204.59" x2="513.30" y2="204.59" stroke="#262626" stroke-width="0.6" />
<line x1="511.30" y1="203.95" x2="513.30" y2="203.95" stroke="#262626" stroke-width="0.6" />
<line x1="511.30" y1="203.41" x2="513.30" y2="203.41" stroke="#262626" stroke-width="0.6" />
<line x1="511.30" y1="202.94" x2="513.30" y2="202.94" stroke="#262626" stroke-width="0.6" />
<line x1="511.30" y1="202.53" x2="513.30" y2="202.53" stroke="#262626" stroke-width="0.6" />
<line x1="510.10" y1="202.16" x2="513.30" y2="202.16" stroke="#262626" stroke-width="0.9" />
<text x="507.30" y="206.56" font-size="8.95" text-anchor="end" fill="#1a1a1a" >10<tspan font-size="5.19" dy="-3.76">-3</tspan></text>
<line x1="511.30" y1="199.73" x2="513.30" y2="199.73" stroke="#262626" stroke-width="0.6" />
<line x1="511.30" y1="198.30" x2="513.30" y2="198.30" stroke="#262626" stroke-width="0.6" />
<line x1="511.30" y1="197.30" x2="513.30" y2="197.30" stroke="#262626" stroke-width="0.6" />
<line x1="511.30" y1="196.51" x2="513.30" y2="196.51" stroke="#262626" stroke-width="0.6" />
<line x1="511.30" y1="195.87" x2="513.30" y2="195.87" stroke="#262626" stroke-width="0.6" />
<line x1="511.30" y1="195.33" x2="513.30" y2="195.33" stroke="#262626" stroke-width="0.6" />
<line x1="511.30" y1="194.86" x2="513.30" y2="194.86" stroke="#262626" stroke-width="0.6" />
<line x1="511.30" y1="194.45" x2="513.30" y2="194.45" stroke="#262626" stroke-width="0.6" />
<line x1="510.10" y1="194.08" x2="513.30" y2="194.08" stroke="#262626" stroke-width="0.9" />
<line x1="511.30" y1="191.65" x2="513.30" y2="191.65" stroke="#262626" stroke-width="0.6" />
<line x1="511.30" y1="190.22" x2="513.30" y2="190.22" stroke="#262626" stroke-width="0.6" />
<line x1="511.30" y1="189.22" x2="513.30" y2="189.22" stroke="#262626" stroke-width="0.6" />
<line x1="511.30" y1="188.43" x2="513.30" y2="188.43" stroke="#262626" stroke-width="0.6" />
<line x1="511.30" y1="187.79" x2="513.30" y2="187.79" stroke="#262626" stroke-width="0.6" />
<line x1="511.30" y1="187.25" x2="513.30" y2="187.25" stroke="#262626" stroke-width="0.6" />
<line x1="511.30" y1="186.78" x2="513.30" y2="186.78" stroke="#262626" stroke-width="0.6" />
<line x1="511.30" y1="186.37" x2="513.30" y2="186.37" stroke="#262626" stroke-width="0.6" />
<line x1="510.10" y1="186.00" x2="513.30" y2="186.00" stroke="#262626" stroke-width="0.9" />
<line x1="511.30" y1="183.57" x2="513.30" y2="183.57" stroke="#262626" stroke-width="0.6" />
<line x1="511.30" y1="182.14" x2="513.30" y2="182.14" stroke="#262626" stroke-width="0.6" />
<line x1="511.30" y1="181.14" x2="513.30" y2="181.14" stroke="#262626" stroke-width="0.6" />
<line x1="511.30" y1="180.35" x2="513.30" y2="180.35" stroke="#262626" stroke-width="0.6" />
<line x1="511.30" y1="179.71" x2="513.30" y2="179.71" stroke="#262626" stroke-width="0.6" />
<line x1="511.30" y1="179.17" x2="513.30" y2="179.17" stroke="#262626" stroke-width="0.6" />
<line x1="511.30" y1="178.70" x2="513.30" y2="178.70" stroke="#262626" stroke-width="0.6" />
<line x1="511.30" y1="178.29" x2="513.30" y2="178.29" stroke="#262626" stroke-width="0.6" />
<line x1="510.10" y1="177.92" x2="513.30" y2="177.92" stroke="#262626" stroke-width="0.9" />
<text x="507.30" y="182.32" font-size="8.95" text-anchor="end" fill="#1a1a1a" >10<tspan font-size="5.19" dy="-3.76">0</tspan></text>
<line x1="511.30" y1="175.49" x2="513.30" y2="175.49" stroke="#262626" stroke-width="0.6" />
<line x1="511.30" y1="174.06" x2="513.30" y2="174.06" stroke="#262626" stroke-width="0.6" />
<line x1="511.30" y1="173.06" x2="513.30" y2="173.06" stroke="#262626" stroke-width="0.6" />
<line x1="511.30" y1="172.27" x2="513.30" y2="172.27" stroke="#262626" stroke-width="0.6" />
<line x1="511.30" y1="171.63" x2="513.30" y2="171.63" stroke="#262626" stroke-width="0.6" />
<line x1="511.30" y1="171.09" x2="513.30" y2="171.09" stroke="#262626" stroke-width="0.6" />
<line x1="511.30" y1="170.62" x2="513.30" y2="170.62" stroke="#262626" stroke-width="0.6" />
<line x1="511.30" y1="170.21" x2="513.30" y2="170.21" stroke="#262626" stroke-width="0.6" />
<line x1="510.10" y1="169.84" x2="513.30" y2="169.84" stroke="#262626" stroke-width="0.9" />
<line x1="511.30" y1="167.41" x2="513.30" y2="167.41" stroke="#262626" stroke-width="0.6" />
<line x1="511.30" y1="165.98" x2="513.30" y2="165.98" stroke="#262626" stroke-width="0.6" />
<line x1="511.30" y1="164.98" x2="513.30" y2="164.98" stroke="#262626" stroke-width="0.6" />
<line x1="511.30" y1="164.19" x2="513.30" y2="164.19" stroke="#262626" stroke-width="0.6" />
<line x1="511.30" y1="163.55" x2="513.30" y2="163.55" stroke="#262626" stroke-width="0.6" />
<line x1="511.30" y1="163.01" x2="513.30" y2="163.01" stroke="#262626" stroke-width="0.6" />
<line x1="511.30" y1="162.54" x2="513.30" y2="162.54" stroke="#262626" stroke-width="0.6" />
<line x1="511.30" y1="162.13" x2="513.30" y2="162.13" stroke="#262626" stroke-width="0.6" />
<line x1="510.10" y1="161.76" x2="513.30" y2="161.76" stroke="#262626" stroke-width="0.9" />
<line x1="511.30" y1="159.33" x2="513.30" y2="159.33" stroke="#262626" stroke-width="0.6" />
<line x1="511.30" y1="157.90" x2="513.30" y2="157.90" stroke="#262626" stroke-width="0.6" />
<line x1="511.30" y1="156.90" x2="513.30" y2="156.90" stroke="#262626" stroke-width="0.6" />
<line x1="511.30" y1="156.11" x2="513.30" y2="156.11" stroke="#262626" stroke-width="0.6" />
<line x1="511.30" y1="155.47" x2="513.30" y2="155.47" stroke="#262626" stroke-width="0.6" />
<line x1="511.30" y1="154.93" x2="513.30" y2="154.93" stroke="#262626" stroke-width="0.6" />
<line x1="511.30" y1="154.46" x2="513.30" y2="154.46" stroke="#262626" stroke-width="0.6" />
<line x1="511.30" y1="154.05" x2="513.30" y2="154.05" stroke="#262626" stroke-width="0.6" />
<line x1="510.10" y1="153.68" x2="513.30" y2="153.68" stroke="#262626" stroke-width="0.9" />
<g fill="#fff" stroke="#5a5bef" stroke-width="1.1"><circle cx="529.45" cy="291.77" r="2.1"/><circle cx="554.74" cy="286.94" r="2.1"/><circle cx="566.50" cy="285.24" r="2.1"/><circle cx="574.24" cy="284.08" r="2.1"/><circle cx="580.03" cy="283.30" r="2.1"/><circle cx="584.65" cy="282.51" r="2.1"/><circle cx="588.49" cy="281.78" r="2.1"/><circle cx="591.79" cy="281.09" r="2.1"/><circle cx="594.67" cy="280.44" r="2.1"/><circle cx="597.23" cy="279.82" r="2.1"/><circle cx="599.53" cy="279.24" r="2.1"/><circle cx="601.63" cy="278.68" r="2.1"/><circle cx="603.55" cy="278.15" r="2.1"/><circle cx="605.32" cy="277.65" r="2.1"/><circle cx="606.96" cy="277.18" r="2.1"/><circle cx="608.50" cy="276.71" r="2.1"/><circle cx="609.94" cy="276.24" r="2.1"/><circle cx="611.29" cy="275.77" r="2.1"/><circle cx="612.57" cy="275.30" r="2.1"/><circle cx="613.78" cy="274.81" r="2.1"/><circle cx="614.93" cy="274.31" r="2.1"/><circle cx="616.03" cy="273.80" r="2.1"/><circle cx="617.07" cy="273.29" r="2.1"/><circle cx="618.08" cy="272.76" r="2.1"/><circle cx="619.03" cy="272.21" r="2.1"/><circle cx="619.96" cy="271.64" r="2.1"/><circle cx="620.84" cy="270.94" r="2.1"/><circle cx="621.69" cy="270.14" r="2.1"/><circle cx="622.52" cy="269.27" r="2.1"/><circle cx="623.31" cy="268.35" r="2.1"/><circle cx="624.08" cy="267.40" r="2.1"/><circle cx="624.82" cy="266.33" r="2.1"/><circle cx="625.54" cy="265.12" r="2.1"/><circle cx="626.24" cy="263.84" r="2.1"/><circle cx="626.91" cy="262.54" r="2.1"/><circle cx="627.57" cy="261.28" r="2.1"/><circle cx="628.21" cy="260.08" r="2.1"/><circle cx="628.83" cy="258.88" r="2.1"/><circle cx="629.44" cy="257.61" r="2.1"/><circle cx="630.03" cy="256.33" r="2.1"/><circle cx="630.60" cy="255.09" r="2.1"/><circle cx="631.17" cy="253.91" r="2.1"/><circle cx="631.71" cy="252.83" r="2.1"/><circle cx="632.25" cy="251.87" r="2.1"/><circle cx="632.77" cy="251.06" r="2.1"/><circle cx="633.28" cy="250.42" r="2.1"/><circle cx="633.78" cy="249.89" r="2.1"/><circle cx="634.27" cy="249.40" r="2.1"/><circle cx="634.75" cy="248.96" r="2.1"/><circle cx="635.22" cy="248.54" r="2.1"/><circle cx="635.68" cy="248.16" r="2.1"/><circle cx="636.13" cy="247.80" r="2.1"/><circle cx="636.58" cy="247.47" r="2.1"/><circle cx="637.01" cy="247.16" r="2.1"/><circle cx="637.44" cy="246.87" r="2.1"/><circle cx="637.86" cy="246.59" r="2.1"/><circle cx="638.27" cy="246.33" r="2.1"/><circle cx="638.67" cy="246.08" r="2.1"/><circle cx="639.07" cy="245.85" r="2.1"/><circle cx="639.46" cy="245.62" r="2.1"/><circle cx="639.84" cy="245.40" r="2.1"/><circle cx="640.22" cy="245.19" r="2.1"/><circle cx="640.59" cy="244.99" r="2.1"/><circle cx="640.96" cy="244.79" r="2.1"/><circle cx="641.32" cy="244.59" r="2.1"/><circle cx="641.67" cy="244.40" r="2.1"/><circle cx="642.02" cy="244.21" r="2.1"/><circle cx="642.36" cy="244.02" r="2.1"/><circle cx="642.70" cy="243.84" r="2.1"/><circle cx="643.03" cy="243.67" r="2.1"/><circle cx="643.36" cy="243.49" r="2.1"/><circle cx="643.69" cy="243.32" r="2.1"/><circle cx="644.01" cy="243.15" r="2.1"/><circle cx="644.32" cy="242.99" r="2.1"/><circle cx="644.63" cy="242.83" r="2.1"/><circle cx="644.94" cy="242.67" r="2.1"/><circle cx="645.24" cy="242.52" r="2.1"/><circle cx="645.54" cy="242.37" r="2.1"/><circle cx="645.84" cy="242.23" r="2.1"/><circle cx="646.13" cy="242.08" r="2.1"/><circle cx="646.42" cy="241.94" r="2.1"/><circle cx="646.70" cy="241.80" r="2.1"/><circle cx="646.98" cy="241.67" r="2.1"/><circle cx="647.26" cy="241.54" r="2.1"/><circle cx="647.53" cy="241.41" r="2.1"/><circle cx="647.80" cy="241.29" r="2.1"/><circle cx="648.07" cy="241.16" r="2.1"/><circle cx="648.34" cy="241.04" r="2.1"/><circle cx="648.60" cy="240.93" r="2.1"/><circle cx="648.86" cy="240.81" r="2.1"/><circle cx="649.11" cy="240.70" r="2.1"/><circle cx="649.36" cy="240.59" r="2.1"/><circle cx="649.61" cy="240.49" r="2.1"/><circle cx="649.86" cy="240.38" r="2.1"/><circle cx="650.11" cy="240.28" r="2.1"/><circle cx="650.35" cy="240.18" r="2.1"/><circle cx="650.59" cy="240.09" r="2.1"/><circle cx="650.83" cy="239.99" r="2.1"/><circle cx="651.06" cy="239.90" r="2.1"/><circle cx="651.29" cy="239.81" r="2.1"/><circle cx="651.52" cy="239.72" r="2.1"/><circle cx="651.75" cy="239.64" r="2.1"/><circle cx="651.98" cy="239.56" r="2.1"/><circle cx="652.20" cy="239.48" r="2.1"/><circle cx="652.42" cy="239.40" r="2.1"/><circle cx="652.64" cy="239.32" r="2.1"/><circle cx="652.86" cy="239.25" r="2.1"/><circle cx="653.07" cy="239.17" r="2.1"/><circle cx="653.29" cy="239.10" r="2.1"/><circle cx="653.50" cy="239.04" r="2.1"/><circle cx="653.71" cy="238.97" r="2.1"/><circle cx="653.91" cy="238.91" r="2.1"/><circle cx="654.12" cy="238.84" r="2.1"/><circle cx="654.32" cy="238.78" r="2.1"/><circle cx="654.53" cy="238.72" r="2.1"/><circle cx="654.73" cy="238.67" r="2.1"/><circle cx="654.92" cy="238.61" r="2.1"/><circle cx="655.12" cy="238.56" r="2.1"/><circle cx="655.32" cy="238.51" r="2.1"/><circle cx="655.51" cy="238.46" r="2.1"/><circle cx="655.70" cy="238.41" r="2.1"/><circle cx="655.89" cy="238.36" r="2.1"/><circle cx="656.08" cy="238.32" r="2.1"/><circle cx="656.27" cy="238.27" r="2.1"/><circle cx="656.45" cy="238.23" r="2.1"/></g>
<line x1="529.30" y1="292.10" x2="649.30" y2="268.10" stroke="#8c8c8c" stroke-width="0.6" />
<line x1="619.10" y1="282.30" x2="638.70" y2="235.00" stroke="#8c8c8c" stroke-width="0.6" />
<line x1="623.50" y1="254.30" x2="659.60" y2="234.60" stroke="#8c8c8c" stroke-width="0.6" />
<circle cx="529.4" cy="238.40" r="2.1" fill="none" stroke="#5a5bef" stroke-width="1"/>
<text x="539.20" y="241.50" font-size="8.8" text-anchor="start" fill="#1a1a1a" >Deep-blue</text>
<text x="624.40" y="288.20" font-size="8.8" text-anchor="start" fill="#5a5bef" >1.14 V</text>
<line x1="510.10" y1="299.60" x2="513.30" y2="299.60" stroke="#262626" stroke-width="0.9" />
<text x="507.30" y="304.00" font-size="8.95" text-anchor="end" fill="#1a1a1a" >10<tspan font-size="5.19" dy="-3.76">-6</tspan></text>
<line x1="511.30" y1="297.17" x2="513.30" y2="297.17" stroke="#262626" stroke-width="0.6" />
<line x1="511.30" y1="295.74" x2="513.30" y2="295.74" stroke="#262626" stroke-width="0.6" />
<line x1="511.30" y1="294.74" x2="513.30" y2="294.74" stroke="#262626" stroke-width="0.6" />
<line x1="511.30" y1="293.95" x2="513.30" y2="293.95" stroke="#262626" stroke-width="0.6" />
<line x1="511.30" y1="293.31" x2="513.30" y2="293.31" stroke="#262626" stroke-width="0.6" />
<line x1="511.30" y1="292.77" x2="513.30" y2="292.77" stroke="#262626" stroke-width="0.6" />
<line x1="511.30" y1="292.30" x2="513.30" y2="292.30" stroke="#262626" stroke-width="0.6" />
<line x1="511.30" y1="291.89" x2="513.30" y2="291.89" stroke="#262626" stroke-width="0.6" />
<line x1="510.10" y1="291.52" x2="513.30" y2="291.52" stroke="#262626" stroke-width="0.9" />
<line x1="511.30" y1="289.09" x2="513.30" y2="289.09" stroke="#262626" stroke-width="0.6" />
<line x1="511.30" y1="287.66" x2="513.30" y2="287.66" stroke="#262626" stroke-width="0.6" />
<line x1="511.30" y1="286.66" x2="513.30" y2="286.66" stroke="#262626" stroke-width="0.6" />
<line x1="511.30" y1="285.87" x2="513.30" y2="285.87" stroke="#262626" stroke-width="0.6" />
<line x1="511.30" y1="285.23" x2="513.30" y2="285.23" stroke="#262626" stroke-width="0.6" />
<line x1="511.30" y1="284.69" x2="513.30" y2="284.69" stroke="#262626" stroke-width="0.6" />
<line x1="511.30" y1="284.22" x2="513.30" y2="284.22" stroke="#262626" stroke-width="0.6" />
<line x1="511.30" y1="283.81" x2="513.30" y2="283.81" stroke="#262626" stroke-width="0.6" />
<line x1="510.10" y1="283.44" x2="513.30" y2="283.44" stroke="#262626" stroke-width="0.9" />
<line x1="511.30" y1="281.01" x2="513.30" y2="281.01" stroke="#262626" stroke-width="0.6" />
<line x1="511.30" y1="279.58" x2="513.30" y2="279.58" stroke="#262626" stroke-width="0.6" />
<line x1="511.30" y1="278.58" x2="513.30" y2="278.58" stroke="#262626" stroke-width="0.6" />
<line x1="511.30" y1="277.79" x2="513.30" y2="277.79" stroke="#262626" stroke-width="0.6" />
<line x1="511.30" y1="277.15" x2="513.30" y2="277.15" stroke="#262626" stroke-width="0.6" />
<line x1="511.30" y1="276.61" x2="513.30" y2="276.61" stroke="#262626" stroke-width="0.6" />
<line x1="511.30" y1="276.14" x2="513.30" y2="276.14" stroke="#262626" stroke-width="0.6" />
<line x1="511.30" y1="275.73" x2="513.30" y2="275.73" stroke="#262626" stroke-width="0.6" />
<line x1="510.10" y1="275.36" x2="513.30" y2="275.36" stroke="#262626" stroke-width="0.9" />
<text x="507.30" y="279.76" font-size="8.95" text-anchor="end" fill="#1a1a1a" >10<tspan font-size="5.19" dy="-3.76">-3</tspan></text>
<line x1="511.30" y1="272.93" x2="513.30" y2="272.93" stroke="#262626" stroke-width="0.6" />
<line x1="511.30" y1="271.50" x2="513.30" y2="271.50" stroke="#262626" stroke-width="0.6" />
<line x1="511.30" y1="270.50" x2="513.30" y2="270.50" stroke="#262626" stroke-width="0.6" />
<line x1="511.30" y1="269.71" x2="513.30" y2="269.71" stroke="#262626" stroke-width="0.6" />
<line x1="511.30" y1="269.07" x2="513.30" y2="269.07" stroke="#262626" stroke-width="0.6" />
<line x1="511.30" y1="268.53" x2="513.30" y2="268.53" stroke="#262626" stroke-width="0.6" />
<line x1="511.30" y1="268.06" x2="513.30" y2="268.06" stroke="#262626" stroke-width="0.6" />
<line x1="511.30" y1="267.65" x2="513.30" y2="267.65" stroke="#262626" stroke-width="0.6" />
<line x1="510.10" y1="267.28" x2="513.30" y2="267.28" stroke="#262626" stroke-width="0.9" />
<line x1="511.30" y1="264.85" x2="513.30" y2="264.85" stroke="#262626" stroke-width="0.6" />
<line x1="511.30" y1="263.42" x2="513.30" y2="263.42" stroke="#262626" stroke-width="0.6" />
<line x1="511.30" y1="262.42" x2="513.30" y2="262.42" stroke="#262626" stroke-width="0.6" />
<line x1="511.30" y1="261.63" x2="513.30" y2="261.63" stroke="#262626" stroke-width="0.6" />
<line x1="511.30" y1="260.99" x2="513.30" y2="260.99" stroke="#262626" stroke-width="0.6" />
<line x1="511.30" y1="260.45" x2="513.30" y2="260.45" stroke="#262626" stroke-width="0.6" />
<line x1="511.30" y1="259.98" x2="513.30" y2="259.98" stroke="#262626" stroke-width="0.6" />
<line x1="511.30" y1="259.57" x2="513.30" y2="259.57" stroke="#262626" stroke-width="0.6" />
<line x1="510.10" y1="259.20" x2="513.30" y2="259.20" stroke="#262626" stroke-width="0.9" />
<line x1="511.30" y1="256.77" x2="513.30" y2="256.77" stroke="#262626" stroke-width="0.6" />
<line x1="511.30" y1="255.34" x2="513.30" y2="255.34" stroke="#262626" stroke-width="0.6" />
<line x1="511.30" y1="254.34" x2="513.30" y2="254.34" stroke="#262626" stroke-width="0.6" />
<line x1="511.30" y1="253.55" x2="513.30" y2="253.55" stroke="#262626" stroke-width="0.6" />
<line x1="511.30" y1="252.91" x2="513.30" y2="252.91" stroke="#262626" stroke-width="0.6" />
<line x1="511.30" y1="252.37" x2="513.30" y2="252.37" stroke="#262626" stroke-width="0.6" />
<line x1="511.30" y1="251.90" x2="513.30" y2="251.90" stroke="#262626" stroke-width="0.6" />
<line x1="511.30" y1="251.49" x2="513.30" y2="251.49" stroke="#262626" stroke-width="0.6" />
<line x1="510.10" y1="251.12" x2="513.30" y2="251.12" stroke="#262626" stroke-width="0.9" />
<text x="507.30" y="255.52" font-size="8.95" text-anchor="end" fill="#1a1a1a" >10<tspan font-size="5.19" dy="-3.76">0</tspan></text>
<line x1="511.30" y1="248.69" x2="513.30" y2="248.69" stroke="#262626" stroke-width="0.6" />
<line x1="511.30" y1="247.26" x2="513.30" y2="247.26" stroke="#262626" stroke-width="0.6" />
<line x1="511.30" y1="246.26" x2="513.30" y2="246.26" stroke="#262626" stroke-width="0.6" />
<line x1="511.30" y1="245.47" x2="513.30" y2="245.47" stroke="#262626" stroke-width="0.6" />
<line x1="511.30" y1="244.83" x2="513.30" y2="244.83" stroke="#262626" stroke-width="0.6" />
<line x1="511.30" y1="244.29" x2="513.30" y2="244.29" stroke="#262626" stroke-width="0.6" />
<line x1="511.30" y1="243.82" x2="513.30" y2="243.82" stroke="#262626" stroke-width="0.6" />
<line x1="511.30" y1="243.41" x2="513.30" y2="243.41" stroke="#262626" stroke-width="0.6" />
<line x1="510.10" y1="243.04" x2="513.30" y2="243.04" stroke="#262626" stroke-width="0.9" />
<line x1="511.30" y1="240.61" x2="513.30" y2="240.61" stroke="#262626" stroke-width="0.6" />
<line x1="511.30" y1="239.18" x2="513.30" y2="239.18" stroke="#262626" stroke-width="0.6" />
<line x1="511.30" y1="238.18" x2="513.30" y2="238.18" stroke="#262626" stroke-width="0.6" />
<line x1="511.30" y1="237.39" x2="513.30" y2="237.39" stroke="#262626" stroke-width="0.6" />
<line x1="511.30" y1="236.75" x2="513.30" y2="236.75" stroke="#262626" stroke-width="0.6" />
<line x1="511.30" y1="236.21" x2="513.30" y2="236.21" stroke="#262626" stroke-width="0.6" />
<line x1="511.30" y1="235.74" x2="513.30" y2="235.74" stroke="#262626" stroke-width="0.6" />
<line x1="511.30" y1="235.33" x2="513.30" y2="235.33" stroke="#262626" stroke-width="0.6" />
<line x1="510.10" y1="234.96" x2="513.30" y2="234.96" stroke="#262626" stroke-width="0.9" />
<line x1="511.30" y1="232.53" x2="513.30" y2="232.53" stroke="#262626" stroke-width="0.6" />
<line x1="511.30" y1="231.10" x2="513.30" y2="231.10" stroke="#262626" stroke-width="0.6" />
<line x1="511.30" y1="230.10" x2="513.30" y2="230.10" stroke="#262626" stroke-width="0.6" />
<line x1="511.30" y1="229.31" x2="513.30" y2="229.31" stroke="#262626" stroke-width="0.6" />
<line x1="511.30" y1="228.67" x2="513.30" y2="228.67" stroke="#262626" stroke-width="0.6" />
<line x1="511.30" y1="228.13" x2="513.30" y2="228.13" stroke="#262626" stroke-width="0.6" />
<line x1="511.30" y1="227.66" x2="513.30" y2="227.66" stroke="#262626" stroke-width="0.6" />
<line x1="511.30" y1="227.25" x2="513.30" y2="227.25" stroke="#262626" stroke-width="0.6" />
<line x1="510.10" y1="226.88" x2="513.30" y2="226.88" stroke="#262626" stroke-width="0.9" />
<rect x="513.30" y="6.60" width="159.40" height="293.70" fill="none" stroke="#262626" stroke-width="1.1"/>
<line x1="513.30" y1="80.30" x2="672.70" y2="80.30" stroke="#262626" stroke-width="1.1" />
<line x1="513.30" y1="153.30" x2="672.70" y2="153.30" stroke="#262626" stroke-width="1.1" />
<line x1="513.30" y1="227.00" x2="672.70" y2="227.00" stroke="#262626" stroke-width="1.1" />
<line x1="513.50" y1="300.30" x2="513.50" y2="303.40" stroke="#262626" stroke-width="0.9" />
<text x="513.50" y="314.20" font-size="8.95" text-anchor="middle" fill="#1a1a1a" >10<tspan font-size="5.19" dy="-3.76">-2</tspan></text>
<line x1="529.45" y1="300.30" x2="529.45" y2="302.10" stroke="#262626" stroke-width="0.6" />
<line x1="538.79" y1="300.30" x2="538.79" y2="302.10" stroke="#262626" stroke-width="0.6" />
<line x1="545.41" y1="300.30" x2="545.41" y2="302.10" stroke="#262626" stroke-width="0.6" />
<line x1="550.55" y1="300.30" x2="550.55" y2="302.10" stroke="#262626" stroke-width="0.6" />
<line x1="554.74" y1="300.30" x2="554.74" y2="302.10" stroke="#262626" stroke-width="0.6" />
<line x1="558.29" y1="300.30" x2="558.29" y2="302.10" stroke="#262626" stroke-width="0.6" />
<line x1="561.36" y1="300.30" x2="561.36" y2="302.10" stroke="#262626" stroke-width="0.6" />
<line x1="564.07" y1="300.30" x2="564.07" y2="302.10" stroke="#262626" stroke-width="0.6" />
<line x1="566.50" y1="300.30" x2="566.50" y2="303.40" stroke="#262626" stroke-width="0.9" />
<text x="566.50" y="314.20" font-size="8.95" text-anchor="middle" fill="#1a1a1a" >10<tspan font-size="5.19" dy="-3.76">-1</tspan></text>
<line x1="582.45" y1="300.30" x2="582.45" y2="302.10" stroke="#262626" stroke-width="0.6" />
<line x1="591.79" y1="300.30" x2="591.79" y2="302.10" stroke="#262626" stroke-width="0.6" />
<line x1="598.41" y1="300.30" x2="598.41" y2="302.10" stroke="#262626" stroke-width="0.6" />
<line x1="603.55" y1="300.30" x2="603.55" y2="302.10" stroke="#262626" stroke-width="0.6" />
<line x1="607.74" y1="300.30" x2="607.74" y2="302.10" stroke="#262626" stroke-width="0.6" />
<line x1="611.29" y1="300.30" x2="611.29" y2="302.10" stroke="#262626" stroke-width="0.6" />
<line x1="614.36" y1="300.30" x2="614.36" y2="302.10" stroke="#262626" stroke-width="0.6" />
<line x1="617.07" y1="300.30" x2="617.07" y2="302.10" stroke="#262626" stroke-width="0.6" />
<line x1="619.50" y1="300.30" x2="619.50" y2="303.40" stroke="#262626" stroke-width="0.9" />
<text x="619.50" y="314.20" font-size="8.95" text-anchor="middle" fill="#1a1a1a" >10<tspan font-size="5.19" dy="-3.76">0</tspan></text>
<line x1="635.45" y1="300.30" x2="635.45" y2="302.10" stroke="#262626" stroke-width="0.6" />
<line x1="644.79" y1="300.30" x2="644.79" y2="302.10" stroke="#262626" stroke-width="0.6" />
<line x1="651.41" y1="300.30" x2="651.41" y2="302.10" stroke="#262626" stroke-width="0.6" />
<line x1="656.55" y1="300.30" x2="656.55" y2="302.10" stroke="#262626" stroke-width="0.6" />
<line x1="660.74" y1="300.30" x2="660.74" y2="302.10" stroke="#262626" stroke-width="0.6" />
<line x1="664.29" y1="300.30" x2="664.29" y2="302.10" stroke="#262626" stroke-width="0.6" />
<line x1="667.36" y1="300.30" x2="667.36" y2="302.10" stroke="#262626" stroke-width="0.6" />
<line x1="670.07" y1="300.30" x2="670.07" y2="302.10" stroke="#262626" stroke-width="0.6" />
<line x1="672.50" y1="300.30" x2="672.50" y2="303.40" stroke="#262626" stroke-width="0.9" />
<text x="672.50" y="314.20" font-size="8.95" text-anchor="middle" fill="#1a1a1a" >10<tspan font-size="5.19" dy="-3.76">1</tspan></text>
<text x="591.50" y="327.20" font-size="8.95" text-anchor="middle" fill="#1a1a1a" >Voltage (V)</text>
<text transform="translate(486.3,138.3) rotate(-90)" font-size="9.1" text-anchor="middle" fill="#1a1a1a">Current density (mA cm<tspan font-size="5.4" dy="-3.3">-2</tspan><tspan dy="3.3">)</tspan></text>
<text x="1.50" y="175.80" font-size="11" text-anchor="start" fill="#1a1a1a" font-weight="bold">d</text>
<path d="M34.30,208.10 L34.70,208.19 L35.10,208.28 L35.50,208.36 L35.91,208.44 L36.31,208.52 L36.71,208.59 L37.11,208.67 L37.51,208.74 L37.91,208.81 L38.31,208.87 L38.71,208.93 L39.12,209.00 L39.52,209.05 L39.92,209.11 L40.32,209.16 L40.72,209.22 L41.12,209.27 L41.52,209.31 L41.92,209.36 L42.33,209.40 L42.73,209.44 L43.13,209.48 L43.53,209.52 L43.93,209.55 L44.33,209.59 L44.73,209.62 L45.13,209.65 L45.54,209.68 L45.94,209.70 L46.34,209.72 L46.74,209.75 L47.14,209.77 L47.54,209.79 L47.94,209.80 L48.34,209.82 L48.75,209.83 L49.15,209.85 L49.55,209.86 L49.95,209.87 L50.35,209.88 L50.75,209.88 L51.15,209.89 L51.55,209.89 L51.96,209.90 L52.36,209.90 L52.76,209.90 L53.16,209.90 L53.56,209.88 L53.96,209.87 L54.36,209.84 L54.76,209.80 L55.17,209.77 L55.57,209.72 L55.97,209.67 L56.37,209.61 L56.77,209.55 L57.17,209.49 L57.57,209.42 L57.97,209.35 L58.38,209.28 L58.78,209.20 L59.18,209.13 L59.58,209.05 L59.98,208.98 L60.38,208.90 L60.78,208.82 L61.18,208.75 L61.59,208.67 L61.99,208.60 L62.39,208.54 L62.79,208.47 L63.19,208.41 L63.59,208.35 L63.99,208.30 L64.39,208.25 L64.80,208.21 L65.20,208.17 L65.60,208.14 L66.00,208.12 L66.40,208.11 L66.80,208.10 L67.20,208.10 L67.60,208.10 L68.01,208.10 L68.41,208.10 L68.81,208.10 L69.21,208.10 L69.61,208.10 L70.01,208.10 L70.41,208.10 L70.81,208.10 L71.22,208.10 L71.62,208.10 L72.02,208.10 L72.42,208.10 L72.82,208.10 L73.22,208.10 L73.62,208.10 L74.02,208.10 L74.43,208.10 L74.83,208.10 L75.23,208.10 L75.63,208.10 L76.03,208.10 L76.43,208.10 L76.83,208.10 L77.23,208.10 L77.64,208.10 L78.04,208.10 L78.44,208.10 L78.84,208.10 L79.24,208.10 L79.64,208.11 L80.04,208.13 L80.44,208.17 L80.85,208.22 L81.25,208.28 L81.65,208.35 L82.05,208.44 L82.45,208.54 L82.85,208.65 L83.25,208.76 L83.65,208.89 L84.06,209.03 L84.46,209.18 L84.86,209.33 L85.26,209.50 L85.66,209.67 L86.06,209.85 L86.46,210.03 L86.86,210.23 L87.27,210.42 L87.67,210.63 L88.07,210.84 L88.47,211.10 L88.87,211.44 L89.27,211.86 L89.67,212.33 L90.07,212.86 L90.48,213.45 L90.88,214.07 L91.28,214.73 L91.68,215.42 L92.08,216.13 L92.48,216.85 L92.88,217.58 L93.28,218.32 L93.69,219.05 L94.09,219.76 L94.49,220.45 L94.89,221.12 L95.29,221.79 L95.69,222.54 L96.09,223.36 L96.49,224.23 L96.90,225.13 L97.30,226.04 L97.70,226.95 L98.10,227.84 L98.50,228.68 L98.90,229.47 L99.30,230.17 L99.70,230.78 L100.11,231.28 L100.51,231.64 L100.91,231.85 L101.31,231.89 L101.71,231.76 L102.11,231.48 L102.51,231.05 L102.91,230.50 L103.32,229.85 L103.72,229.11 L104.12,228.30 L104.52,227.43 L104.92,226.52 L105.32,225.60 L105.72,224.67 L106.12,223.75 L106.53,222.86 L106.93,222.02 L107.33,221.25 L107.73,220.44 L108.13,219.53 L108.53,218.57 L108.93,217.57 L109.33,216.57 L109.74,215.60 L110.14,214.69 L110.54,213.87 L110.94,213.18 L111.34,212.64 L111.74,212.28 L112.14,212.10 L112.54,211.94 L112.95,211.79 L113.35,211.65 L113.75,211.52 L114.15,211.39 L114.55,211.27 L114.95,211.16 L115.35,211.05 L115.75,210.96 L116.16,210.87 L116.56,210.78 L116.96,210.71 L117.36,210.64 L117.76,210.59 L118.16,210.54 L118.56,210.49 L118.96,210.46 L119.37,210.43 L119.77,210.41 L120.17,210.40 L120.57,210.40 L120.97,210.43 L121.37,210.48 L121.77,210.58 L122.17,210.69 L122.58,210.84 L122.98,211.00 L123.38,211.19 L123.78,211.38 L124.18,211.60 L124.58,211.81 L124.98,212.04 L125.38,212.27 L125.79,212.49 L126.19,212.76 L126.59,213.12 L126.99,213.55 L127.39,214.02 L127.79,214.53 L128.19,215.05 L128.59,215.56 L129.00,216.04 L129.40,216.48 L129.80,216.86 L130.20,217.15 L130.60,217.33 L131.00,217.40 L131.40,217.34 L131.80,217.16 L132.21,216.89 L132.61,216.55 L133.01,216.13 L133.41,215.68 L133.81,215.19 L134.21,214.69 L134.61,214.19 L135.01,213.71 L135.42,213.27 L135.82,212.88 L136.22,212.56 L136.62,212.29 L137.02,212.01 L137.42,211.74 L137.82,211.46 L138.22,211.19 L138.63,210.92 L139.03,210.65 L139.43,210.40 L139.83,210.16 L140.23,209.93 L140.63,209.72 L141.03,209.54 L141.43,209.37 L141.84,209.24 L142.24,209.13 L142.64,209.05 L143.04,209.01 L143.44,209.00 L143.84,209.00 L144.24,209.01 L144.64,209.01 L145.05,209.02 L145.45,209.03 L145.85,209.04 L146.25,209.06 L146.65,209.07 L147.05,209.09 L147.45,209.10 L147.85,209.12 L148.26,209.14 L148.66,209.15 L149.06,209.17 L149.46,209.19 L149.86,209.20 L150.26,209.22 L150.66,209.23 L151.06,209.25 L151.47,209.26 L151.87,209.27 L152.27,209.28 L152.67,209.29 L153.07,209.29 L153.47,209.30 L153.87,209.30 L154.27,209.30 L154.68,209.29 L155.08,209.28 L155.48,209.26 L155.88,209.24 L156.28,209.21 L156.68,209.18 L157.08,209.14 L157.48,209.11 L157.89,209.07 L158.29,209.02 L158.69,208.98 L159.09,208.93 L159.49,208.88 L159.89,208.83 L160.29,208.78 L160.69,208.73 L161.10,208.68 L161.50,208.63 L161.90,208.58 L162.30,208.53 L162.70,208.48 L163.10,208.43 L163.50,208.39 L163.90,208.34 L164.31,208.30 L164.71,208.27 L165.11,208.23 L165.51,208.20 L165.91,208.17 L166.31,208.15 L166.71,208.13 L167.11,208.11 L167.52,208.10 L167.92,208.10 L168.32,208.10 L168.72,208.10 L169.12,208.10 L169.52,208.10 L169.92,208.10 L170.32,208.10 L170.73,208.10 L171.13,208.10 L171.53,208.10 L171.93,208.10 L172.33,208.10 L172.73,208.10 L173.13,208.10 L173.53,208.10 L173.94,208.10 L174.34,208.10 L174.74,208.10 L175.14,208.10 L175.54,208.10 L175.94,208.10 L176.34,208.10 L176.74,208.10 L177.15,208.10 L177.55,208.10 L177.95,208.10 L178.35,208.10 L178.75,208.10 L179.15,208.10 L179.55,208.10 L179.95,208.10 L180.36,208.10 L180.76,208.10 L181.16,208.10 L181.56,208.10 L181.96,208.10 L182.36,208.10 L182.76,208.10 L183.16,208.10 L183.57,208.10 L183.97,208.10 L184.37,208.10 L184.77,208.10 L185.17,208.10 L185.57,208.10 L185.97,208.10 L186.37,208.10 L186.78,208.10 L187.18,208.10 L187.58,208.10 L187.98,208.10 L188.38,208.10 L188.78,208.10 L189.18,208.10 L189.58,208.10 L189.99,208.10 L190.39,208.10 L190.79,208.10 L191.19,208.10 L191.59,208.10 L191.99,208.10 L192.39,208.10 L192.79,208.10 L193.20,208.10 L193.60,208.10 L194.00,208.10 L194.40,208.10" fill="none" stroke="#f5905a" stroke-width="0.95" stroke-linejoin="round" />
<path d="M34.30,217.30 L34.70,217.69 L35.10,218.06 L35.50,218.42 L35.91,218.77 L36.31,219.10 L36.71,219.43 L37.11,219.74 L37.51,220.03 L37.91,220.32 L38.31,220.59 L38.71,220.85 L39.12,221.09 L39.52,221.32 L39.92,221.54 L40.32,221.74 L40.72,221.93 L41.12,222.10 L41.52,222.27 L41.92,222.41 L42.33,222.55 L42.73,222.67 L43.13,222.77 L43.53,222.86 L43.93,222.94 L44.33,223.00 L44.73,223.05 L45.13,223.08 L45.54,223.10 L45.94,223.10 L46.34,223.08 L46.74,223.04 L47.14,222.98 L47.54,222.90 L47.94,222.81 L48.34,222.71 L48.75,222.59 L49.15,222.47 L49.55,222.34 L49.95,222.21 L50.35,222.07 L50.75,221.93 L51.15,221.80 L51.55,221.66 L51.96,221.54 L52.36,221.42 L52.76,221.31 L53.16,221.21 L53.56,221.10 L53.96,220.99 L54.36,220.87 L54.76,220.75 L55.17,220.62 L55.57,220.50 L55.97,220.37 L56.37,220.24 L56.77,220.11 L57.17,219.97 L57.57,219.84 L57.97,219.71 L58.38,219.58 L58.78,219.44 L59.18,219.32 L59.58,219.19 L59.98,219.06 L60.38,218.94 L60.78,218.82 L61.18,218.71 L61.59,218.60 L61.99,218.50 L62.39,218.40 L62.79,218.30 L63.19,218.22 L63.59,218.14 L63.99,218.06 L64.39,218.00 L64.80,217.94 L65.20,217.90 L65.60,217.86 L66.00,217.83 L66.40,217.81 L66.80,217.80 L67.20,217.80 L67.60,217.81 L68.01,217.82 L68.41,217.83 L68.81,217.85 L69.21,217.87 L69.61,217.89 L70.01,217.92 L70.41,217.96 L70.81,217.99 L71.22,218.03 L71.62,218.08 L72.02,218.12 L72.42,218.17 L72.82,218.23 L73.22,218.28 L73.62,218.34 L74.02,218.41 L74.43,218.47 L74.83,218.54 L75.23,218.61 L75.63,218.69 L76.03,218.78 L76.43,218.93 L76.83,219.12 L77.23,219.36 L77.64,219.64 L78.04,219.96 L78.44,220.31 L78.84,220.68 L79.24,221.08 L79.64,221.49 L80.04,221.92 L80.44,222.36 L80.85,222.80 L81.25,223.25 L81.65,223.69 L82.05,224.12 L82.45,224.55 L82.85,224.95 L83.25,225.37 L83.65,225.80 L84.06,226.24 L84.46,226.69 L84.86,227.15 L85.26,227.62 L85.66,228.10 L86.06,228.58 L86.46,229.07 L86.86,229.57 L87.27,230.07 L87.67,230.58 L88.07,231.09 L88.47,231.60 L88.87,232.11 L89.27,232.61 L89.67,233.12 L90.07,233.63 L90.48,234.13 L90.88,234.63 L91.28,235.13 L91.68,235.61 L92.08,236.07 L92.48,236.52 L92.88,236.95 L93.28,237.40 L93.69,237.86 L94.09,238.37 L94.49,238.91 L94.89,239.52 L95.29,240.21 L95.69,241.03 L96.09,241.96 L96.49,242.98 L96.90,244.09 L97.30,245.27 L97.70,246.51 L98.10,247.80 L98.50,249.12 L98.90,250.45 L99.30,251.80 L99.70,253.13 L100.11,254.45 L100.51,255.73 L100.91,256.97 L101.31,258.15 L101.71,259.25 L102.11,260.28 L102.51,261.25 L102.91,262.19 L103.32,263.11 L103.72,264.00 L104.12,264.88 L104.52,265.74 L104.92,266.58 L105.32,267.42 L105.72,268.25 L106.12,269.08 L106.53,269.91 L106.93,270.75 L107.33,271.59 L107.73,272.45 L108.13,273.33 L108.53,274.22 L108.93,275.14 L109.33,276.12 L109.74,277.17 L110.14,278.27 L110.54,279.37 L110.94,280.44 L111.34,281.45 L111.74,282.35 L112.14,283.11 L112.54,283.77 L112.95,284.45 L113.35,285.06 L113.75,285.53 L114.15,285.78 L114.55,285.75 L114.95,285.51 L115.35,285.09 L115.75,284.55 L116.16,283.92 L116.56,283.27 L116.96,282.54 L117.36,281.61 L117.76,280.51 L118.16,279.26 L118.56,277.87 L118.96,276.37 L119.37,274.76 L119.77,273.08 L120.17,271.34 L120.57,269.37 L120.97,267.00 L121.37,264.30 L121.77,261.38 L122.17,258.33 L122.58,255.23 L122.98,252.19 L123.38,249.29 L123.78,246.63 L124.18,244.30 L124.58,242.32 L124.98,240.30 L125.38,238.27 L125.79,236.36 L126.19,234.73 L126.59,233.49 L126.99,232.80 L127.39,232.74 L127.79,233.09 L128.19,233.74 L128.59,234.65 L129.00,235.77 L129.40,237.06 L129.80,238.46 L130.20,239.94 L130.60,241.43 L131.00,243.06 L131.40,245.14 L131.80,247.57 L132.21,250.28 L132.61,253.14 L133.01,256.07 L133.41,258.97 L133.81,261.74 L134.21,264.27 L134.61,266.76 L135.01,269.30 L135.42,271.73 L135.82,273.88 L136.22,275.57 L136.62,277.04 L137.02,278.38 L137.42,279.29 L137.82,279.47 L138.22,278.96 L138.63,278.01 L139.03,276.83 L139.43,275.59 L139.83,273.95 L140.23,271.95 L140.63,269.82 L141.03,267.77 L141.43,265.95 L141.84,264.14 L142.24,262.32 L142.64,260.49 L143.04,258.67 L143.44,256.87 L143.84,255.11 L144.24,253.39 L144.64,251.73 L145.05,250.14 L145.45,248.63 L145.85,247.22 L146.25,245.92 L146.65,244.74 L147.05,243.65 L147.45,242.60 L147.85,241.60 L148.26,240.65 L148.66,239.74 L149.06,238.88 L149.46,238.08 L149.86,237.33 L150.26,236.63 L150.66,235.99 L151.06,235.41 L151.47,234.89 L151.87,234.42 L152.27,233.99 L152.67,233.60 L153.07,233.22 L153.47,232.84 L153.87,232.47 L154.27,232.08 L154.68,231.66 L155.08,231.21 L155.48,230.71 L155.88,230.16 L156.28,229.57 L156.68,228.95 L157.08,228.30 L157.48,227.64 L157.89,226.97 L158.29,226.30 L158.69,225.63 L159.09,224.98 L159.49,224.35 L159.89,223.75 L160.29,223.18 L160.69,222.67 L161.10,222.20 L161.50,221.79 L161.90,221.45 L162.30,221.18 L162.70,221.00 L163.10,220.86 L163.50,220.73 L163.90,220.61 L164.31,220.49 L164.71,220.38 L165.11,220.27 L165.51,220.17 L165.91,220.07 L166.31,219.98 L166.71,219.89 L167.11,219.81 L167.52,219.73 L167.92,219.65 L168.32,219.58 L168.72,219.51 L169.12,219.45 L169.52,219.39 L169.92,219.33 L170.32,219.27 L170.73,219.21 L171.13,219.16 L171.53,219.11 L171.93,219.06 L172.33,219.01 L172.73,218.96 L173.13,218.91 L173.53,218.87 L173.94,218.82 L174.34,218.78 L174.74,218.73 L175.14,218.68 L175.54,218.64 L175.94,218.59 L176.34,218.54 L176.74,218.49 L177.15,218.45 L177.55,218.40 L177.95,218.35 L178.35,218.31 L178.75,218.26 L179.15,218.22 L179.55,218.17 L179.95,218.13 L180.36,218.09 L180.76,218.05 L181.16,218.02 L181.56,217.98 L181.96,217.95 L182.36,217.92 L182.76,217.89 L183.16,217.87 L183.57,217.85 L183.97,217.83 L184.37,217.82 L184.77,217.81 L185.17,217.80 L185.57,217.80 L185.97,217.81 L186.37,217.83 L186.78,217.86 L187.18,217.91 L187.58,217.97 L187.98,218.05 L188.38,218.13 L188.78,218.23 L189.18,218.34 L189.58,218.45 L189.99,218.58 L190.39,218.72 L190.79,218.86 L191.19,219.01 L191.59,219.17 L191.99,219.33 L192.39,219.50 L192.79,219.67 L193.20,219.85 L193.60,220.03 L194.00,220.21 L194.40,220.40" fill="none" stroke="#4a5aa8" stroke-width="0.95" stroke-linejoin="round" />
<line x1="101.10" y1="217.00" x2="101.10" y2="245.00" stroke="#a9b2fa" stroke-width="1.3" />
<line x1="131.00" y1="207.20" x2="131.00" y2="226.60" stroke="#a9b2fa" stroke-width="1.3" />
<line x1="114.00" y1="278.40" x2="114.00" y2="293.40" stroke="#a9b2fa" stroke-width="1.3" />
<line x1="137.70" y1="272.30" x2="137.70" y2="288.60" stroke="#a9b2fa" stroke-width="1.3" />
<line x1="103.40" y1="250.20" x2="109.27" y2="264.19" stroke="#6e6e6e" stroke-width="1.15" />
<path d="M111.20,268.80 L107.15,265.08 L111.39,263.30 Z" fill="#6e6e6e"/>
<line x1="132.80" y1="230.10" x2="135.35" y2="247.06" stroke="#6e6e6e" stroke-width="1.15" />
<path d="M136.10,252.00 L133.08,247.40 L137.63,246.71 Z" fill="#6e6e6e"/>
<rect x="34.30" y="172.90" width="160.10" height="127.70" fill="none" stroke="#262626" stroke-width="1"/>
<line x1="31.30" y1="296.20" x2="34.30" y2="296.20" stroke="#262626" stroke-width="1" />
<text x="28.80" y="299.30" font-size="8.95" text-anchor="end" fill="#1a1a1a" >0.8</text>
<line x1="32.50" y1="274.20" x2="34.30" y2="274.20" stroke="#262626" stroke-width="0.7" />
<line x1="31.30" y1="252.20" x2="34.30" y2="252.20" stroke="#262626" stroke-width="1" />
<text x="28.80" y="255.30" font-size="8.95" text-anchor="end" fill="#1a1a1a" >0.9</text>
<line x1="32.50" y1="230.20" x2="34.30" y2="230.20" stroke="#262626" stroke-width="0.7" />
<line x1="31.30" y1="208.20" x2="34.30" y2="208.20" stroke="#262626" stroke-width="1" />
<text x="28.80" y="211.30" font-size="8.95" text-anchor="end" fill="#1a1a1a" >1.0</text>
<line x1="32.50" y1="186.20" x2="34.30" y2="186.20" stroke="#262626" stroke-width="0.7" />
<line x1="193.80" y1="300.60" x2="193.80" y2="303.60" stroke="#262626" stroke-width="1" />
<text x="193.80" y="314.00" font-size="8.95" text-anchor="middle" fill="#1a1a1a" >800</text>
<line x1="173.93" y1="300.60" x2="173.93" y2="302.40" stroke="#262626" stroke-width="0.7" />
<line x1="154.05" y1="300.60" x2="154.05" y2="303.60" stroke="#262626" stroke-width="1" />
<text x="154.05" y="314.00" font-size="8.95" text-anchor="middle" fill="#1a1a1a" >900</text>
<line x1="134.18" y1="300.60" x2="134.18" y2="302.40" stroke="#262626" stroke-width="0.7" />
<line x1="114.30" y1="300.60" x2="114.30" y2="303.60" stroke="#262626" stroke-width="1" />
<text x="114.30" y="314.00" font-size="8.95" text-anchor="middle" fill="#1a1a1a" >1000</text>
<line x1="94.42" y1="300.60" x2="94.42" y2="302.40" stroke="#262626" stroke-width="0.7" />
<line x1="74.55" y1="300.60" x2="74.55" y2="303.60" stroke="#262626" stroke-width="1" />
<text x="74.55" y="314.00" font-size="8.95" text-anchor="middle" fill="#1a1a1a" >1100</text>
<line x1="54.67" y1="300.60" x2="54.67" y2="302.40" stroke="#262626" stroke-width="0.7" />
<line x1="34.80" y1="300.60" x2="34.80" y2="303.60" stroke="#262626" stroke-width="1" />
<text x="34.80" y="314.00" font-size="8.95" text-anchor="middle" fill="#1a1a1a" >1200</text>
<text x="114.40" y="324.20" font-size="8.95" text-anchor="middle" fill="#1a1a1a" >Wavenumber (cm<tspan font-size="5.4" dy="-3.3">-1</tspan><tspan dy="3.3">)</tspan></text>
<text transform="translate(12.0,236.5) rotate(-90)" font-size="9.0" text-anchor="middle" fill="#1a1a1a">Transmittance (%)</text>
<text x="85.70" y="208.90" font-size="8.95" text-anchor="start" fill="#1a1a1a" >1035 cm<tspan font-size="5.4" dy="-3.3">-1</tspan></text>
<text x="134.20" y="224.10" font-size="8.95" text-anchor="start" fill="#1a1a1a" >959 cm<tspan font-size="5.4" dy="-3.3">-1</tspan></text>
<text x="110.50" y="294.70" font-size="8.95" text-anchor="end" fill="#1a1a1a" >1002 cm<tspan font-size="5.4" dy="-3.3">-1</tspan></text>
<text x="140.70" y="293.00" font-size="8.95" text-anchor="start" fill="#1a1a1a" >942 cm<tspan font-size="5.4" dy="-3.3">-1</tspan></text>
<text x="40.2" y="185.7" font-size="8.8" fill="#1a1a1a">···</text>
<text x="51.00" y="185.70" font-size="8.8" text-anchor="start" fill="#1a1a1a" >C-N stretching</text>
<line x1="121.70" y1="180.50" x2="140.70" y2="180.50" stroke="#f5905a" stroke-width="1.1" />
<line x1="121.70" y1="191.70" x2="140.70" y2="191.70" stroke="#4a5aa8" stroke-width="1.1" />
<text x="143.70" y="183.60" font-size="8.8" text-anchor="start" fill="#1a1a1a" >BABr</text>
<text x="143.70" y="194.80" font-size="8.8" text-anchor="start" fill="#1a1a1a" >BABr+PbBr<tspan font-size="5.5" dy="2">2</tspan></text>
<text x="215.30" y="175.80" font-size="11" text-anchor="start" fill="#1a1a1a" font-weight="bold">e</text>
<line x1="298.90" y1="180.50" x2="298.90" y2="290.40" stroke="#d4d4d4" stroke-width="1.5" />
<line x1="371.30" y1="180.50" x2="371.30" y2="290.40" stroke="#d4d4d4" stroke-width="1.5" />
<path d="M237.80,222.21 L238.40,222.21 L239.00,222.21 L239.60,222.21 L240.20,222.21 L240.80,222.21 L241.40,222.21 L242.00,222.21 L242.60,222.21 L243.20,222.21 L243.80,222.22 L244.40,222.22 L245.00,222.22 L245.60,222.22 L246.20,222.22 L246.80,222.22 L247.40,222.22 L248.00,222.22 L248.60,222.22 L249.20,222.22 L249.80,222.22 L250.40,222.22 L251.00,222.22 L251.60,222.22 L252.20,222.22 L252.80,222.22 L253.40,222.23 L254.00,222.23 L254.60,222.23 L255.20,222.23 L255.80,222.23 L256.40,222.23 L257.00,222.23 L257.60,222.23 L258.20,222.23 L258.80,222.23 L259.40,222.24 L260.00,222.24 L260.60,222.24 L261.20,222.24 L261.80,222.24 L262.40,222.24 L263.00,222.24 L263.60,222.24 L264.20,222.25 L264.80,222.25 L265.40,222.25 L266.00,222.25 L266.60,222.25 L267.20,222.25 L267.80,222.26 L268.40,222.26 L269.00,222.26 L269.60,222.26 L270.20,222.26 L270.80,222.26 L271.40,222.26 L272.00,222.26 L272.60,222.26 L273.20,222.25 L273.80,222.24 L274.40,222.23 L275.00,222.22 L275.60,222.20 L276.20,222.18 L276.80,222.14 L277.40,222.10 L278.00,222.04 L278.60,221.97 L279.20,221.88 L279.80,221.76 L280.40,221.62 L281.00,221.45 L281.60,221.24 L282.20,220.98 L282.80,220.68 L283.40,220.32 L284.00,219.90 L284.60,219.42 L285.20,218.86 L285.80,218.22 L286.40,217.51 L287.00,216.71 L287.60,215.82 L288.20,214.85 L288.80,213.81 L289.40,212.69 L290.00,211.50 L290.60,210.26 L291.20,208.98 L291.80,207.68 L292.40,206.36 L293.00,205.07 L293.60,203.81 L294.20,202.60 L294.80,201.48 L295.40,200.46 L296.00,199.56 L296.60,198.81 L297.20,198.21 L297.80,197.79 L298.40,197.54 L299.00,197.49 L299.60,197.62 L300.20,197.94 L300.80,198.44 L301.40,199.11 L302.00,199.93 L302.60,200.89 L303.20,201.96 L303.80,203.13 L304.40,204.37 L305.00,205.67 L305.60,206.99 L306.20,208.32 L306.80,209.63 L307.40,210.92 L308.00,212.16 L308.60,213.34 L309.20,214.46 L309.80,215.50 L310.40,216.45 L311.00,217.33 L311.60,218.12 L312.20,218.83 L312.80,219.46 L313.40,220.01 L314.00,220.49 L314.60,220.91 L315.20,221.26 L315.80,221.57 L316.40,221.83 L317.00,222.04 L317.60,222.23 L318.20,222.38 L318.80,222.50 L319.40,222.61 L320.00,222.69 L320.60,222.77 L321.20,222.83 L321.80,222.88 L322.40,222.92 L323.00,222.96 L323.60,222.99 L324.20,223.02 L324.80,223.05 L325.40,223.07 L326.00,223.09 L326.60,223.12 L327.20,223.14 L327.80,223.16 L328.40,223.18 L329.00,223.20 L329.60,223.22 L330.20,223.24 L330.80,223.26 L331.40,223.28 L332.00,223.30 L332.60,223.32 L333.20,223.34 L333.80,223.36 L334.40,223.38 L335.00,223.40 L335.60,223.42 L336.20,223.44 L336.80,223.46 L337.40,223.48 L338.00,223.50 L338.60,223.52 L339.20,223.54 L339.80,223.56 L340.40,223.58 L341.00,223.60 L341.60,223.61 L342.20,223.63 L342.80,223.65 L343.40,223.66 L344.00,223.68 L344.60,223.69 L345.20,223.70 L345.80,223.71 L346.40,223.71 L347.00,223.71 L347.60,223.70 L348.20,223.68 L348.80,223.65 L349.40,223.61 L350.00,223.55 L350.60,223.47 L351.20,223.37 L351.80,223.24 L352.40,223.08 L353.00,222.87 L353.60,222.62 L354.20,222.32 L354.80,221.95 L355.40,221.51 L356.00,221.00 L356.60,220.41 L357.20,219.72 L357.80,218.93 L358.40,218.05 L359.00,217.05 L359.60,215.95 L360.20,214.74 L360.80,213.42 L361.40,212.01 L362.00,210.51 L362.60,208.93 L363.20,207.29 L363.80,205.61 L364.40,203.91 L365.00,202.21 L365.60,200.54 L366.20,198.93 L366.80,197.41 L367.40,196.00 L368.00,194.74 L368.60,193.64 L369.20,192.74 L369.80,192.05 L370.40,191.58 L371.00,191.34 L371.60,191.35 L372.20,191.60 L372.80,192.09 L373.40,192.80 L374.00,193.72 L374.60,194.83 L375.20,196.11 L375.80,197.54 L376.40,199.07 L377.00,200.70 L377.60,202.38 L378.20,204.10 L378.80,205.82 L379.40,207.52 L380.00,209.17 L380.60,210.77 L381.20,212.29 L381.80,213.72 L382.40,215.05 L383.00,216.28 L383.60,217.40 L384.20,218.41 L384.80,219.32 L385.40,220.12 L386.00,220.83 L386.60,221.44 L387.20,221.97 L387.80,222.43 L388.40,222.81 L389.00,223.14 L389.60,223.41 L390.20,223.63 L390.80,223.82 L391.40,223.97 L392.00,224.09 L392.60,224.18 L393.20,224.26 L393.80,224.32 L394.40,224.37 L395.00,224.41 L395.60,224.44 L396.20,224.46 L396.80,224.48 L397.40,224.50 L398.00,224.51 L398.60,224.52 L399.20,224.52 L399.80,224.53 L400.40,224.53 L401.00,224.54 L401.60,224.54 L402.20,224.54 L402.80,224.54 L403.40,224.55 L404.00,224.55 L404.60,224.55 L405.20,224.55 L405.80,224.55 L406.40,224.56 L407.00,224.56 L407.60,224.56 L408.20,224.56 L408.80,224.56 L409.40,224.56 L410.00,224.56 L410.60,224.56 L411.20,224.57 L411.80,224.57 L412.40,224.57 L413.00,224.57 L413.60,224.57 L414.20,224.57 L414.80,224.57 L415.40,224.57 L416.00,224.57 L416.60,224.57 L417.20,224.58 L417.80,224.58 L418.40,224.58 L419.00,224.58 L419.60,224.58 L420.20,224.58 L420.80,224.58 L421.40,224.58 L422.00,224.58 L422.60,224.58 L423.20,224.58 L423.80,224.58 L424.40,224.58 L425.00,224.58 L425.60,224.58 L426.20,224.58 L426.80,224.59 L427.40,224.59 L428.00,224.59 L428.60,224.59 L429.20,224.59 L429.80,224.59 L430.40,224.59 L431.00,224.59 L431.60,224.59 L432.20,224.59 L432.80,224.59 L433.40,224.59 L434.00,224.59 L434.60,224.59 L435.20,224.59 L435.80,224.59 L436.40,224.59 L437.00,224.59 L437.60,224.59 L438.20,224.59 L438.80,224.59 L439.40,224.59 L440.00,224.59 L440.60,224.59 L441.20,224.59 L441.80,224.59 L442.40,224.59 L443.00,224.59 L443.60,224.59 L444.20,224.59 L444.80,224.59 L445.40,224.59 L446.00,224.59 L446.60,224.60 L447.20,224.60 L447.80,224.60 L448.40,224.60 L449.00,224.60 L449.60,224.60 L450.20,224.60 L450.80,224.60 L451.40,224.60 L452.00,224.60 L452.60,224.60 L453.20,224.60 L453.80,224.60 L454.40,224.60 L455.00,224.60 L455.60,224.60 L456.20,224.60 L456.80,224.60 L457.40,224.60 L458.00,224.60 L458.60,224.60 L459.20,224.60 L459.80,224.60 L460.40,224.60" fill="none" stroke="#767676" stroke-width="1.05" stroke-linejoin="round" />
<path d="M237.80,246.80 L238.40,246.80 L239.00,246.80 L239.60,246.80 L240.20,246.81 L240.80,246.81 L241.40,246.81 L242.00,246.81 L242.60,246.81 L243.20,246.81 L243.80,246.81 L244.40,246.81 L245.00,246.81 L245.60,246.81 L246.20,246.81 L246.80,246.81 L247.40,246.81 L248.00,246.81 L248.60,246.81 L249.20,246.81 L249.80,246.81 L250.40,246.81 L251.00,246.81 L251.60,246.81 L252.20,246.81 L252.80,246.81 L253.40,246.81 L254.00,246.81 L254.60,246.81 L255.20,246.81 L255.80,246.81 L256.40,246.81 L257.00,246.81 L257.60,246.81 L258.20,246.81 L258.80,246.81 L259.40,246.81 L260.00,246.82 L260.60,246.82 L261.20,246.82 L261.80,246.82 L262.40,246.82 L263.00,246.82 L263.60,246.82 L264.20,246.82 L264.80,246.82 L265.40,246.82 L266.00,246.82 L266.60,246.82 L267.20,246.82 L267.80,246.82 L268.40,246.82 L269.00,246.81 L269.60,246.81 L270.20,246.81 L270.80,246.80 L271.40,246.79 L272.00,246.78 L272.60,246.76 L273.20,246.74 L273.80,246.71 L274.40,246.67 L275.00,246.62 L275.60,246.56 L276.20,246.48 L276.80,246.38 L277.40,246.25 L278.00,246.10 L278.60,245.91 L279.20,245.68 L279.80,245.41 L280.40,245.08 L281.00,244.70 L281.60,244.25 L282.20,243.74 L282.80,243.15 L283.40,242.48 L284.00,241.73 L284.60,240.90 L285.20,239.98 L285.80,238.98 L286.40,237.90 L287.00,236.74 L287.60,235.53 L288.20,234.27 L288.80,232.97 L289.40,231.65 L290.00,230.33 L290.60,229.03 L291.20,227.78 L291.80,226.59 L292.40,225.49 L293.00,224.50 L293.60,223.64 L294.20,222.93 L294.80,222.38 L295.40,222.01 L296.00,221.83 L296.60,221.83 L297.20,222.02 L297.80,222.40 L298.40,222.95 L299.00,223.67 L299.60,224.54 L300.20,225.53 L300.80,226.64 L301.40,227.83 L302.00,229.09 L302.60,230.40 L303.20,231.72 L303.80,233.05 L304.40,234.35 L305.00,235.62 L305.60,236.84 L306.20,238.00 L306.80,239.09 L307.40,240.10 L308.00,241.02 L308.60,241.86 L309.20,242.62 L309.80,243.30 L310.40,243.89 L311.00,244.41 L311.60,244.87 L312.20,245.26 L312.80,245.59 L313.40,245.87 L314.00,246.10 L314.60,246.30 L315.20,246.46 L315.80,246.59 L316.40,246.70 L317.00,246.79 L317.60,246.86 L318.20,246.92 L318.80,246.97 L319.40,247.00 L320.00,247.03 L320.60,247.06 L321.20,247.08 L321.80,247.10 L322.40,247.11 L323.00,247.13 L323.60,247.14 L324.20,247.15 L324.80,247.16 L325.40,247.17 L326.00,247.18 L326.60,247.18 L327.20,247.19 L327.80,247.20 L328.40,247.21 L329.00,247.22 L329.60,247.23 L330.20,247.23 L330.80,247.24 L331.40,247.25 L332.00,247.26 L332.60,247.27 L333.20,247.27 L333.80,247.28 L334.40,247.29 L335.00,247.30 L335.60,247.31 L336.20,247.32 L336.80,247.32 L337.40,247.33 L338.00,247.34 L338.60,247.35 L339.20,247.35 L339.80,247.36 L340.40,247.36 L341.00,247.37 L341.60,247.37 L342.20,247.37 L342.80,247.37 L343.40,247.36 L344.00,247.35 L344.60,247.34 L345.20,247.31 L345.80,247.28 L346.40,247.23 L347.00,247.17 L347.60,247.09 L348.20,247.00 L348.80,246.87 L349.40,246.71 L350.00,246.52 L350.60,246.28 L351.20,245.99 L351.80,245.65 L352.40,245.24 L353.00,244.76 L353.60,244.20 L354.20,243.55 L354.80,242.81 L355.40,241.97 L356.00,241.02 L356.60,239.98 L357.20,238.82 L357.80,237.57 L358.40,236.22 L359.00,234.77 L359.60,233.25 L360.20,231.66 L360.80,230.02 L361.40,228.36 L362.00,226.69 L362.60,225.05 L363.20,223.45 L363.80,221.93 L364.40,220.51 L365.00,219.22 L365.60,218.09 L366.20,217.14 L366.80,216.39 L367.40,215.85 L368.00,215.54 L368.60,215.47 L369.20,215.63 L369.80,216.02 L370.40,216.64 L371.00,217.47 L371.60,218.49 L372.20,219.69 L372.80,221.03 L373.40,222.49 L374.00,224.05 L374.60,225.67 L375.20,227.34 L375.80,229.01 L376.40,230.68 L377.00,232.31 L377.60,233.88 L378.20,235.39 L378.80,236.81 L379.40,238.14 L380.00,239.37 L380.60,240.50 L381.20,241.52 L381.80,242.43 L382.40,243.25 L383.00,243.97 L383.60,244.59 L384.20,245.14 L384.80,245.60 L385.40,246.00 L386.00,246.33 L386.60,246.61 L387.20,246.84 L387.80,247.03 L388.40,247.18 L389.00,247.31 L389.60,247.41 L390.20,247.49 L390.80,247.56 L391.40,247.61 L392.00,247.64 L392.60,247.67 L393.20,247.70 L393.80,247.72 L394.40,247.73 L395.00,247.74 L395.60,247.75 L396.20,247.75 L396.80,247.76 L397.40,247.76 L398.00,247.77 L398.60,247.77 L399.20,247.77 L399.80,247.77 L400.40,247.77 L401.00,247.77 L401.60,247.78 L402.20,247.78 L402.80,247.78 L403.40,247.78 L404.00,247.78 L404.60,247.78 L405.20,247.78 L405.80,247.78 L406.40,247.78 L407.00,247.78 L407.60,247.78 L408.20,247.78 L408.80,247.78 L409.40,247.78 L410.00,247.78 L410.60,247.79 L411.20,247.79 L411.80,247.79 L412.40,247.79 L413.00,247.79 L413.60,247.79 L414.20,247.79 L414.80,247.79 L415.40,247.79 L416.00,247.79 L416.60,247.79 L417.20,247.79 L417.80,247.79 L418.40,247.79 L419.00,247.79 L419.60,247.79 L420.20,247.79 L420.80,247.79 L421.40,247.79 L422.00,247.79 L422.60,247.79 L423.20,247.79 L423.80,247.79 L424.40,247.79 L425.00,247.79 L425.60,247.79 L426.20,247.79 L426.80,247.79 L427.40,247.79 L428.00,247.79 L428.60,247.79 L429.20,247.79 L429.80,247.79 L430.40,247.80 L431.00,247.80 L431.60,247.80 L432.20,247.80 L432.80,247.80 L433.40,247.80 L434.00,247.80 L434.60,247.80 L435.20,247.80 L435.80,247.80 L436.40,247.80 L437.00,247.80 L437.60,247.80 L438.20,247.80 L438.80,247.80 L439.40,247.80 L440.00,247.80 L440.60,247.80 L441.20,247.80 L441.80,247.80 L442.40,247.80 L443.00,247.80 L443.60,247.80 L444.20,247.80 L444.80,247.80 L445.40,247.80 L446.00,247.80 L446.60,247.80 L447.20,247.80 L447.80,247.80 L448.40,247.80 L449.00,247.80 L449.60,247.80 L450.20,247.80 L450.80,247.80 L451.40,247.80 L452.00,247.80 L452.60,247.80 L453.20,247.80 L453.80,247.80 L454.40,247.80 L455.00,247.80 L455.60,247.80 L456.20,247.80 L456.80,247.80 L457.40,247.80 L458.00,247.80 L458.60,247.80 L459.20,247.80 L459.80,247.80 L460.40,247.80" fill="none" stroke="#1dbdc3" stroke-width="1.05" stroke-linejoin="round" />
<path d="M237.80,271.01 L238.40,271.01 L239.00,271.01 L239.60,271.01 L240.20,271.01 L240.80,271.01 L241.40,271.01 L242.00,271.01 L242.60,271.01 L243.20,271.01 L243.80,271.01 L244.40,271.01 L245.00,271.01 L245.60,271.02 L246.20,271.02 L246.80,271.02 L247.40,271.02 L248.00,271.02 L248.60,271.02 L249.20,271.02 L249.80,271.02 L250.40,271.02 L251.00,271.02 L251.60,271.02 L252.20,271.02 L252.80,271.02 L253.40,271.02 L254.00,271.02 L254.60,271.02 L255.20,271.03 L255.80,271.03 L256.40,271.03 L257.00,271.03 L257.60,271.03 L258.20,271.03 L258.80,271.03 L259.40,271.03 L260.00,271.03 L260.60,271.03 L261.20,271.04 L261.80,271.04 L262.40,271.04 L263.00,271.04 L263.60,271.04 L264.20,271.04 L264.80,271.04 L265.40,271.04 L266.00,271.04 L266.60,271.05 L267.20,271.05 L267.80,271.05 L268.40,271.05 L269.00,271.05 L269.60,271.04 L270.20,271.04 L270.80,271.03 L271.40,271.03 L272.00,271.01 L272.60,271.00 L273.20,270.98 L273.80,270.95 L274.40,270.91 L275.00,270.87 L275.60,270.80 L276.20,270.73 L276.80,270.63 L277.40,270.51 L278.00,270.36 L278.60,270.18 L279.20,269.95 L279.80,269.69 L280.40,269.37 L281.00,269.00 L281.60,268.56 L282.20,268.06 L282.80,267.49 L283.40,266.83 L284.00,266.10 L284.60,265.28 L285.20,264.39 L285.80,263.41 L286.40,262.35 L287.00,261.22 L287.60,260.04 L288.20,258.80 L288.80,257.53 L289.40,256.24 L290.00,254.95 L290.60,253.68 L291.20,252.46 L291.80,251.30 L292.40,250.22 L293.00,249.25 L293.60,248.41 L294.20,247.72 L294.80,247.19 L295.40,246.83 L296.00,246.65 L296.60,246.66 L297.20,246.85 L297.80,247.22 L298.40,247.77 L299.00,248.48 L299.60,249.33 L300.20,250.31 L300.80,251.40 L301.40,252.57 L302.00,253.81 L302.60,255.10 L303.20,256.40 L303.80,257.70 L304.40,258.99 L305.00,260.24 L305.60,261.44 L306.20,262.58 L306.80,263.65 L307.40,264.65 L308.00,265.56 L308.60,266.39 L309.20,267.14 L309.80,267.81 L310.40,268.40 L311.00,268.92 L311.60,269.37 L312.20,269.75 L312.80,270.09 L313.40,270.37 L314.00,270.61 L314.60,270.81 L315.20,270.97 L315.80,271.11 L316.40,271.22 L317.00,271.32 L317.60,271.40 L318.20,271.46 L318.80,271.52 L319.40,271.56 L320.00,271.60 L320.60,271.63 L321.20,271.66 L321.80,271.69 L322.40,271.71 L323.00,271.73 L323.60,271.75 L324.20,271.77 L324.80,271.79 L325.40,271.81 L326.00,271.83 L326.60,271.85 L327.20,271.86 L327.80,271.88 L328.40,271.90 L329.00,271.92 L329.60,271.94 L330.20,271.95 L330.80,271.97 L331.40,271.99 L332.00,272.01 L332.60,272.03 L333.20,272.04 L333.80,272.06 L334.40,272.08 L335.00,272.10 L335.60,272.12 L336.20,272.14 L336.80,272.15 L337.40,272.17 L338.00,272.19 L338.60,272.21 L339.20,272.22 L339.80,272.24 L340.40,272.25 L341.00,272.27 L341.60,272.28 L342.20,272.29 L342.80,272.30 L343.40,272.30 L344.00,272.30 L344.60,272.29 L345.20,272.27 L345.80,272.25 L346.40,272.21 L347.00,272.16 L347.60,272.09 L348.20,271.99 L348.80,271.87 L349.40,271.72 L350.00,271.53 L350.60,271.29 L351.20,271.01 L351.80,270.66 L352.40,270.25 L353.00,269.76 L353.60,269.20 L354.20,268.54 L354.80,267.79 L355.40,266.94 L356.00,265.98 L356.60,264.91 L357.20,263.74 L357.80,262.46 L358.40,261.08 L359.00,259.60 L359.60,258.05 L360.20,256.43 L360.80,254.76 L361.40,253.06 L362.00,251.36 L362.60,249.68 L363.20,248.04 L363.80,246.49 L364.40,245.04 L365.00,243.73 L365.60,242.57 L366.20,241.60 L366.80,240.84 L367.40,240.29 L368.00,239.98 L368.60,239.91 L369.20,240.08 L369.80,240.49 L370.40,241.12 L371.00,241.98 L371.60,243.03 L372.20,244.26 L372.80,245.63 L373.40,247.14 L374.00,248.74 L374.60,250.41 L375.20,252.11 L375.80,253.84 L376.40,255.54 L377.00,257.22 L377.60,258.84 L378.20,260.38 L378.80,261.84 L379.40,263.21 L380.00,264.47 L380.60,265.63 L381.20,266.68 L381.80,267.62 L382.40,268.46 L383.00,269.20 L383.60,269.84 L384.20,270.40 L384.80,270.88 L385.40,271.28 L386.00,271.63 L386.60,271.92 L387.20,272.15 L387.80,272.35 L388.40,272.51 L389.00,272.64 L389.60,272.75 L390.20,272.83 L390.80,272.90 L391.40,272.95 L392.00,272.99 L392.60,273.03 L393.20,273.05 L393.80,273.07 L394.40,273.09 L395.00,273.10 L395.60,273.11 L396.20,273.12 L396.80,273.12 L397.40,273.13 L398.00,273.13 L398.60,273.13 L399.20,273.14 L399.80,273.14 L400.40,273.14 L401.00,273.14 L401.60,273.15 L402.20,273.15 L402.80,273.15 L403.40,273.15 L404.00,273.15 L404.60,273.15 L405.20,273.16 L405.80,273.16 L406.40,273.16 L407.00,273.16 L407.60,273.16 L408.20,273.16 L408.80,273.16 L409.40,273.17 L410.00,273.17 L410.60,273.17 L411.20,273.17 L411.80,273.17 L412.40,273.17 L413.00,273.17 L413.60,273.17 L414.20,273.17 L414.80,273.17 L415.40,273.18 L416.00,273.18 L416.60,273.18 L417.20,273.18 L417.80,273.18 L418.40,273.18 L419.00,273.18 L419.60,273.18 L420.20,273.18 L420.80,273.18 L421.40,273.18 L422.00,273.18 L422.60,273.18 L423.20,273.18 L423.80,273.18 L424.40,273.18 L425.00,273.19 L425.60,273.19 L426.20,273.19 L426.80,273.19 L427.40,273.19 L428.00,273.19 L428.60,273.19 L429.20,273.19 L429.80,273.19 L430.40,273.19 L431.00,273.19 L431.60,273.19 L432.20,273.19 L432.80,273.19 L433.40,273.19 L434.00,273.19 L434.60,273.19 L435.20,273.19 L435.80,273.19 L436.40,273.19 L437.00,273.19 L437.60,273.19 L438.20,273.19 L438.80,273.19 L439.40,273.19 L440.00,273.19 L440.60,273.19 L441.20,273.19 L441.80,273.19 L442.40,273.19 L443.00,273.19 L443.60,273.19 L444.20,273.19 L444.80,273.20 L445.40,273.20 L446.00,273.20 L446.60,273.20 L447.20,273.20 L447.80,273.20 L448.40,273.20 L449.00,273.20 L449.60,273.20 L450.20,273.20 L450.80,273.20 L451.40,273.20 L452.00,273.20 L452.60,273.20 L453.20,273.20 L453.80,273.20 L454.40,273.20 L455.00,273.20 L455.60,273.20 L456.20,273.20 L456.80,273.20 L457.40,273.20 L458.00,273.20 L458.60,273.20 L459.20,273.20 L459.80,273.20 L460.40,273.20" fill="none" stroke="#5cc3f3" stroke-width="1.05" stroke-linejoin="round" />
<path d="M237.80,295.71 L238.40,295.71 L239.00,295.71 L239.60,295.71 L240.20,295.71 L240.80,295.71 L241.40,295.71 L242.00,295.71 L242.60,295.71 L243.20,295.71 L243.80,295.71 L244.40,295.71 L245.00,295.71 L245.60,295.71 L246.20,295.71 L246.80,295.71 L247.40,295.71 L248.00,295.71 L248.60,295.71 L249.20,295.72 L249.80,295.72 L250.40,295.72 L251.00,295.72 L251.60,295.72 L252.20,295.72 L252.80,295.72 L253.40,295.72 L254.00,295.72 L254.60,295.72 L255.20,295.72 L255.80,295.72 L256.40,295.72 L257.00,295.72 L257.60,295.72 L258.20,295.72 L258.80,295.73 L259.40,295.73 L260.00,295.73 L260.60,295.73 L261.20,295.73 L261.80,295.73 L262.40,295.73 L263.00,295.73 L263.60,295.73 L264.20,295.73 L264.80,295.74 L265.40,295.74 L266.00,295.74 L266.60,295.74 L267.20,295.74 L267.80,295.74 L268.40,295.74 L269.00,295.74 L269.60,295.73 L270.20,295.73 L270.80,295.73 L271.40,295.72 L272.00,295.71 L272.60,295.70 L273.20,295.68 L273.80,295.65 L274.40,295.62 L275.00,295.57 L275.60,295.52 L276.20,295.45 L276.80,295.36 L277.40,295.25 L278.00,295.11 L278.60,294.94 L279.20,294.73 L279.80,294.48 L280.40,294.18 L281.00,293.83 L281.60,293.42 L282.20,292.94 L282.80,292.38 L283.40,291.75 L284.00,291.04 L284.60,290.25 L285.20,289.37 L285.80,288.41 L286.40,287.36 L287.00,286.24 L287.60,285.06 L288.20,283.81 L288.80,282.53 L289.40,281.21 L290.00,279.89 L290.60,278.57 L291.20,277.29 L291.80,276.07 L292.40,274.92 L293.00,273.87 L293.60,272.94 L294.20,272.15 L294.80,271.52 L295.40,271.06 L296.00,270.78 L296.60,270.69 L297.20,270.79 L297.80,271.08 L298.40,271.55 L299.00,272.19 L299.60,272.99 L300.20,273.93 L300.80,275.00 L301.40,276.16 L302.00,277.40 L302.60,278.69 L303.20,280.01 L303.80,281.35 L304.40,282.68 L305.00,283.97 L305.60,285.23 L306.20,286.43 L306.80,287.56 L307.40,288.62 L308.00,289.59 L308.60,290.48 L309.20,291.29 L309.80,292.01 L310.40,292.66 L311.00,293.22 L311.60,293.71 L312.20,294.14 L312.80,294.50 L313.40,294.82 L314.00,295.08 L314.60,295.30 L315.20,295.48 L315.80,295.64 L316.40,295.76 L317.00,295.87 L317.60,295.95 L318.20,296.02 L318.80,296.08 L319.40,296.13 L320.00,296.17 L320.60,296.20 L321.20,296.23 L321.80,296.25 L322.40,296.27 L323.00,296.29 L323.60,296.31 L324.20,296.33 L324.80,296.35 L325.40,296.36 L326.00,296.38 L326.60,296.39 L327.20,296.41 L327.80,296.42 L328.40,296.44 L329.00,296.45 L329.60,296.47 L330.20,296.48 L330.80,296.50 L331.40,296.51 L332.00,296.53 L332.60,296.54 L333.20,296.55 L333.80,296.57 L334.40,296.58 L335.00,296.60 L335.60,296.61 L336.20,296.63 L336.80,296.64 L337.40,296.66 L338.00,296.67 L338.60,296.69 L339.20,296.70 L339.80,296.71 L340.40,296.73 L341.00,296.74 L341.60,296.75 L342.20,296.76 L342.80,296.76 L343.40,296.76 L344.00,296.76 L344.60,296.76 L345.20,296.74 L345.80,296.72 L346.40,296.69 L347.00,296.65 L347.60,296.59 L348.20,296.51 L348.80,296.41 L349.40,296.28 L350.00,296.11 L350.60,295.91 L351.20,295.66 L351.80,295.36 L352.40,294.99 L353.00,294.56 L353.60,294.05 L354.20,293.46 L354.80,292.77 L355.40,291.99 L356.00,291.10 L356.60,290.11 L357.20,289.00 L357.80,287.79 L358.40,286.47 L359.00,285.05 L359.60,283.54 L360.20,281.94 L360.80,280.29 L361.40,278.58 L362.00,276.85 L362.60,275.12 L363.20,273.42 L363.80,271.78 L364.40,270.21 L365.00,268.76 L365.60,267.45 L366.20,266.31 L366.80,265.35 L367.40,264.61 L368.00,264.09 L368.60,263.81 L369.20,263.78 L369.80,263.99 L370.40,264.44 L371.00,265.13 L371.60,266.02 L372.20,267.12 L372.80,268.39 L373.40,269.81 L374.00,271.36 L374.60,272.99 L375.20,274.70 L375.80,276.43 L376.40,278.18 L377.00,279.91 L377.60,281.60 L378.20,283.23 L378.80,284.78 L379.40,286.25 L380.00,287.62 L380.60,288.88 L381.20,290.04 L381.80,291.08 L382.40,292.02 L383.00,292.85 L383.60,293.58 L384.20,294.22 L384.80,294.77 L385.40,295.24 L386.00,295.64 L386.60,295.98 L387.20,296.27 L387.80,296.50 L388.40,296.69 L389.00,296.85 L389.60,296.98 L390.20,297.08 L390.80,297.16 L391.40,297.22 L392.00,297.28 L392.60,297.32 L393.20,297.35 L393.80,297.37 L394.40,297.39 L395.00,297.40 L395.60,297.42 L396.20,297.42 L396.80,297.43 L397.40,297.44 L398.00,297.44 L398.60,297.44 L399.20,297.45 L399.80,297.45 L400.40,297.45 L401.00,297.45 L401.60,297.46 L402.20,297.46 L402.80,297.46 L403.40,297.46 L404.00,297.46 L404.60,297.46 L405.20,297.46 L405.80,297.47 L406.40,297.47 L407.00,297.47 L407.60,297.47 L408.20,297.47 L408.80,297.47 L409.40,297.47 L410.00,297.47 L410.60,297.47 L411.20,297.47 L411.80,297.48 L412.40,297.48 L413.00,297.48 L413.60,297.48 L414.20,297.48 L414.80,297.48 L415.40,297.48 L416.00,297.48 L416.60,297.48 L417.20,297.48 L417.80,297.48 L418.40,297.48 L419.00,297.48 L419.60,297.48 L420.20,297.48 L420.80,297.48 L421.40,297.49 L422.00,297.49 L422.60,297.49 L423.20,297.49 L423.80,297.49 L424.40,297.49 L425.00,297.49 L425.60,297.49 L426.20,297.49 L426.80,297.49 L427.40,297.49 L428.00,297.49 L428.60,297.49 L429.20,297.49 L429.80,297.49 L430.40,297.49 L431.00,297.49 L431.60,297.49 L432.20,297.49 L432.80,297.49 L433.40,297.49 L434.00,297.49 L434.60,297.49 L435.20,297.49 L435.80,297.49 L436.40,297.49 L437.00,297.49 L437.60,297.49 L438.20,297.49 L438.80,297.49 L439.40,297.49 L440.00,297.49 L440.60,297.49 L441.20,297.50 L441.80,297.50 L442.40,297.50 L443.00,297.50 L443.60,297.50 L444.20,297.50 L444.80,297.50 L445.40,297.50 L446.00,297.50 L446.60,297.50 L447.20,297.50 L447.80,297.50 L448.40,297.50 L449.00,297.50 L449.60,297.50 L450.20,297.50 L450.80,297.50 L451.40,297.50 L452.00,297.50 L452.60,297.50 L453.20,297.50 L453.80,297.50 L454.40,297.50 L455.00,297.50 L455.60,297.50 L456.20,297.50 L456.80,297.50 L457.40,297.50 L458.00,297.50 L458.60,297.50 L459.20,297.50 L459.80,297.50 L460.40,297.50" fill="none" stroke="#5a5bef" stroke-width="1.05" stroke-linejoin="round" />
<rect x="237.30" y="172.90" width="223.30" height="128.10" fill="none" stroke="#262626" stroke-width="1"/>
<line x1="237.50" y1="301.00" x2="237.50" y2="304.00" stroke="#262626" stroke-width="1" />
<text x="237.50" y="314.00" font-size="8.95" text-anchor="middle" fill="#1a1a1a" >147</text>
<line x1="259.70" y1="301.00" x2="259.70" y2="302.80" stroke="#262626" stroke-width="0.7" />
<line x1="281.90" y1="301.00" x2="281.90" y2="304.00" stroke="#262626" stroke-width="1" />
<text x="281.90" y="314.00" font-size="8.95" text-anchor="middle" fill="#1a1a1a" >144</text>
<line x1="304.10" y1="301.00" x2="304.10" y2="302.80" stroke="#262626" stroke-width="0.7" />
<line x1="326.30" y1="301.00" x2="326.30" y2="304.00" stroke="#262626" stroke-width="1" />
<text x="326.30" y="314.00" font-size="8.95" text-anchor="middle" fill="#1a1a1a" >141</text>
<line x1="348.50" y1="301.00" x2="348.50" y2="302.80" stroke="#262626" stroke-width="0.7" />
<line x1="370.70" y1="301.00" x2="370.70" y2="304.00" stroke="#262626" stroke-width="1" />
<text x="370.70" y="314.00" font-size="8.95" text-anchor="middle" fill="#1a1a1a" >138</text>
<line x1="392.90" y1="301.00" x2="392.90" y2="302.80" stroke="#262626" stroke-width="0.7" />
<line x1="415.10" y1="301.00" x2="415.10" y2="304.00" stroke="#262626" stroke-width="1" />
<text x="415.10" y="314.00" font-size="8.95" text-anchor="middle" fill="#1a1a1a" >135</text>
<line x1="437.30" y1="301.00" x2="437.30" y2="302.80" stroke="#262626" stroke-width="0.7" />
<line x1="459.50" y1="301.00" x2="459.50" y2="304.00" stroke="#262626" stroke-width="1" />
<text x="459.50" y="314.00" font-size="8.95" text-anchor="middle" fill="#1a1a1a" >132</text>
<text x="350.00" y="326.50" font-size="8.95" text-anchor="middle" fill="#1a1a1a" >Binding energy (eV)</text>
<text transform="translate(226.4,237.5) rotate(-90)" font-size="8.95" text-anchor="middle" fill="#1a1a1a">Intensity (arb. units)</text>
<line x1="395.30" y1="181.50" x2="415.60" y2="181.50" stroke="#767676" stroke-width="1.3" />
<text x="418.30" y="184.60" font-size="8.8" text-anchor="start" fill="#1a1a1a" >Pristine</text>
<line x1="395.30" y1="192.37" x2="415.60" y2="192.37" stroke="#1dbdc3" stroke-width="1.3" />
<text x="418.30" y="195.47" font-size="8.8" text-anchor="start" fill="#1a1a1a" >Sky-blue</text>
<line x1="395.30" y1="203.24" x2="415.60" y2="203.24" stroke="#5cc3f3" stroke-width="1.3" />
<text x="418.30" y="206.34" font-size="8.8" text-anchor="start" fill="#1a1a1a" >Pure-blue</text>
<line x1="395.30" y1="214.11" x2="415.60" y2="214.11" stroke="#5a5bef" stroke-width="1.3" />
<text x="418.30" y="217.21" font-size="8.8" text-anchor="start" fill="#1a1a1a" >Deep-blue</text>
<text x="3.00" y="346.80" font-size="11" text-anchor="start" fill="#1a1a1a" font-weight="bold">f</text>
<rect x="97.10" y="388.40" width="46.60" height="62.00" fill="url(#hm0_b)"/>
<rect x="97.10" y="388.40" width="46.60" height="62.00" fill="url(#hm0_t)" mask="url(#hm0_m)"/>
<line x1="97.10" y1="388.65" x2="143.70" y2="388.65" stroke="#202020" stroke-width="0.6" />
<line x1="95.50" y1="401.50" x2="97.10" y2="401.50" stroke="#262626" stroke-width="0.6" />
<text x="94.70" y="403.90" font-size="6.7" text-anchor="end" fill="#1a1a1a" >250</text>
<line x1="95.50" y1="416.50" x2="97.10" y2="416.50" stroke="#262626" stroke-width="0.6" />
<text x="94.70" y="418.90" font-size="6.7" text-anchor="end" fill="#1a1a1a" >200</text>
<line x1="95.50" y1="431.40" x2="97.10" y2="431.40" stroke="#262626" stroke-width="0.6" />
<text x="94.70" y="433.80" font-size="6.7" text-anchor="end" fill="#1a1a1a" >150</text>
<line x1="95.50" y1="445.80" x2="97.10" y2="445.80" stroke="#262626" stroke-width="0.6" />
<text x="94.70" y="448.20" font-size="6.7" text-anchor="end" fill="#1a1a1a" >100</text>
<line x1="106.40" y1="450.40" x2="106.40" y2="452.00" stroke="#262626" stroke-width="0.6" />
<line x1="124.80" y1="450.40" x2="124.80" y2="452.00" stroke="#262626" stroke-width="0.6" />
<line x1="143.20" y1="450.40" x2="143.20" y2="452.00" stroke="#262626" stroke-width="0.6" />
<text x="106.40" y="458.10" font-size="6.7" text-anchor="middle" fill="#1a1a1a" >450</text>
<text x="124.80" y="458.10" font-size="6.7" text-anchor="middle" fill="#1a1a1a" >500</text>
<text x="143.20" y="458.10" font-size="6.7" text-anchor="middle" fill="#1a1a1a" >550</text>
<text x="120.50" y="466.00" font-size="6.7" text-anchor="middle" fill="#1a1a1a" >Wavelength (nm)</text>
<text transform="translate(79.10,419.00) rotate(-90)" font-size="6.7" text-anchor="middle" fill="#1a1a1a">Temperature (K)</text>
<rect x="154.10" y="388.40" width="3.40" height="62.00" fill="url(#cb0)" stroke="#333" stroke-width="0.3"/>
<line x1="157.50" y1="392.60" x2="159.30" y2="392.60" stroke="#262626" stroke-width="0.6" />
<line x1="157.50" y1="450.10" x2="159.30" y2="450.10" stroke="#262626" stroke-width="0.6" />
<line x1="157.50" y1="419.40" x2="158.70" y2="419.40" stroke="#262626" stroke-width="0.5" />
<text x="160.50" y="395.00" font-size="6.7" text-anchor="start" fill="#1a1a1a" >30k</text>
<text x="162.10" y="452.70" font-size="6.7" text-anchor="start" fill="#1a1a1a" >0</text>
<text transform="translate(151.50,419.5) rotate(-90)" font-size="6.7" text-anchor="middle" fill="#1a1a1a">Intensity (arb. units)</text>
<g fill="url(#sg0)" stroke="#7c7c7c" stroke-width="0.4"><circle cx="40.10" cy="459.80" r="2.5"/><circle cx="42.20" cy="454.50" r="2.5"/><circle cx="45.40" cy="451.70" r="2.5"/><circle cx="48.40" cy="442.90" r="2.5"/><circle cx="52.30" cy="428.10" r="2.5"/><circle cx="56.00" cy="416.50" r="2.5"/><circle cx="60.70" cy="407.40" r="2.5"/><circle cx="66.00" cy="389.00" r="2.5"/><circle cx="72.50" cy="385.10" r="2.5"/><circle cx="80.10" cy="380.70" r="2.5"/><circle cx="89.40" cy="371.00" r="2.5"/><circle cx="100.60" cy="363.40" r="2.5"/><circle cx="114.60" cy="369.60" r="2.5"/><circle cx="133.10" cy="361.70" r="2.5"/><circle cx="157.70" cy="367.30" r="2.5"/></g>
<path d="M40.10,464.02 L40.84,461.50 L41.58,459.00 L42.32,456.53 L43.06,454.08 L43.80,451.66 L44.54,449.27 L45.28,446.92 L46.02,444.59 L46.76,442.30 L47.50,440.05 L48.24,437.83 L48.98,435.65 L49.72,433.51 L50.45,431.40 L51.19,429.34 L51.93,427.32 L52.67,425.33 L53.41,423.39 L54.15,421.49 L54.89,419.64 L55.63,417.82 L56.37,416.05 L57.11,414.31 L57.85,412.62 L58.59,410.98 L59.33,409.37 L60.07,407.80 L60.81,406.28 L61.55,404.80 L62.29,403.35 L63.03,401.95 L63.77,400.59 L64.51,399.26 L65.25,397.97 L65.99,396.72 L66.73,395.51 L67.47,394.34 L68.21,393.20 L68.95,392.09 L69.68,391.02 L70.42,389.99 L71.16,388.98 L71.90,388.01 L72.64,387.07 L73.38,386.16 L74.12,385.28 L74.86,384.43 L75.60,383.61 L76.34,382.82 L77.08,382.05 L77.82,381.31 L78.56,380.59 L79.30,379.90 L80.04,379.24 L80.78,378.59 L81.52,377.97 L82.26,377.38 L83.00,376.80 L83.74,376.24 L84.48,375.71 L85.22,375.19 L85.96,374.69 L86.70,374.21 L87.44,373.75 L88.18,373.31 L88.92,372.88 L89.65,372.46 L90.39,372.07 L91.13,371.68 L91.87,371.32 L92.61,370.96 L93.35,370.62 L94.09,370.29 L94.83,369.98 L95.57,369.67 L96.31,369.38 L97.05,369.10 L97.79,368.83 L98.53,368.57 L99.27,368.32 L100.01,368.08 L100.75,367.85 L101.49,367.63 L102.23,367.41 L102.97,367.21 L103.71,367.01 L104.45,366.82 L105.19,366.64 L105.93,366.46 L106.67,366.29 L107.41,366.13 L108.15,365.98 L108.88,365.83 L109.62,365.68 L110.36,365.55 L111.10,365.41 L111.84,365.29 L112.58,365.16 L113.32,365.05 L114.06,364.93 L114.80,364.82 L115.54,364.72 L116.28,364.62 L117.02,364.52 L117.76,364.43 L118.50,364.34 L119.24,364.26 L119.98,364.18 L120.72,364.10 L121.46,364.02 L122.20,363.95 L122.94,363.88 L123.68,363.82 L124.42,363.75 L125.16,363.69 L125.90,363.63 L126.64,363.57 L127.38,363.52 L128.12,363.47 L128.85,363.42 L129.59,363.37 L130.33,363.32 L131.07,363.28 L131.81,363.24 L132.55,363.20 L133.29,363.16 L134.03,363.12 L134.77,363.08 L135.51,363.05 L136.25,363.01 L136.99,362.98 L137.73,362.95 L138.47,362.92 L139.21,362.89 L139.95,362.87 L140.69,362.84 L141.43,362.82 L142.17,362.79 L142.91,362.77 L143.65,362.75 L144.39,362.73 L145.13,362.71 L145.87,362.69 L146.61,362.67 L147.35,362.65 L148.08,362.63 L148.82,362.62 L149.56,362.60 L150.30,362.58 L151.04,362.57 L151.78,362.56 L152.52,362.54 L153.26,362.53 L154.00,362.52 L154.74,362.50 L155.48,362.49 L156.22,362.48 L156.96,362.47 L157.70,362.46" fill="none" stroke="#7c7c7c" stroke-width="1.0" stroke-linejoin="round" />
<rect x="34.30" y="342.70" width="141.40" height="128.30" fill="none" stroke="#262626" stroke-width="1"/>
<line x1="34.30" y1="351.90" x2="37.50" y2="351.90" stroke="#262626" stroke-width="1" />
<text x="32.70" y="355.00" font-size="8.95" text-anchor="end" fill="#1a1a1a" >32.0k</text>
<line x1="34.30" y1="388.40" x2="37.50" y2="388.40" stroke="#262626" stroke-width="1" />
<text x="32.70" y="391.50" font-size="8.95" text-anchor="end" fill="#1a1a1a" >28.0k</text>
<line x1="34.30" y1="424.90" x2="37.50" y2="424.90" stroke="#262626" stroke-width="1" />
<text x="32.70" y="428.00" font-size="8.95" text-anchor="end" fill="#1a1a1a" >24.0k</text>
<line x1="34.30" y1="461.40" x2="37.50" y2="461.40" stroke="#262626" stroke-width="1" />
<text x="32.70" y="464.50" font-size="8.95" text-anchor="end" fill="#1a1a1a" >20.0k</text>
<line x1="34.30" y1="370.15" x2="36.20" y2="370.15" stroke="#262626" stroke-width="0.8" />
<line x1="34.30" y1="406.65" x2="36.20" y2="406.65" stroke="#262626" stroke-width="0.8" />
<line x1="34.30" y1="443.15" x2="36.20" y2="443.15" stroke="#262626" stroke-width="0.8" />
<line x1="34.30" y1="471.00" x2="34.30" y2="472.80" stroke="#262626" stroke-width="0.7" />
<line x1="48.44" y1="471.00" x2="48.44" y2="474.00" stroke="#262626" stroke-width="1" />
<text x="48.44" y="483.50" font-size="8.95" text-anchor="middle" fill="#1a1a1a" >0.004</text>
<line x1="62.58" y1="471.00" x2="62.58" y2="472.80" stroke="#262626" stroke-width="0.7" />
<line x1="76.72" y1="471.00" x2="76.72" y2="474.00" stroke="#262626" stroke-width="1" />
<text x="76.72" y="483.50" font-size="8.95" text-anchor="middle" fill="#1a1a1a" >0.006</text>
<line x1="90.86" y1="471.00" x2="90.86" y2="472.80" stroke="#262626" stroke-width="0.7" />
<line x1="105.00" y1="471.00" x2="105.00" y2="474.00" stroke="#262626" stroke-width="1" />
<text x="105.00" y="483.50" font-size="8.95" text-anchor="middle" fill="#1a1a1a" >0.008</text>
<line x1="119.14" y1="471.00" x2="119.14" y2="472.80" stroke="#262626" stroke-width="0.7" />
<line x1="133.28" y1="471.00" x2="133.28" y2="474.00" stroke="#262626" stroke-width="1" />
<text x="133.28" y="483.50" font-size="8.95" text-anchor="middle" fill="#1a1a1a" >0.010</text>
<line x1="147.42" y1="471.00" x2="147.42" y2="472.80" stroke="#262626" stroke-width="0.7" />
<line x1="161.56" y1="471.00" x2="161.56" y2="474.00" stroke="#262626" stroke-width="1" />
<text x="161.56" y="483.50" font-size="8.95" text-anchor="middle" fill="#1a1a1a" >0.012</text>
<line x1="175.70" y1="471.00" x2="175.70" y2="472.80" stroke="#262626" stroke-width="0.7" />
<text x="103.60" y="497.80" font-size="8.95" text-anchor="middle" fill="#1a1a1a" >1/T (K<tspan font-size="5.4" dy="-3.3">-1</tspan><tspan dy="3.3">)</tspan></text>
<circle cx="46.60" cy="348.5" r="2.5" fill="url(#sg0)" stroke="#7c7c7c" stroke-width="0.4"/>
<text x="59.80" y="351.60" font-size="8.8" text-anchor="start" fill="#1a1a1a" >Pristine</text>
<line x1="37.30" y1="359.60" x2="56.30" y2="359.60" stroke="#7c7c7c" stroke-width="1.3" />
<text x="59.80" y="362.70" font-size="8.8" text-anchor="start" fill="#1a1a1a" >Fitting curve</text>
<text x="109.70" y="353.8" font-size="9.0" fill="#8c8c8c"><tspan font-style="italic">E</tspan><tspan font-size="5.8" dy="2.6">b</tspan><tspan dy="-2.6"> = 67.83 meV</tspan></text>
<rect x="263.10" y="388.40" width="46.60" height="61.90" fill="url(#hm1_b)"/>
<rect x="263.10" y="388.40" width="46.60" height="61.90" fill="url(#hm1_t)" mask="url(#hm1_m)"/>
<line x1="263.10" y1="388.65" x2="309.70" y2="388.65" stroke="#202020" stroke-width="0.6" />
<line x1="261.50" y1="401.50" x2="263.10" y2="401.50" stroke="#262626" stroke-width="0.6" />
<text x="260.70" y="403.90" font-size="6.7" text-anchor="end" fill="#1a1a1a" >250</text>
<line x1="261.50" y1="416.50" x2="263.10" y2="416.50" stroke="#262626" stroke-width="0.6" />
<text x="260.70" y="418.90" font-size="6.7" text-anchor="end" fill="#1a1a1a" >200</text>
<line x1="261.50" y1="431.40" x2="263.10" y2="431.40" stroke="#262626" stroke-width="0.6" />
<text x="260.70" y="433.80" font-size="6.7" text-anchor="end" fill="#1a1a1a" >150</text>
<line x1="261.50" y1="445.80" x2="263.10" y2="445.80" stroke="#262626" stroke-width="0.6" />
<text x="260.70" y="448.20" font-size="6.7" text-anchor="end" fill="#1a1a1a" >100</text>
<line x1="273.80" y1="450.30" x2="273.80" y2="451.90" stroke="#262626" stroke-width="0.6" />
<line x1="291.30" y1="450.30" x2="291.30" y2="451.90" stroke="#262626" stroke-width="0.6" />
<line x1="309.20" y1="450.30" x2="309.20" y2="451.90" stroke="#262626" stroke-width="0.6" />
<text x="273.80" y="458.00" font-size="6.7" text-anchor="middle" fill="#1a1a1a" >450</text>
<text x="291.30" y="458.00" font-size="6.7" text-anchor="middle" fill="#1a1a1a" >500</text>
<text x="309.20" y="458.00" font-size="6.7" text-anchor="middle" fill="#1a1a1a" >550</text>
<text x="286.50" y="465.90" font-size="6.7" text-anchor="middle" fill="#1a1a1a" >Wavelength (nm)</text>
<text transform="translate(245.10,419.00) rotate(-90)" font-size="6.7" text-anchor="middle" fill="#1a1a1a">Temperature (K)</text>
<rect x="320.30" y="388.40" width="3.10" height="61.90" fill="url(#cb1)" stroke="#333" stroke-width="0.3"/>
<line x1="323.40" y1="392.50" x2="325.20" y2="392.50" stroke="#262626" stroke-width="0.6" />
<line x1="323.40" y1="450.00" x2="325.20" y2="450.00" stroke="#262626" stroke-width="0.6" />
<line x1="323.40" y1="419.35" x2="324.60" y2="419.35" stroke="#262626" stroke-width="0.5" />
<text x="326.40" y="394.90" font-size="6.7" text-anchor="start" fill="#1a1a1a" >12k</text>
<text x="328.00" y="452.60" font-size="6.7" text-anchor="start" fill="#1a1a1a" >0</text>
<text transform="translate(317.70,419.5) rotate(-90)" font-size="6.7" text-anchor="middle" fill="#1a1a1a">Intensity (arb. units)</text>
<g fill="url(#sg1)" stroke="#1dbdc3" stroke-width="0.4"><circle cx="205.60" cy="460.10" r="2.5"/><circle cx="207.70" cy="451.40" r="2.5"/><circle cx="210.50" cy="443.10" r="2.5"/><circle cx="214.00" cy="436.90" r="2.5"/><circle cx="217.00" cy="423.50" r="2.5"/><circle cx="221.00" cy="416.60" r="2.5"/><circle cx="225.30" cy="405.30" r="2.5"/><circle cx="230.20" cy="392.80" r="2.5"/><circle cx="236.50" cy="389.00" r="2.5"/><circle cx="243.90" cy="382.80" r="2.5"/><circle cx="252.20" cy="371.70" r="2.5"/><circle cx="262.70" cy="367.80" r="2.5"/><circle cx="275.60" cy="364.70" r="2.5"/><circle cx="292.20" cy="363.10" r="2.5"/><circle cx="314.30" cy="361.30" r="2.5"/></g>
<path d="M205.00,459.12 L205.69,457.41 L206.37,455.67 L207.06,453.90 L207.75,452.11 L208.44,450.29 L209.12,448.46 L209.81,446.61 L210.50,444.74 L211.19,442.87 L211.87,440.98 L212.56,439.09 L213.25,437.19 L213.94,435.29 L214.62,433.39 L215.31,431.49 L216.00,429.60 L216.69,427.72 L217.37,425.85 L218.06,423.99 L218.75,422.15 L219.44,420.33 L220.12,418.53 L220.81,416.75 L221.50,415.00 L222.19,413.28 L222.87,411.58 L223.56,409.92 L224.25,408.28 L224.94,406.68 L225.62,405.11 L226.31,403.58 L227.00,402.09 L227.68,400.63 L228.37,399.21 L229.06,397.83 L229.75,396.48 L230.43,395.18 L231.12,393.91 L231.81,392.69 L232.50,391.50 L233.18,390.35 L233.87,389.24 L234.56,388.16 L235.25,387.13 L235.93,386.13 L236.62,385.16 L237.31,384.24 L238.00,383.34 L238.68,382.48 L239.37,381.66 L240.06,380.87 L240.75,380.11 L241.43,379.38 L242.12,378.68 L242.81,378.01 L243.50,377.36 L244.18,376.75 L244.87,376.16 L245.56,375.60 L246.25,375.06 L246.93,374.54 L247.62,374.05 L248.31,373.58 L248.99,373.13 L249.68,372.71 L250.37,372.30 L251.06,371.91 L251.74,371.54 L252.43,371.18 L253.12,370.84 L253.81,370.52 L254.49,370.22 L255.18,369.92 L255.87,369.65 L256.56,369.38 L257.24,369.13 L257.93,368.89 L258.62,368.66 L259.31,368.45 L259.99,368.24 L260.68,368.04 L261.37,367.86 L262.06,367.68 L262.74,367.51 L263.43,367.35 L264.12,367.20 L264.81,367.06 L265.49,366.92 L266.18,366.79 L266.87,366.66 L267.56,366.55 L268.24,366.43 L268.93,366.33 L269.62,366.23 L270.31,366.13 L270.99,366.04 L271.68,365.95 L272.37,365.87 L273.05,365.79 L273.74,365.72 L274.43,365.65 L275.12,365.58 L275.80,365.52 L276.49,365.46 L277.18,365.40 L277.87,365.35 L278.55,365.30 L279.24,365.25 L279.93,365.20 L280.62,365.16 L281.30,365.12 L281.99,365.08 L282.68,365.04 L283.37,365.01 L284.05,364.97 L284.74,364.94 L285.43,364.91 L286.12,364.88 L286.80,364.85 L287.49,364.83 L288.18,364.80 L288.87,364.78 L289.55,364.76 L290.24,364.74 L290.93,364.72 L291.62,364.70 L292.30,364.68 L292.99,364.66 L293.68,364.65 L294.36,364.63 L295.05,364.62 L295.74,364.60 L296.43,364.59 L297.11,364.58 L297.80,364.57 L298.49,364.56 L299.18,364.55 L299.86,364.54 L300.55,364.53 L301.24,364.52 L301.93,364.51 L302.61,364.50 L303.30,364.49 L303.99,364.49 L304.68,364.48 L305.36,364.47 L306.05,364.47 L306.74,364.46 L307.43,364.45 L308.11,364.45 L308.80,364.44 L309.49,364.44 L310.18,364.43 L310.86,364.43 L311.55,364.43 L312.24,364.42 L312.93,364.42 L313.61,364.42 L314.30,364.41" fill="none" stroke="#1dbdc3" stroke-width="1.0" stroke-linejoin="round" />
<rect x="200.80" y="342.70" width="140.80" height="128.30" fill="none" stroke="#262626" stroke-width="1"/>
<line x1="200.80" y1="347.60" x2="204.00" y2="347.60" stroke="#262626" stroke-width="1" />
<text x="199.20" y="350.70" font-size="8.95" text-anchor="end" fill="#1a1a1a" >14.0k</text>
<line x1="200.80" y1="368.94" x2="204.00" y2="368.94" stroke="#262626" stroke-width="1" />
<text x="199.20" y="372.04" font-size="8.95" text-anchor="end" fill="#1a1a1a" >12.0k</text>
<line x1="200.80" y1="390.28" x2="204.00" y2="390.28" stroke="#262626" stroke-width="1" />
<text x="199.20" y="393.38" font-size="8.95" text-anchor="end" fill="#1a1a1a" >10.0k</text>
<line x1="200.80" y1="411.62" x2="204.00" y2="411.62" stroke="#262626" stroke-width="1" />
<text x="199.20" y="414.72" font-size="8.95" text-anchor="end" fill="#1a1a1a" >8.0k</text>
<line x1="200.80" y1="432.96" x2="204.00" y2="432.96" stroke="#262626" stroke-width="1" />
<text x="199.20" y="436.06" font-size="8.95" text-anchor="end" fill="#1a1a1a" >6.0k</text>
<line x1="200.80" y1="454.30" x2="204.00" y2="454.30" stroke="#262626" stroke-width="1" />
<text x="199.20" y="457.40" font-size="8.95" text-anchor="end" fill="#1a1a1a" >4.0k</text>
<line x1="200.80" y1="358.27" x2="202.70" y2="358.27" stroke="#262626" stroke-width="0.8" />
<line x1="200.80" y1="379.61" x2="202.70" y2="379.61" stroke="#262626" stroke-width="0.8" />
<line x1="200.80" y1="400.95" x2="202.70" y2="400.95" stroke="#262626" stroke-width="0.8" />
<line x1="200.80" y1="422.29" x2="202.70" y2="422.29" stroke="#262626" stroke-width="0.8" />
<line x1="200.80" y1="443.63" x2="202.70" y2="443.63" stroke="#262626" stroke-width="0.8" />
<line x1="200.80" y1="471.00" x2="200.80" y2="472.80" stroke="#262626" stroke-width="0.7" />
<line x1="214.88" y1="471.00" x2="214.88" y2="474.00" stroke="#262626" stroke-width="1" />
<text x="214.88" y="483.50" font-size="8.95" text-anchor="middle" fill="#1a1a1a" >0.004</text>
<line x1="228.96" y1="471.00" x2="228.96" y2="472.80" stroke="#262626" stroke-width="0.7" />
<line x1="243.04" y1="471.00" x2="243.04" y2="474.00" stroke="#262626" stroke-width="1" />
<text x="243.04" y="483.50" font-size="8.95" text-anchor="middle" fill="#1a1a1a" >0.006</text>
<line x1="257.12" y1="471.00" x2="257.12" y2="472.80" stroke="#262626" stroke-width="0.7" />
<line x1="271.20" y1="471.00" x2="271.20" y2="474.00" stroke="#262626" stroke-width="1" />
<text x="271.20" y="483.50" font-size="8.95" text-anchor="middle" fill="#1a1a1a" >0.008</text>
<line x1="285.28" y1="471.00" x2="285.28" y2="472.80" stroke="#262626" stroke-width="0.7" />
<line x1="299.36" y1="471.00" x2="299.36" y2="474.00" stroke="#262626" stroke-width="1" />
<text x="299.36" y="483.50" font-size="8.95" text-anchor="middle" fill="#1a1a1a" >0.010</text>
<line x1="313.44" y1="471.00" x2="313.44" y2="472.80" stroke="#262626" stroke-width="0.7" />
<line x1="327.52" y1="471.00" x2="327.52" y2="474.00" stroke="#262626" stroke-width="1" />
<text x="327.52" y="483.50" font-size="8.95" text-anchor="middle" fill="#1a1a1a" >0.012</text>
<line x1="341.60" y1="471.00" x2="341.60" y2="472.80" stroke="#262626" stroke-width="0.7" />
<text x="269.80" y="497.80" font-size="8.95" text-anchor="middle" fill="#1a1a1a" >1/T (K<tspan font-size="5.4" dy="-3.3">-1</tspan><tspan dy="3.3">)</tspan></text>
<circle cx="214.40" cy="348.5" r="2.5" fill="url(#sg1)" stroke="#1dbdc3" stroke-width="0.4"/>
<text x="226.70" y="351.60" font-size="8.8" text-anchor="start" fill="#1a1a1a" >Sky-blue</text>
<line x1="204.70" y1="359.60" x2="224.00" y2="359.60" stroke="#1dbdc3" stroke-width="1.3" />
<text x="226.70" y="362.70" font-size="8.8" text-anchor="start" fill="#1a1a1a" >Fitting curve</text>
<text x="276.80" y="353.8" font-size="9.0" fill="#1dbdc3"><tspan font-style="italic">E</tspan><tspan font-size="5.8" dy="2.6">b</tspan><tspan dy="-2.6"> = 93.81 meV</tspan></text>
<rect x="428.40" y="388.40" width="47.00" height="62.10" fill="url(#hm2_b)"/>
<rect x="428.40" y="388.40" width="47.00" height="62.10" fill="url(#hm2_t)" mask="url(#hm2_m)"/>
<line x1="428.40" y1="388.65" x2="475.40" y2="388.65" stroke="#202020" stroke-width="0.6" />
<line x1="426.80" y1="401.50" x2="428.40" y2="401.50" stroke="#262626" stroke-width="0.6" />
<text x="426.00" y="403.90" font-size="6.7" text-anchor="end" fill="#1a1a1a" >250</text>
<line x1="426.80" y1="416.50" x2="428.40" y2="416.50" stroke="#262626" stroke-width="0.6" />
<text x="426.00" y="418.90" font-size="6.7" text-anchor="end" fill="#1a1a1a" >200</text>
<line x1="426.80" y1="431.40" x2="428.40" y2="431.40" stroke="#262626" stroke-width="0.6" />
<text x="426.00" y="433.80" font-size="6.7" text-anchor="end" fill="#1a1a1a" >150</text>
<line x1="426.80" y1="445.80" x2="428.40" y2="445.80" stroke="#262626" stroke-width="0.6" />
<text x="426.00" y="448.20" font-size="6.7" text-anchor="end" fill="#1a1a1a" >100</text>
<line x1="437.90" y1="450.50" x2="437.90" y2="452.10" stroke="#262626" stroke-width="0.6" />
<line x1="456.30" y1="450.50" x2="456.30" y2="452.10" stroke="#262626" stroke-width="0.6" />
<line x1="474.70" y1="450.50" x2="474.70" y2="452.10" stroke="#262626" stroke-width="0.6" />
<text x="437.90" y="458.20" font-size="6.7" text-anchor="middle" fill="#1a1a1a" >450</text>
<text x="456.30" y="458.20" font-size="6.7" text-anchor="middle" fill="#1a1a1a" >500</text>
<text x="474.70" y="458.20" font-size="6.7" text-anchor="middle" fill="#1a1a1a" >550</text>
<text x="452.10" y="466.10" font-size="6.7" text-anchor="middle" fill="#1a1a1a" >Wavelength (nm)</text>
<text transform="translate(410.40,419.00) rotate(-90)" font-size="6.7" text-anchor="middle" fill="#1a1a1a">Temperature (K)</text>
<rect x="486.70" y="388.40" width="3.40" height="62.10" fill="url(#cb2)" stroke="#333" stroke-width="0.3"/>
<line x1="490.10" y1="389.80" x2="491.90" y2="389.80" stroke="#262626" stroke-width="0.6" />
<line x1="490.10" y1="450.20" x2="491.90" y2="450.20" stroke="#262626" stroke-width="0.6" />
<line x1="490.10" y1="419.45" x2="491.30" y2="419.45" stroke="#262626" stroke-width="0.5" />
<text x="493.10" y="392.20" font-size="6.7" text-anchor="start" fill="#1a1a1a" >1k</text>
<text x="494.70" y="452.80" font-size="6.7" text-anchor="start" fill="#1a1a1a" >0</text>
<text transform="translate(484.10,419.5) rotate(-90)" font-size="6.7" text-anchor="middle" fill="#1a1a1a">Intensity (arb. units)</text>
<g fill="url(#sg2)" stroke="#56bff2" stroke-width="0.4"><circle cx="371.30" cy="457.20" r="2.5"/><circle cx="374.10" cy="447.00" r="2.5"/><circle cx="376.70" cy="439.60" r="2.5"/><circle cx="380.30" cy="423.20" r="2.5"/><circle cx="383.60" cy="416.20" r="2.5"/><circle cx="387.30" cy="400.90" r="2.5"/><circle cx="391.70" cy="389.00" r="2.5"/><circle cx="396.80" cy="372.80" r="2.5"/><circle cx="402.80" cy="364.50" r="2.5"/><circle cx="409.60" cy="363.20" r="2.5"/><circle cx="418.50" cy="367.80" r="2.5"/><circle cx="429.00" cy="364.70" r="2.5"/><circle cx="441.90" cy="368.40" r="2.5"/><circle cx="459.00" cy="368.70" r="2.5"/><circle cx="481.00" cy="373.10" r="2.5"/><circle cx="500.30" cy="372.60" r="2.5"/></g>
<path d="M371.00,459.70 L371.81,456.72 L372.63,453.67 L373.44,450.56 L374.25,447.39 L375.07,444.19 L375.88,440.95 L376.69,437.70 L377.51,434.45 L378.32,431.21 L379.13,428.00 L379.95,424.83 L380.76,421.71 L381.57,418.65 L382.38,415.66 L383.20,412.75 L384.01,409.94 L384.82,407.22 L385.64,404.60 L386.45,402.10 L387.26,399.70 L388.08,397.42 L388.89,395.25 L389.70,393.19 L390.52,391.25 L391.33,389.42 L392.14,387.70 L392.96,386.08 L393.77,384.57 L394.58,383.15 L395.40,381.83 L396.21,380.60 L397.02,379.46 L397.84,378.40 L398.65,377.42 L399.46,376.51 L400.28,375.66 L401.09,374.89 L401.90,374.17 L402.72,373.51 L403.53,372.89 L404.34,372.33 L405.15,371.81 L405.97,371.34 L406.78,370.90 L407.59,370.50 L408.41,370.13 L409.22,369.79 L410.03,369.48 L410.85,369.20 L411.66,368.94 L412.47,368.70 L413.29,368.48 L414.10,368.28 L414.91,368.10 L415.73,367.93 L416.54,367.78 L417.35,367.64 L418.17,367.51 L418.98,367.39 L419.79,367.29 L420.61,367.19 L421.42,367.10 L422.23,367.02 L423.05,366.94 L423.86,366.87 L424.67,366.81 L425.48,366.75 L426.30,366.70 L427.11,366.65 L427.92,366.61 L428.74,366.57 L429.55,366.53 L430.36,366.50 L431.18,366.47 L431.99,366.44 L432.80,366.42 L433.62,366.40 L434.43,366.37 L435.24,366.36 L436.06,366.34 L436.87,366.32 L437.68,366.31 L438.50,366.29 L439.31,366.28 L440.12,366.27 L440.94,366.26 L441.75,366.25 L442.56,366.24 L443.38,366.23 L444.19,366.23 L445.00,366.22 L445.82,366.22 L446.63,366.21 L447.44,366.20 L448.25,366.20 L449.07,366.20 L449.88,366.19 L450.69,366.19 L451.51,366.19 L452.32,366.18 L453.13,366.18 L453.95,366.18 L454.76,366.18 L455.57,366.17 L456.39,366.17 L457.20,366.17 L458.01,366.17 L458.83,366.17 L459.64,366.17 L460.45,366.17 L461.27,366.16 L462.08,366.16 L462.89,366.16 L463.71,366.16 L464.52,366.16 L465.33,366.16 L466.15,366.16 L466.96,366.16 L467.77,366.16 L468.58,366.16 L469.40,366.16 L470.21,366.16 L471.02,366.16 L471.84,366.16 L472.65,366.16 L473.46,366.16 L474.28,366.16 L475.09,366.16 L475.90,366.16 L476.72,366.16 L477.53,366.16 L478.34,366.16 L479.16,366.16 L479.97,366.15 L480.78,366.15 L481.60,366.15 L482.41,366.15 L483.22,366.15 L484.04,366.15 L484.85,366.15 L485.66,366.15 L486.48,366.15 L487.29,366.15 L488.10,366.15 L488.92,366.15 L489.73,366.15 L490.54,366.15 L491.35,366.15 L492.17,366.15 L492.98,366.15 L493.79,366.15 L494.61,366.15 L495.42,366.15 L496.23,366.15 L497.05,366.15 L497.86,366.15 L498.67,366.15 L499.49,366.15 L500.30,366.15" fill="none" stroke="#5cc3f3" stroke-width="1.0" stroke-linejoin="round" />
<rect x="367.40" y="342.70" width="140.30" height="128.30" fill="none" stroke="#262626" stroke-width="1"/>
<line x1="367.40" y1="362.60" x2="370.60" y2="362.60" stroke="#262626" stroke-width="1" />
<text x="365.80" y="365.70" font-size="8.95" text-anchor="end" fill="#1a1a1a" >1.0k</text>
<line x1="367.40" y1="395.86" x2="370.60" y2="395.86" stroke="#262626" stroke-width="1" />
<text x="365.80" y="398.96" font-size="8.95" text-anchor="end" fill="#1a1a1a" >800.0</text>
<line x1="367.40" y1="429.12" x2="370.60" y2="429.12" stroke="#262626" stroke-width="1" />
<text x="365.80" y="432.22" font-size="8.95" text-anchor="end" fill="#1a1a1a" >600.0</text>
<line x1="367.40" y1="462.38" x2="370.60" y2="462.38" stroke="#262626" stroke-width="1" />
<text x="365.80" y="465.48" font-size="8.95" text-anchor="end" fill="#1a1a1a" >400.0</text>
<line x1="367.40" y1="379.23" x2="369.30" y2="379.23" stroke="#262626" stroke-width="0.8" />
<line x1="367.40" y1="412.49" x2="369.30" y2="412.49" stroke="#262626" stroke-width="0.8" />
<line x1="367.40" y1="445.75" x2="369.30" y2="445.75" stroke="#262626" stroke-width="0.8" />
<line x1="367.40" y1="471.00" x2="367.40" y2="472.80" stroke="#262626" stroke-width="0.7" />
<line x1="381.43" y1="471.00" x2="381.43" y2="474.00" stroke="#262626" stroke-width="1" />
<text x="381.43" y="483.50" font-size="8.95" text-anchor="middle" fill="#1a1a1a" >0.004</text>
<line x1="395.46" y1="471.00" x2="395.46" y2="472.80" stroke="#262626" stroke-width="0.7" />
<line x1="409.49" y1="471.00" x2="409.49" y2="474.00" stroke="#262626" stroke-width="1" />
<text x="409.49" y="483.50" font-size="8.95" text-anchor="middle" fill="#1a1a1a" >0.006</text>
<line x1="423.52" y1="471.00" x2="423.52" y2="472.80" stroke="#262626" stroke-width="0.7" />
<line x1="437.55" y1="471.00" x2="437.55" y2="474.00" stroke="#262626" stroke-width="1" />
<text x="437.55" y="483.50" font-size="8.95" text-anchor="middle" fill="#1a1a1a" >0.008</text>
<line x1="451.58" y1="471.00" x2="451.58" y2="472.80" stroke="#262626" stroke-width="0.7" />
<line x1="465.61" y1="471.00" x2="465.61" y2="474.00" stroke="#262626" stroke-width="1" />
<text x="465.61" y="483.50" font-size="8.95" text-anchor="middle" fill="#1a1a1a" >0.010</text>
<line x1="479.64" y1="471.00" x2="479.64" y2="472.80" stroke="#262626" stroke-width="0.7" />
<line x1="493.67" y1="471.00" x2="493.67" y2="474.00" stroke="#262626" stroke-width="1" />
<text x="493.67" y="483.50" font-size="8.95" text-anchor="middle" fill="#1a1a1a" >0.012</text>
<line x1="507.70" y1="471.00" x2="507.70" y2="472.80" stroke="#262626" stroke-width="0.7" />
<text x="436.15" y="497.80" font-size="8.95" text-anchor="middle" fill="#1a1a1a" >1/T (K<tspan font-size="5.4" dy="-3.3">-1</tspan><tspan dy="3.3">)</tspan></text>
<circle cx="379.70" cy="348.5" r="2.5" fill="url(#sg2)" stroke="#56bff2" stroke-width="0.4"/>
<text x="393.00" y="351.60" font-size="8.8" text-anchor="start" fill="#1a1a1a" >Pure-blue</text>
<line x1="370.00" y1="359.60" x2="389.40" y2="359.60" stroke="#5cc3f3" stroke-width="1.3" />
<text x="393.00" y="362.70" font-size="8.8" text-anchor="start" fill="#1a1a1a" >Fitting curve</text>
<text x="437.80" y="353.8" font-size="9.0" fill="#6cc6f5"><tspan font-style="italic">E</tspan><tspan font-size="5.8" dy="2.6">b</tspan><tspan dy="-2.6"> = 135.62 meV</tspan></text>
<rect x="594.40" y="388.40" width="46.10" height="60.60" fill="url(#hm3_b)"/>
<rect x="594.40" y="388.40" width="46.10" height="60.60" fill="url(#hm3_t)" mask="url(#hm3_m)"/>
<line x1="594.40" y1="388.65" x2="640.50" y2="388.65" stroke="#202020" stroke-width="0.6" />
<line x1="592.80" y1="400.20" x2="594.40" y2="400.20" stroke="#262626" stroke-width="0.6" />
<text x="592.00" y="402.60" font-size="6.7" text-anchor="end" fill="#1a1a1a" >250</text>
<line x1="592.80" y1="415.20" x2="594.40" y2="415.20" stroke="#262626" stroke-width="0.6" />
<text x="592.00" y="417.60" font-size="6.7" text-anchor="end" fill="#1a1a1a" >200</text>
<line x1="592.80" y1="430.10" x2="594.40" y2="430.10" stroke="#262626" stroke-width="0.6" />
<text x="592.00" y="432.50" font-size="6.7" text-anchor="end" fill="#1a1a1a" >150</text>
<line x1="592.80" y1="444.50" x2="594.40" y2="444.50" stroke="#262626" stroke-width="0.6" />
<text x="592.00" y="446.90" font-size="6.7" text-anchor="end" fill="#1a1a1a" >100</text>
<line x1="603.40" y1="449.00" x2="603.40" y2="450.60" stroke="#262626" stroke-width="0.6" />
<line x1="621.80" y1="449.00" x2="621.80" y2="450.60" stroke="#262626" stroke-width="0.6" />
<line x1="640.20" y1="449.00" x2="640.20" y2="450.60" stroke="#262626" stroke-width="0.6" />
<text x="603.40" y="456.70" font-size="6.7" text-anchor="middle" fill="#1a1a1a" >450</text>
<text x="621.80" y="456.70" font-size="6.7" text-anchor="middle" fill="#1a1a1a" >500</text>
<text x="640.20" y="456.70" font-size="6.7" text-anchor="middle" fill="#1a1a1a" >550</text>
<text x="617.50" y="464.60" font-size="6.7" text-anchor="middle" fill="#1a1a1a" >Wavelength (nm)</text>
<text transform="translate(576.40,417.70) rotate(-90)" font-size="6.7" text-anchor="middle" fill="#1a1a1a">Temperature (K)</text>
<rect x="650.50" y="388.40" width="3.50" height="60.60" fill="url(#cb3)" stroke="#333" stroke-width="0.3"/>
<line x1="654.00" y1="388.60" x2="655.80" y2="388.60" stroke="#262626" stroke-width="0.6" />
<line x1="654.00" y1="448.70" x2="655.80" y2="448.70" stroke="#262626" stroke-width="0.6" />
<line x1="654.00" y1="418.70" x2="655.20" y2="418.70" stroke="#262626" stroke-width="0.5" />
<text x="657.00" y="391.00" font-size="6.7" text-anchor="start" fill="#1a1a1a" >23k</text>
<text x="658.60" y="451.30" font-size="6.7" text-anchor="start" fill="#1a1a1a" >0</text>
<text transform="translate(647.90,419.5) rotate(-90)" font-size="6.7" text-anchor="middle" fill="#1a1a1a">Intensity (arb. units)</text>
<g fill="url(#sg3)" stroke="#5a5bef" stroke-width="0.4"><circle cx="539.30" cy="457.50" r="2.5"/><circle cx="542.00" cy="436.90" r="2.5"/><circle cx="545.50" cy="424.10" r="2.5"/><circle cx="549.00" cy="414.00" r="2.5"/><circle cx="552.90" cy="400.00" r="2.5"/><circle cx="557.30" cy="390.70" r="2.5"/><circle cx="562.20" cy="381.90" r="2.5"/><circle cx="568.70" cy="371.40" r="2.5"/><circle cx="575.40" cy="369.20" r="2.5"/><circle cx="584.20" cy="365.70" r="2.5"/><circle cx="594.20" cy="366.60" r="2.5"/><circle cx="606.50" cy="365.70" r="2.5"/><circle cx="622.00" cy="358.20" r="2.5"/><circle cx="642.70" cy="360.80" r="2.5"/><circle cx="670.00" cy="369.10" r="2.5"/></g>
<path d="M538.50,459.60 L539.33,454.92 L540.16,450.39 L540.99,446.00 L541.82,441.78 L542.65,437.71 L543.48,433.79 L544.31,430.03 L545.14,426.43 L545.97,422.97 L546.80,419.68 L547.63,416.52 L548.45,413.52 L549.28,410.66 L550.11,407.93 L550.94,405.35 L551.77,402.89 L552.60,400.56 L553.43,398.35 L554.26,396.26 L555.09,394.28 L555.92,392.40 L556.75,390.64 L557.58,388.97 L558.41,387.39 L559.24,385.91 L560.07,384.51 L560.90,383.19 L561.73,381.95 L562.56,380.78 L563.39,379.69 L564.22,378.66 L565.05,377.69 L565.88,376.78 L566.71,375.92 L567.53,375.12 L568.36,374.37 L569.19,373.66 L570.02,373.00 L570.85,372.38 L571.68,371.79 L572.51,371.25 L573.34,370.74 L574.17,370.26 L575.00,369.81 L575.83,369.39 L576.66,369.00 L577.49,368.63 L578.32,368.29 L579.15,367.96 L579.98,367.66 L580.81,367.38 L581.64,367.12 L582.47,366.87 L583.30,366.64 L584.13,366.42 L584.96,366.22 L585.78,366.03 L586.61,365.85 L587.44,365.69 L588.27,365.54 L589.10,365.39 L589.93,365.26 L590.76,365.13 L591.59,365.01 L592.42,364.90 L593.25,364.80 L594.08,364.70 L594.91,364.61 L595.74,364.53 L596.57,364.45 L597.40,364.38 L598.23,364.31 L599.06,364.25 L599.89,364.19 L600.72,364.13 L601.55,364.08 L602.38,364.03 L603.21,363.98 L604.04,363.94 L604.86,363.90 L605.69,363.86 L606.52,363.83 L607.35,363.80 L608.18,363.77 L609.01,363.74 L609.84,363.71 L610.67,363.69 L611.50,363.66 L612.33,363.64 L613.16,363.62 L613.99,363.60 L614.82,363.59 L615.65,363.57 L616.48,363.55 L617.31,363.54 L618.14,363.53 L618.97,363.51 L619.80,363.50 L620.63,363.49 L621.46,363.48 L622.29,363.47 L623.12,363.46 L623.94,363.45 L624.77,363.45 L625.60,363.44 L626.43,363.43 L627.26,363.43 L628.09,363.42 L628.92,363.41 L629.75,363.41 L630.58,363.40 L631.41,363.40 L632.24,363.40 L633.07,363.39 L633.90,363.39 L634.73,363.39 L635.56,363.38 L636.39,363.38 L637.22,363.38 L638.05,363.37 L638.88,363.37 L639.71,363.37 L640.54,363.37 L641.37,363.36 L642.19,363.36 L643.02,363.36 L643.85,363.36 L644.68,363.36 L645.51,363.36 L646.34,363.36 L647.17,363.35 L648.00,363.35 L648.83,363.35 L649.66,363.35 L650.49,363.35 L651.32,363.35 L652.15,363.35 L652.98,363.35 L653.81,363.35 L654.64,363.35 L655.47,363.35 L656.30,363.35 L657.13,363.34 L657.96,363.34 L658.79,363.34 L659.62,363.34 L660.45,363.34 L661.27,363.34 L662.10,363.34 L662.93,363.34 L663.76,363.34 L664.59,363.34 L665.42,363.34 L666.25,363.34 L667.08,363.34 L667.91,363.34 L668.74,363.34 L669.57,363.34 L670.40,363.34" fill="none" stroke="#5a5bef" stroke-width="1.0" stroke-linejoin="round" />
<rect x="533.20" y="342.70" width="141.20" height="128.30" fill="none" stroke="#262626" stroke-width="1"/>
<line x1="533.20" y1="358.70" x2="536.40" y2="358.70" stroke="#262626" stroke-width="1" />
<text x="531.60" y="361.80" font-size="8.95" text-anchor="end" fill="#1a1a1a" >22.0k</text>
<line x1="533.20" y1="390.70" x2="536.40" y2="390.70" stroke="#262626" stroke-width="1" />
<text x="531.60" y="393.80" font-size="8.95" text-anchor="end" fill="#1a1a1a" >20.0k</text>
<line x1="533.20" y1="422.70" x2="536.40" y2="422.70" stroke="#262626" stroke-width="1" />
<text x="531.60" y="425.80" font-size="8.95" text-anchor="end" fill="#1a1a1a" >18.0k</text>
<line x1="533.20" y1="454.70" x2="536.40" y2="454.70" stroke="#262626" stroke-width="1" />
<text x="531.60" y="457.80" font-size="8.95" text-anchor="end" fill="#1a1a1a" >16.0k</text>
<line x1="533.20" y1="374.70" x2="535.10" y2="374.70" stroke="#262626" stroke-width="0.8" />
<line x1="533.20" y1="406.70" x2="535.10" y2="406.70" stroke="#262626" stroke-width="0.8" />
<line x1="533.20" y1="438.70" x2="535.10" y2="438.70" stroke="#262626" stroke-width="0.8" />
<line x1="533.20" y1="471.00" x2="533.20" y2="472.80" stroke="#262626" stroke-width="0.7" />
<line x1="548.89" y1="471.00" x2="548.89" y2="474.00" stroke="#262626" stroke-width="1" />
<text x="548.89" y="483.50" font-size="8.95" text-anchor="middle" fill="#1a1a1a" >0.004</text>
<line x1="564.58" y1="471.00" x2="564.58" y2="472.80" stroke="#262626" stroke-width="0.7" />
<line x1="580.27" y1="471.00" x2="580.27" y2="474.00" stroke="#262626" stroke-width="1" />
<text x="580.27" y="483.50" font-size="8.95" text-anchor="middle" fill="#1a1a1a" >0.006</text>
<line x1="595.96" y1="471.00" x2="595.96" y2="472.80" stroke="#262626" stroke-width="0.7" />
<line x1="611.65" y1="471.00" x2="611.65" y2="474.00" stroke="#262626" stroke-width="1" />
<text x="611.65" y="483.50" font-size="8.95" text-anchor="middle" fill="#1a1a1a" >0.008</text>
<line x1="627.34" y1="471.00" x2="627.34" y2="472.80" stroke="#262626" stroke-width="0.7" />
<line x1="643.03" y1="471.00" x2="643.03" y2="474.00" stroke="#262626" stroke-width="1" />
<text x="643.03" y="483.50" font-size="8.95" text-anchor="middle" fill="#1a1a1a" >0.010</text>
<line x1="658.72" y1="471.00" x2="658.72" y2="472.80" stroke="#262626" stroke-width="0.7" />
<line x1="674.41" y1="471.00" x2="674.41" y2="474.00" stroke="#262626" stroke-width="1" />
<text x="674.41" y="483.50" font-size="8.95" text-anchor="middle" fill="#1a1a1a" >0.012</text>
<text x="602.40" y="497.80" font-size="8.95" text-anchor="middle" fill="#1a1a1a" >1/T (K<tspan font-size="5.4" dy="-3.3">-1</tspan><tspan dy="3.3">)</tspan></text>
<circle cx="547.20" cy="348.5" r="2.5" fill="url(#sg3)" stroke="#5a5bef" stroke-width="0.4"/>
<text x="557.40" y="351.60" font-size="8.8" text-anchor="start" fill="#1a1a1a" >Deep-blue</text>
<line x1="537.60" y1="359.60" x2="557.60" y2="359.60" stroke="#5a5bef" stroke-width="1.3" />
<text x="559.70" y="362.70" font-size="8.8" text-anchor="start" fill="#1a1a1a" >Fitting curve</text>
<text x="603.90" y="353.8" font-size="9.0" fill="#5a5bef"><tspan font-style="italic">E</tspan><tspan font-size="5.8" dy="2.6">b</tspan><tspan dy="-2.6"> = 111.27 meV</tspan></text>
<text transform="translate(6.6,406.6) rotate(-90)" font-size="8.95" text-anchor="middle" fill="#1a1a1a">PL intensity (arb. units)</text></svg></body></html>
